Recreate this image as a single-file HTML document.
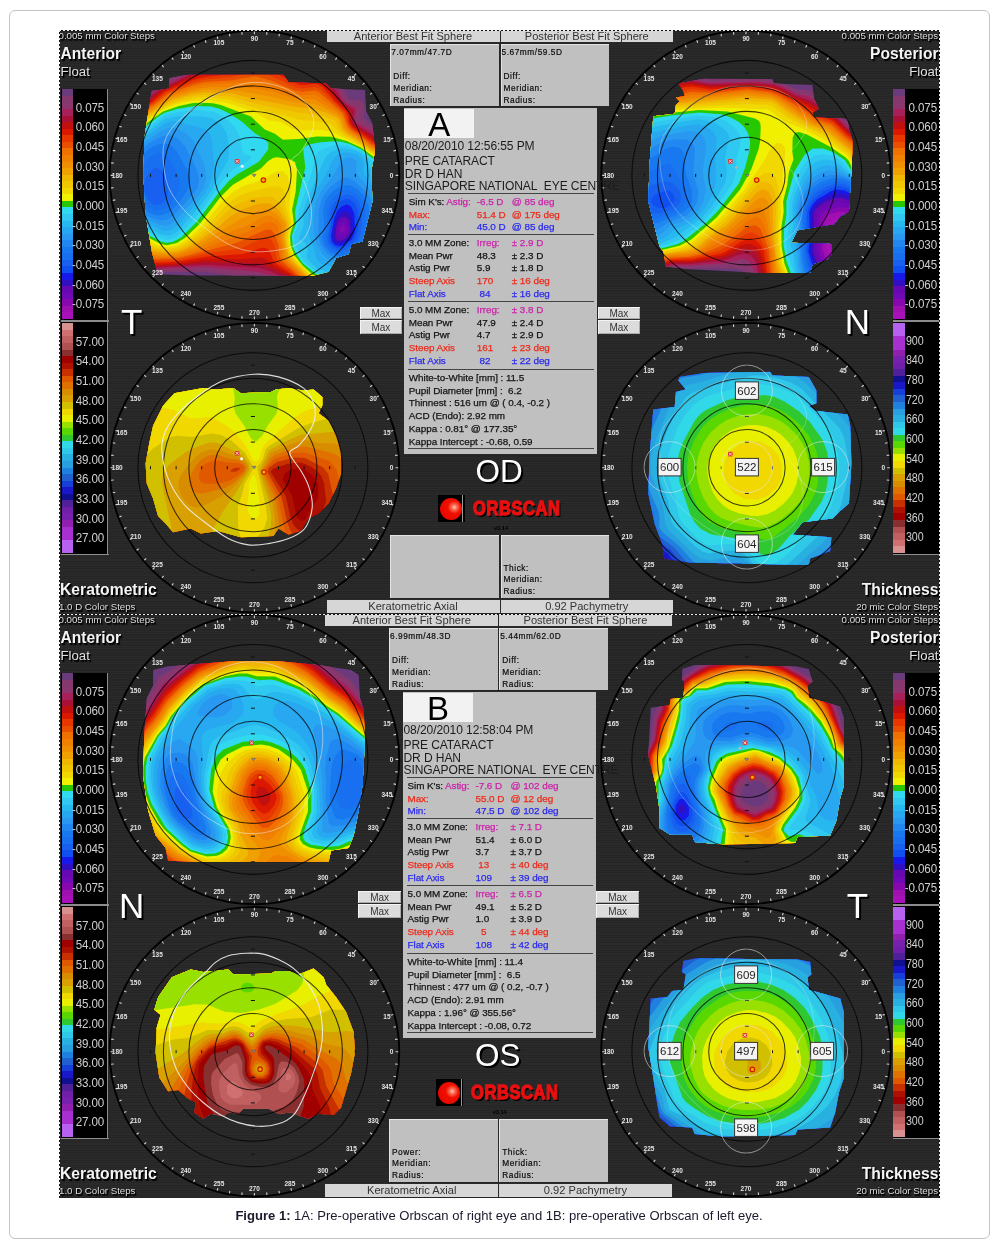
<!DOCTYPE html><html><head><meta charset="utf-8"><title>Figure 1</title><style>

html,body{margin:0;padding:0;background:#fff}
body{width:997px;height:1246px;position:relative;overflow:hidden;font-family:"Liberation Sans",sans-serif}
#frame{position:absolute;left:9px;top:10px;width:981px;height:1228.5px;border:1px solid #c4c4c4;border-radius:6px;box-sizing:border-box}
#fig{position:absolute;left:59px;top:30px;width:881px;height:1168px;background:#292929;overflow:hidden}
.panel{position:absolute;left:0;width:881px;height:584px;overflow:hidden;background:#2a2a2a repeating-linear-gradient(0deg,rgba(0,0,0,0.11) 0,rgba(0,0,0,0.11) 1px,rgba(0,0,0,0) 1px,rgba(0,0,0,0) 2.5px)}
.panel span,.panel div,.panel i{position:absolute;display:block;white-space:nowrap}
.sh{color:#f4f4f4;text-shadow:1px 1px 0 #000,1.5px 1.5px 1px #000}
.sh2{color:#fff;text-shadow:2px 2px 0 #000,1px 1px 0 #000}
.t9{font-size:9.7px;line-height:12px;color:#ddd}
.big{font-size:15.6px;font-weight:bold;line-height:22px;transform:scaleY(1.05)}
.big2{font-size:15.7px;font-weight:bold;line-height:22px;transform:scaleY(1.06)}
.flt{font-size:13.2px;line-height:14px;color:#e0e0e0}
.blk{background:#000}
.gl{background:#8c8c8c}
.sl{font-size:11.6px;line-height:14px;color:#d0d0d0;letter-spacing:-0.1px;transform:scaleY(1.15)}
.tn{font-size:35px;line-height:40px;text-align:center}
.tb{height:10.6px;background:#d6d6d6;color:#333;font-size:11.1px;line-height:11.5px;text-align:center;overflow:hidden}
.gb{height:62.6px;background:#c0c0c0;box-shadow:inset 1px 1px 0 #e4e4e4}
.g8{font-size:8.3px;line-height:10px;color:#0c0c0c;letter-spacing:0.55px;-webkit-text-stroke:0.2px #0c0c0c}
.mx{width:42.6px;height:12.4px;overflow:hidden;background:#dcdcdc;color:#333;font-size:10px;line-height:12.5px;text-align:center;box-shadow:inset 1px 1px 0 #f4f4f4,inset -1px -1px 0 #aaa}
.info{background:#c0c0c0;overflow:visible}
.info .wb{left:0.5px;top:1.4px;width:69.5px;height:28.2px;background:#f2f2f2}
.info .ltr{left:17.5px;top:-0.7px;width:36px;text-align:center;font-size:33px;line-height:36px;color:#000}
.info .hd{left:1px;font-size:12.05px;line-height:15px;color:#1c1c1c;letter-spacing:-0.1px;transform:scaleY(1.1);transform-origin:left center}
.info .ln{left:4.5px;width:186px;height:1px;background:#444}
.info .r{left:0;width:193px;height:12px;font-size:9.9px;line-height:12px;color:#141414;letter-spacing:-0.05px;margin-top:0.4px;-webkit-text-stroke:0.25px currentColor}
.info .r span{top:0}
.info .r.rd, .info .r.rd span{color:#ee2a1a}
.info .r.bl, .info .r.bl span{color:#2a2aee}
.info .r .m{color:#cc22aa}
.od{font-size:31.5px;line-height:36px;text-align:center}
.lg{width:27px;height:27.5px;background:#000}
.lg .c1{left:2px;top:3px;width:22px;height:22px;border-radius:50%;background:radial-gradient(circle at 65% 42%,#ffd0c0 0,#ff6a50 14%,#f01000 34%,#e00000 100%)}
.lg .c2{left:24.5px;top:0;width:1px;height:27.5px;background:#999}
.orb{font-size:20px;font-weight:bold;line-height:22px;color:#e81010;letter-spacing:0.6px;text-shadow:2px 2px 0 #000;-webkit-text-stroke:1.3px #e81010;transform:scaleX(0.83);transform-origin:left}
.ver{font-size:5.6px;line-height:6px;color:#000;font-weight:bold}
.tb.tb2{height:12.6px;line-height:13.2px}
.dash{left:0;top:0;width:881px;height:1.2px;background:repeating-linear-gradient(90deg,#eee 0,#eee 2px,#111 2px,#111 4px)}
.dashv{left:0;top:0;width:1.2px;height:584px;background:repeating-linear-gradient(180deg,#eee 0,#eee 2px,#111 2px,#111 4px)}
#cap{position:absolute;left:0;top:1207.8px;width:998px;text-align:center;font-size:13.05px;line-height:16px;color:#1a1a2c}

</style></head><body>
<div id="frame"></div>
<div id="fig">
<div class="panel" style="top:0px">
<svg style="position:absolute;left:0;top:0" width="881" height="584" viewBox="0 0 881 584"><g transform="translate(193.9,145.4)"><clipPath id="c1"><path d="M-83.5,-97.3 -64.7,-100.6 30.6,-100.6 35.6,-93.1 73.2,-91.8 78.2,-86.8 112.1,-85.5 113.3,-64.2 119.6,-51.7 122.1,-24.1 118.3,-4.0 119.6,26.1 113.3,51.1 109.6,66.2 98.3,68.7 95.8,78.7 83.2,82.5 75.7,96.3 60.7,100.0 -62.2,100.0 -94.8,98.8 -98.6,86.2 -101.1,76.2 -107.3,38.6 -109.4,1.0 -108.6,-36.6 -104.8,-61.7 -101.1,-84.3 -83.5,-86.8Z"/></clipPath><g clip-path="url(#c1)"><rect x="-130" y="-130" width="260" height="260" fill="#6b3a7c"/><path d="M130.0,130.0 42.5,130.0 30.0,114.3 19.9,108.0 6.0,104.3 -46.0,96.7 -88.0,96.5 -112.0,98.8 -130.0,97.4 -130.0,-74.6 -110.0,-81.4 -94.0,-92.1 -78.0,-99.4 -58.0,-111.0 -18.0,-124.0 -4.0,-127.4 12.0,-128.2 28.0,-125.4 66.0,-112.0 78.0,-105.4 86.5,-96.0 96.0,-76.2 108.0,-75.0 110.0,-73.5 111.7,-68.0 111.0,-58.0 111.8,-56.0 120.7,-50.0 130.0,-46.4 130.0,130.0Z" fill="#83386e"/><path d="M130.0,130.0 46.1,130.0 34.0,113.5 28.1,108.0 18.0,103.5 4.0,100.3 -50.0,94.0 -90.0,94.7 -110.0,96.6 -130.0,94.9 -130.0,-72.1 -108.0,-79.8 -93.8,-90.0 -78.0,-97.1 -58.0,-108.4 -4.0,-124.0 10.0,-124.8 24.0,-122.5 66.0,-107.8 76.0,-102.4 83.7,-94.0 94.0,-74.3 104.0,-70.8 106.6,-68.0 107.2,-64.0 105.4,-56.0 106.6,-54.0 122.0,-45.5 130.0,-42.7 130.0,130.0Z" fill="#8c3670"/><path d="M130.0,130.0 49.5,130.0 36.0,111.0 31.2,106.0 22.0,101.2 6.0,96.7 -48.0,91.7 -88.0,93.0 -108.0,94.8 -130.0,92.4 -130.0,-69.8 -106.8,-78.0 -92.0,-89.0 -76.0,-95.9 -58.0,-105.9 -2.0,-120.9 10.0,-121.2 22.0,-119.1 48.0,-108.7 66.0,-103.9 74.0,-99.8 81.3,-92.0 91.6,-74.0 94.0,-71.9 102.0,-68.3 103.7,-66.0 102.2,-54.0 122.0,-42.3 130.0,-39.7 130.0,130.0Z" fill="#a8205a"/><path d="M130.0,130.0 52.9,130.0 37.3,108.0 32.0,102.5 16.0,95.3 6.0,92.5 -48.0,89.3 -106.0,93.0 -130.0,89.9 -130.0,-67.6 -106.0,-76.1 -92.0,-86.9 -75.8,-94.0 -60.0,-102.7 -2.0,-117.5 8.0,-117.9 20.0,-115.8 48.0,-103.8 66.0,-100.3 73.8,-96.0 79.2,-90.0 89.3,-74.0 100.3,-66.0 101.0,-64.0 99.8,-56.0 101.3,-52.0 122.0,-39.5 130.0,-37.0 130.0,130.0Z" fill="#a81038"/><path d="M130.0,130.0 56.3,130.0 34.0,100.3 8.0,88.1 -48.0,86.8 -70.0,89.3 -104.0,91.3 -116.0,90.2 -130.0,87.3 -130.0,-65.3 -104.0,-74.9 -90.0,-86.1 -60.0,-100.3 -2.0,-114.1 8.0,-114.3 18.0,-112.5 28.0,-108.8 48.0,-98.9 64.0,-97.5 72.0,-93.7 77.4,-88.0 87.0,-74.0 97.9,-64.0 98.6,-54.0 101.2,-50.0 122.0,-36.9 130.0,-34.7 130.0,130.0Z" fill="#c01010"/><path d="M130.0,130.0 59.9,130.0 52.0,121.3 36.0,98.7 22.0,90.9 12.0,83.1 8.0,81.8 -10.0,83.9 -48.0,84.2 -70.0,87.5 -100.0,89.6 -114.0,88.4 -130.0,84.7 -130.0,-63.1 -102.0,-73.9 -90.0,-84.2 -60.0,-97.8 -48.0,-101.1 -24.0,-104.6 -2.0,-110.6 6.0,-110.9 14.0,-109.6 26.0,-105.4 48.0,-94.2 62.0,-94.6 70.0,-91.6 74.0,-88.0 84.6,-74.0 95.2,-64.0 97.2,-54.0 100.0,-49.2 120.0,-35.7 130.0,-32.6 130.0,130.0Z" fill="#dc1800"/><path d="M130.0,130.0 63.7,130.0 53.8,120.0 38.5,98.0 23.2,88.0 20.1,84.0 16.0,74.7 12.0,72.3 8.0,72.7 -10.0,78.7 -46.0,81.2 -76.0,86.3 -104.0,87.7 -130.0,82.0 -130.0,-60.8 -102.0,-72.2 -88.0,-83.5 -60.0,-95.4 -48.0,-98.5 -24.0,-101.1 -2.0,-107.0 8.0,-106.9 18.0,-104.3 46.0,-90.8 50.0,-90.1 62.0,-91.6 66.0,-90.6 70.0,-88.1 82.1,-74.0 92.9,-64.0 94.9,-60.0 96.6,-52.0 99.4,-48.0 120.0,-33.5 130.0,-30.6 130.0,130.0Z" fill="#e83800"/><path d="M130.0,130.0 67.8,130.0 56.0,119.2 39.1,96.0 25.4,86.0 23.6,82.0 21.9,70.0 18.0,64.0 14.0,62.2 8.0,63.7 -12.0,72.8 -46.0,78.1 -74.0,84.4 -102.0,86.0 -114.0,83.9 -130.0,79.2 -130.0,-58.6 -100.0,-71.7 -86.0,-82.7 -60.0,-92.9 -48.0,-95.9 -22.0,-98.1 -2.0,-103.3 6.0,-103.2 16.0,-100.5 44.0,-87.7 50.0,-86.9 62.0,-88.5 68.0,-86.0 92.0,-62.4 95.3,-52.0 98.0,-47.6 119.2,-32.0 130.0,-28.8 130.0,130.0Z" fill="#e85000"/><path d="M130.0,130.0 72.5,130.0 70.0,128.4 58.0,118.2 43.1,98.0 28.0,84.5 26.5,80.0 25.8,70.0 21.3,58.0 17.7,54.0 12.0,54.5 -16.0,67.4 -74.0,82.7 -102.0,84.0 -114.0,81.6 -130.0,76.3 -130.0,-56.2 -100.0,-70.2 -84.0,-81.8 -58.0,-91.2 -48.0,-93.3 -22.0,-94.9 2.0,-99.2 18.0,-94.9 42.0,-84.6 50.0,-83.6 62.0,-85.0 66.0,-83.4 90.0,-62.4 94.8,-50.0 98.0,-45.8 110.0,-37.9 118.0,-30.9 130.0,-27.1 130.0,130.0Z" fill="#f07000"/><path d="M130.0,130.0 78.3,130.0 66.0,122.4 56.0,112.9 45.2,98.0 30.5,84.0 29.0,80.0 28.8,72.0 25.9,62.0 25.1,52.0 22.2,48.0 18.0,46.5 12.0,47.3 -4.0,56.2 -62.4,78.0 -74.0,81.0 -102.0,81.9 -114.0,79.1 -130.0,73.3 -130.0,-53.9 -100.0,-68.7 -84.0,-80.1 -60.0,-88.3 -48.0,-90.8 2.0,-93.3 16.0,-90.2 40.0,-81.4 48.0,-80.2 62.0,-80.6 68.0,-77.5 88.2,-62.0 90.9,-58.0 94.0,-48.7 98.0,-44.1 110.0,-36.3 118.0,-29.3 130.0,-25.4 130.0,130.0Z" fill="#f08000"/><path d="M130.0,130.0 86.1,130.0 74.0,124.6 64.0,117.9 56.0,110.0 47.3,98.0 32.9,84.0 31.2,80.0 30.6,72.0 28.1,62.0 29.1,50.0 24.7,44.0 18.0,40.7 14.0,40.4 8.0,42.0 -2.0,48.3 -20.0,55.3 -58.5,74.0 -74.0,79.2 -86.0,80.4 -102.0,79.7 -114.0,76.5 -130.0,70.3 -130.0,-51.4 -100.0,-67.3 -82.0,-79.1 -58.0,-86.5 -44.0,-88.5 -6.0,-87.9 14.0,-85.0 42.0,-77.1 61.8,-76.0 84.0,-63.1 89.3,-58.0 92.7,-48.0 96.1,-44.0 110.0,-34.8 118.0,-28.0 130.0,-23.7 130.0,130.0Z" fill="#f09000"/><path d="M128.0,130.0 100.8,130.0 92.0,128.3 76.0,122.6 62.0,113.5 49.3,98.0 36.7,86.0 33.8,82.0 29.8,62.0 32.0,51.8 31.7,48.0 24.0,38.4 16.0,34.6 6.0,35.5 -14.0,44.5 -59.9,72.0 -74.0,77.4 -86.0,78.8 -100.0,77.8 -112.0,74.5 -130.0,67.1 -130.0,-48.9 -102.0,-64.6 -82.0,-77.2 -60.0,-83.8 -46.0,-85.8 -14.0,-84.5 16.0,-79.1 42.0,-73.0 60.0,-71.6 68.0,-69.0 84.0,-60.7 88.0,-56.9 90.9,-48.0 96.0,-42.3 108.0,-34.8 118.0,-26.8 130.0,-22.0 130.0,129.8 128.0,130.0Z" fill="#f0a000"/><path d="M118.0,126.2 102.0,126.2 86.0,123.2 72.0,117.6 60.0,109.0 51.2,98.0 35.6,82.0 31.4,62.0 31.7,58.0 34.0,52.0 34.0,48.0 26.0,34.8 22.0,30.9 16.0,28.2 10.0,27.9 2.0,29.3 -14.0,35.8 -22.0,40.6 -40.4,56.0 -54.8,66.0 -66.0,72.6 -75.9,76.0 -86.0,77.1 -100.0,75.5 -111.1,72.0 -130.0,63.7 -130.0,-46.2 -82.0,-75.3 -62.0,-81.2 -48.0,-83.2 -20.0,-81.8 2.0,-76.2 44.0,-68.3 62.0,-66.3 74.0,-62.5 83.8,-58.0 86.0,-55.9 90.1,-46.0 94.0,-42.0 108.0,-33.4 118.0,-25.6 130.0,-20.2 130.0,124.3 118.0,126.2Z" fill="#f0b800"/><path d="M110.0,122.1 90.0,120.7 72.0,114.7 60.0,106.5 51.2,96.0 40.6,86.0 36.0,79.1 33.2,66.0 33.2,58.0 35.9,50.0 35.2,46.0 26.0,26.7 20.0,21.5 12.0,20.9 0.0,22.7 -16.0,28.8 -26.0,36.1 -39.5,50.0 -51.4,60.0 -65.8,70.0 -76.0,74.1 -86.0,75.4 -100.0,73.1 -130.0,60.3 -130.0,-43.4 -84.0,-72.5 -66.0,-78.1 -50.0,-80.6 -22.0,-78.8 0.0,-72.4 22.0,-67.5 48.0,-62.4 70.0,-59.5 82.0,-55.2 87.5,-46.0 91.3,-42.0 108.0,-32.0 118.0,-24.3 130.0,-18.2 130.0,118.5 110.0,122.1Z" fill="#f0c800"/><path d="M118.0,116.2 108.0,117.7 96.0,117.8 84.0,116.0 74.0,112.8 62.0,105.9 40.7,84.0 37.2,78.0 34.5,66.0 34.6,58.0 37.4,48.0 32.8,32.0 31.7,18.0 30.0,13.7 26.0,11.1 20.0,10.9 -4.0,16.6 -16.0,21.3 -26.0,28.7 -41.1,46.0 -51.5,56.0 -67.0,68.0 -76.0,72.1 -86.0,73.6 -98.0,71.3 -130.0,56.7 -130.0,-40.4 -86.0,-69.6 -74.0,-74.0 -54.0,-77.9 -40.0,-77.9 -26.0,-76.3 16.0,-63.2 32.0,-59.9 46.0,-55.6 70.0,-53.5 78.0,-51.4 90.9,-40.0 108.0,-30.6 116.0,-24.4 130.0,-15.9 130.0,112.4 118.0,116.2Z" fill="#f0d800"/><path d="M114.0,112.0 104.0,113.6 92.0,113.7 82.0,112.2 72.0,109.1 60.0,101.8 41.0,82.0 38.0,75.8 35.6,64.0 36.0,58.0 39.0,48.0 36.2,32.0 38.0,12.0 34.5,0.0 30.0,-4.4 24.0,-4.0 6.0,5.5 -10.0,10.9 -20.0,16.6 -30.0,25.7 -52.0,52.0 -66.0,64.3 -76.0,70.0 -86.0,71.8 -94.7,70.0 -128.4,54.0 -130.0,53.0 -130.0,-37.1 -94.0,-63.4 -86.0,-67.6 -76.0,-71.3 -62.0,-74.5 -44.0,-75.4 -28.0,-73.2 1.2,-64.0 16.0,-55.0 28.0,-53.4 40.0,-46.2 50.0,-44.8 68.0,-45.7 80.0,-43.1 108.0,-29.2 124.5,-18.0 130.0,-13.0 130.0,106.0 114.0,112.0Z" fill="#f0f000"/><path d="M108.0,108.4 98.0,109.8 88.0,109.7 70.0,105.5 60.0,99.4 49.6,90.0 41.6,80.0 37.7,70.0 37.1,62.0 37.9,56.0 40.9,48.0 39.2,34.0 42.8,16.0 44.1,-6.0 42.0,-13.5 36.0,-16.4 24.0,-18.1 20.0,-17.3 14.8,-14.0 8.0,-7.0 -20.0,9.4 -32.0,21.1 -52.8,48.0 -67.4,62.0 -76.0,67.6 -86.0,69.8 -92.0,68.5 -125.6,52.0 -130.0,49.1 -130.0,-33.6 -117.6,-44.0 -90.0,-63.9 -74.0,-69.4 -60.0,-72.3 -52.0,-72.7 -40.0,-72.2 -32.0,-70.5 -2.0,-58.9 11.9,-46.0 22.0,-41.7 30.0,-35.7 46.0,-36.5 64.0,-39.0 78.0,-38.6 94.0,-34.5 108.0,-27.8 124.2,-16.0 130.0,-9.0 130.0,44.0 130.0,99.1 120.0,104.6 108.0,108.4Z" fill="#28c800"/><path d="M-80.0,66.4 -86.0,67.4 -92.0,66.0 -120.0,51.6 -130.0,44.9 -130.0,-29.7 -116.3,-42.0 -93.0,-60.0 -88.0,-62.6 -76.0,-66.3 -58.0,-69.5 -42.0,-68.9 -34.0,-67.0 -23.5,-62.0 -11.2,-54.0 2.0,-42.2 12.0,-36.0 15.6,-32.0 15.3,-26.0 6.0,-13.6 -16.0,-0.9 -24.0,5.6 -34.0,17.1 -55.8,46.0 -71.8,62.0 -80.0,66.4ZM106.0,104.1 96.0,105.7 86.0,105.8 74.8,104.0 66.0,100.9 50.0,88.0 42.9,78.0 40.0,71.3 38.9,60.0 43.1,48.0 42.1,36.0 52.4,-8.0 50.3,-26.0 52.0,-28.7 56.0,-30.9 66.0,-33.0 80.0,-34.1 88.0,-33.7 96.0,-31.7 108.5,-26.0 121.0,-16.0 124.6,-12.0 130.0,-2.6 130.0,91.5 118.0,99.6 106.0,104.1Z" fill="#30d8f0"/><path d="M-84.0,64.3 -88.0,64.2 -94.0,61.9 -119.8,48.0 -130.0,40.3 -130.0,-25.2 -114.7,-40.0 -88.0,-60.1 -76.0,-63.2 -56.0,-65.3 -38.0,-63.2 -28.0,-58.0 -17.7,-48.0 -12.7,-38.0 -10.6,-24.0 -8.0,-21.1 -2.6,-20.0 -1.7,-18.0 -5.5,-14.0 -18.0,-7.4 -24.0,-2.5 -30.0,4.6 -48.0,30.6 -59.0,44.0 -74.0,59.7 -78.0,62.4 -84.0,64.3ZM102.0,100.3 92.0,101.8 82.0,101.6 72.0,99.9 64.0,96.8 51.3,86.0 42.0,69.0 41.3,66.0 41.6,58.0 46.1,48.0 45.5,40.0 46.3,34.0 59.2,-4.0 62.8,-20.0 65.6,-24.0 68.6,-26.0 82.0,-30.3 94.0,-30.0 108.7,-24.0 120.8,-12.0 130.0,6.5 130.0,83.0 124.0,89.1 117.2,94.0 102.0,100.3Z" fill="#30c8f0"/><path d="M-84.0,60.4 -92.0,59.0 -114.0,47.6 -122.7,42.0 -130.0,35.0 -130.0,-19.9 -115.2,-36.0 -88.0,-56.6 -74.0,-59.4 -50.0,-58.9 -40.0,-56.8 -32.0,-51.4 -26.1,-42.0 -24.1,-30.0 -23.8,-20.0 -24.7,-16.0 -42.1,16.0 -50.0,27.3 -74.0,54.7 -78.0,58.0 -84.0,60.4ZM100.0,96.0 92.0,97.4 82.0,97.4 72.0,96.0 64.0,92.8 54.6,84.0 53.5,80.0 54.6,74.0 54.1,70.0 52.0,67.3 46.7,64.0 45.9,62.0 50.7,50.0 50.2,38.0 52.6,28.0 71.4,-16.0 73.9,-20.0 78.0,-23.5 88.0,-27.2 98.9,-26.0 106.0,-23.2 110.0,-20.1 115.9,-12.0 118.6,-2.0 130.0,16.9 130.0,72.8 125.2,80.0 118.0,87.0 110.0,92.2 100.0,96.0Z" fill="#28b8f0"/><path d="M-82.0,54.8 -86.0,55.7 -90.0,55.2 -110.0,46.1 -122.0,38.0 -129.1,30.0 -130.0,28.6 -130.0,-13.1 -120.0,-27.1 -106.0,-39.8 -88.0,-51.8 -82.0,-53.9 -76.0,-54.2 -50.0,-47.0 -44.8,-44.0 -41.8,-38.0 -38.5,-10.0 -41.2,4.0 -47.7,18.0 -74.0,48.5 -82.0,54.8ZM96.0,92.3 82.0,92.7 67.3,88.0 63.9,84.0 62.1,76.0 55.4,58.0 55.7,36.0 61.3,18.0 72.4,0.0 81.3,-18.0 86.7,-22.0 94.0,-23.5 104.0,-21.0 109.1,-16.0 110.6,-12.0 110.8,-2.0 124.2,16.0 130.0,31.7 130.0,56.7 124.3,72.0 118.2,80.0 112.0,85.3 104.0,89.8 96.0,92.3Z" fill="#28a8f0"/><path d="M-86.0,50.1 -94.0,49.2 -106.0,44.4 -116.0,38.3 -122.6,32.0 -126.8,26.0 -130.0,18.6 -130.0,-2.4 -122.6,-18.0 -110.0,-32.3 -92.0,-44.4 -84.0,-47.1 -78.0,-47.4 -68.0,-43.2 -60.0,-35.6 -48.4,-10.0 -46.8,2.0 -49.0,12.0 -54.0,19.5 -78.0,45.7 -82.0,48.7 -86.0,50.1ZM94.0,88.3 86.0,88.6 80.0,86.9 72.0,81.2 69.2,78.0 64.6,70.0 61.4,60.0 60.7,40.0 62.4,28.0 67.7,16.0 80.3,0.0 88.2,-14.0 92.0,-16.9 96.0,-18.0 100.0,-17.1 103.3,-14.0 103.6,-4.0 104.8,0.0 117.1,14.0 122.0,22.0 125.2,32.0 126.2,44.0 124.0,60.0 118.0,72.7 108.0,82.4 101.5,86.0 94.0,88.3Z" fill="#2898f0"/><path d="M-86.0,44.3 -92.0,45.0 -100.0,43.1 -108.0,39.4 -115.3,34.0 -120.6,28.0 -124.0,22.0 -126.0,16.0 -126.9,8.0 -126.0,0.0 -123.4,-8.0 -119.1,-16.0 -113.0,-24.0 -106.0,-30.7 -98.0,-35.9 -90.0,-39.2 -84.0,-39.9 -76.0,-37.7 -68.4,-30.0 -56.1,-6.0 -53.9,4.0 -55.5,12.0 -61.0,20.0 -79.4,40.0 -86.0,44.3ZM94.0,84.2 84.0,84.0 74.0,77.8 68.2,70.0 65.6,60.0 65.9,34.0 68.6,24.0 72.0,17.9 78.0,11.0 86.0,4.6 92.0,2.2 96.0,2.8 102.0,6.3 114.0,17.2 119.5,28.0 121.4,40.0 120.1,56.0 115.7,68.0 106.8,78.0 100.0,82.1 94.0,84.2Z" fill="#2088f0"/><path d="M-92.0,40.1 -98.0,39.5 -104.0,37.3 -113.5,30.0 -117.9,24.0 -120.5,18.0 -121.9,6.0 -118.1,-8.0 -108.7,-22.0 -104.0,-26.4 -98.0,-29.9 -88.0,-31.9 -81.9,-30.0 -75.9,-24.0 -65.2,-4.0 -62.8,6.0 -66.0,16.0 -74.7,28.0 -84.0,37.2 -92.0,40.1ZM94.0,80.5 86.0,81.1 78.0,77.5 71.2,70.0 69.0,62.0 71.1,50.0 70.2,34.0 72.3,26.0 76.0,19.8 82.0,14.0 88.0,10.8 94.0,9.7 98.0,10.4 104.0,13.4 110.9,20.0 115.7,30.0 117.0,42.0 115.7,56.0 112.0,66.3 104.0,75.2 94.0,80.5Z" fill="#1878f0"/><path d="M-90.0,34.4 -98.0,34.9 -107.1,30.0 -113.2,22.0 -116.1,12.0 -114.8,0.0 -110.0,-10.6 -102.0,-19.7 -94.0,-22.6 -88.0,-21.1 -82.8,-16.0 -75.4,-2.0 -73.3,6.0 -74.2,14.0 -77.7,22.0 -83.6,30.0 -90.0,34.4ZM90.0,78.1 84.0,77.7 80.0,76.0 76.0,72.8 72.9,68.0 71.6,62.0 74.5,50.0 73.7,36.0 76.0,27.6 81.6,20.0 88.0,16.0 96.0,14.9 104.0,18.5 109.9,26.0 112.6,36.0 112.5,50.0 110.7,60.0 106.6,68.0 98.0,75.0 90.0,78.1Z" fill="#1870f0"/><path d="M-92.0,28.7 -98.0,29.5 -102.0,27.5 -106.4,22.0 -108.5,16.0 -108.6,8.0 -106.8,2.0 -102.0,-5.1 -98.0,-7.4 -94.0,-7.2 -90.0,-4.0 -86.6,2.0 -85.1,8.0 -85.2,20.0 -88.0,25.4 -92.0,28.7ZM92.0,74.7 86.0,75.6 80.0,73.4 75.3,68.0 74.0,62.0 76.7,50.0 77.1,36.0 79.0,30.0 85.7,22.0 94.0,19.2 100.0,20.7 105.4,26.0 108.4,34.0 109.1,44.0 107.7,58.0 105.4,64.0 100.1,70.0 92.0,74.7Z" fill="#1860f0"/><path d="M90.0,72.7 84.0,72.8 80.0,70.7 76.7,66.0 76.2,60.0 79.4,40.0 82.0,32.2 88.0,25.6 92.0,23.8 96.0,23.7 101.8,28.0 104.5,34.0 105.6,42.0 104.9,56.0 103.2,62.0 100.5,66.0 90.0,72.7Z" fill="#1050f0"/><path d="M90.0,70.2 86.0,70.8 82.0,69.6 79.0,66.0 78.2,60.0 81.6,42.0 84.0,36.0 88.0,31.3 94.0,28.9 98.0,31.0 101.5,38.0 102.1,56.0 98.9,64.0 90.0,70.2Z" fill="#1818e8"/><path d="M88.0,68.3 84.0,68.0 81.5,66.0 80.2,62.0 81.0,54.0 82.7,46.0 86.0,39.3 90.0,36.0 94.0,35.8 96.7,38.0 98.7,42.0 99.6,56.0 98.5,60.0 96.0,63.6 88.0,68.3Z" fill="#3010c0"/><path d="M90.0,64.8 86.0,65.5 84.0,64.6 82.8,62.0 82.5,56.0 84.0,48.4 86.0,44.4 88.0,42.3 92.0,41.1 96.0,44.6 97.5,54.0 95.8,60.0 90.0,64.8Z" fill="#6808b0"/><path d="M92.0,60.3 88.0,61.8 86.0,60.8 84.8,58.0 85.6,50.0 88.0,46.5 90.0,45.5 92.0,45.8 94.0,47.7 95.3,52.0 94.9,56.0 92.0,60.3Z" fill="#7008b8"/><path d="M90.0,57.0 88.0,56.4 87.2,54.0 88.0,50.8 90.0,49.5 92.5,52.0 92.0,55.2 90.0,57.0Z" fill="#8808b0"/></g><circle r="38.2" fill="none" stroke="#000" stroke-width="1.05" stroke-opacity="0.75"/><circle r="64.0" fill="none" stroke="#000" stroke-width="1.05" stroke-opacity="0.75"/><circle r="89.5" fill="none" stroke="#000" stroke-width="1.05" stroke-opacity="0.75"/><circle r="115.0" fill="none" stroke="#000" stroke-width="1.05" stroke-opacity="0.75"/><path d="M25.6,-1.5v3M-25.6,-1.5v3M-2,25.6h4M-2,-25.6h4M51.2,-1.5v3M-51.2,-1.5v3M-2,51.2h4M-2,-51.2h4M76.8,-1.5v3M-76.8,-1.5v3M-2,76.8h4M-2,-76.8h4M102.4,-1.5v3M-102.4,-1.5v3M-2,102.4h4M-2,-102.4h4" stroke="#111" stroke-width="1" fill="none"/><path d="M-89.8,-16.6C-90.2,-24.5 -89.8,-30.4 -87.3,-36.6C-84.8,-42.9 -80.6,-48.3 -74.7,-54.2C-68.9,-60.0 -60.5,-66.3 -52.2,-71.7C-43.8,-77.2 -33.4,-83.2 -24.6,-86.8C-15.8,-90.3 -7.9,-92.6 0.5,-93.1C8.8,-93.5 18.0,-91.6 25.6,-89.3C33.1,-87.0 40.2,-83.4 45.6,-79.3C51.0,-75.1 55.6,-69.2 58.1,-64.2C60.7,-59.2 61.1,-53.8 60.7,-49.2C60.2,-44.6 57.7,-40.8 55.6,-36.6C53.6,-32.5 51.0,-27.9 48.1,-24.1C45.2,-20.3 38.5,-17.4 38.1,-14.1C37.7,-10.7 43.1,-8.2 45.6,-4.0C48.1,0.1 51.0,5.2 53.1,11.0C55.2,16.9 57.5,24.4 58.1,31.1C58.8,37.8 58.6,45.3 56.9,51.1C55.2,57.0 52.5,62.4 48.1,66.2C43.7,69.9 38.5,72.0 30.6,73.7C22.6,75.4 9.7,77.0 0.5,76.2C-8.7,75.4 -16.2,72.9 -24.6,68.7C-33.0,64.5 -42.2,57.0 -49.7,51.1C-57.2,45.3 -63.9,40.3 -69.7,33.6C-75.6,26.9 -81.4,19.4 -84.8,11.0C-88.1,2.6 -89.4,-8.6 -89.8,-16.6Z" fill="none" stroke="#f0f0f0" stroke-width="0.7" stroke-opacity="0.75"/><rect x="-18.1" y="-16.4" width="4.6" height="4.6" fill="#e03030"/><path d="M-17.3,-15.6l3,3m0,-3l-3,3" stroke="#fff" stroke-width="0.8"/><circle cx="-10.8" cy="-9.1" r="1.5" fill="#fff"/><path d="M-0.8,-1.1h4l-2,2.6z" fill="#8090b0" stroke="#444" stroke-width="0.4"/><circle cx="10.5" cy="4.7" r="2.2" fill="#ffb000" stroke="#d02000" stroke-width="1.3"/><g transform="translate(1.5,0)"><circle r="144.8" fill="none" stroke="#000" stroke-width="1.9"/><path d="M143.8,-0.0L141.2,-0.0M143.3,-12.5L140.7,-12.3M141.6,-25.0L139.1,-24.5M138.9,-37.2L136.4,-36.5M135.1,-49.2L132.7,-48.3M130.3,-60.8L128.0,-59.7M124.5,-71.9L122.3,-70.6M117.8,-82.5L115.7,-81.0M110.2,-92.4L108.2,-90.8M101.7,-101.7L99.8,-99.8M92.4,-110.2L90.8,-108.2M82.5,-117.8L81.0,-115.7M71.9,-124.5L70.6,-122.3M60.8,-130.3L59.7,-128.0M49.2,-135.1L48.3,-132.7M37.2,-138.9L36.5,-136.4M25.0,-141.6L24.5,-139.1M12.5,-143.3L12.3,-140.7M0.0,-143.8L0.0,-141.2M-12.5,-143.3L-12.3,-140.7M-25.0,-141.6L-24.5,-139.1M-37.2,-138.9L-36.5,-136.4M-49.2,-135.1L-48.3,-132.7M-60.8,-130.3L-59.7,-128.0M-71.9,-124.5L-70.6,-122.3M-82.5,-117.8L-81.0,-115.7M-92.4,-110.2L-90.8,-108.2M-101.7,-101.7L-99.8,-99.8M-110.2,-92.4L-108.2,-90.8M-117.8,-82.5L-115.7,-81.0M-124.5,-71.9L-122.3,-70.6M-130.3,-60.8L-128.0,-59.7M-135.1,-49.2L-132.7,-48.3M-138.9,-37.2L-136.4,-36.5M-141.6,-25.0L-139.1,-24.5M-143.3,-12.5L-140.7,-12.3M-143.8,-0.0L-141.2,-0.0M-143.3,12.5L-140.7,12.3M-141.6,25.0L-139.1,24.5M-138.9,37.2L-136.4,36.5M-135.1,49.2L-132.7,48.3M-130.3,60.8L-128.0,59.7M-124.5,71.9L-122.3,70.6M-117.8,82.5L-115.7,81.0M-110.2,92.4L-108.2,90.8M-101.7,101.7L-99.8,99.8M-92.4,110.2L-90.8,108.2M-82.5,117.8L-81.0,115.7M-71.9,124.5L-70.6,122.3M-60.8,130.3L-59.7,128.0M-49.2,135.1L-48.3,132.7M-37.2,138.9L-36.5,136.4M-25.0,141.6L-24.5,139.1M-12.5,143.3L-12.3,140.7M-0.0,143.8L-0.0,141.2M12.5,143.3L12.3,140.7M25.0,141.6L24.5,139.1M37.2,138.9L36.5,136.4M49.2,135.1L48.3,132.7M60.8,130.3L59.7,128.0M71.9,124.5L70.6,122.3M82.5,117.8L81.0,115.7M92.4,110.2L90.8,108.2M101.7,101.7L99.8,99.8M110.2,92.4L108.2,90.8M117.8,82.5L115.7,81.0M124.5,71.9L122.3,70.6M130.3,60.8L128.0,59.7M135.1,49.2L132.7,48.3M138.9,37.2L136.4,36.5M141.6,25.0L139.1,24.5M143.3,12.5L140.7,12.3" stroke="#d0d0d0" stroke-width="1.1" fill="none"/><g font-size="6.5" font-weight="bold" fill="#e4e4e4" text-anchor="middle" font-family="Liberation Sans, sans-serif"><text x="137.2" y="2.3">0</text><text x="132.5" y="-33.2">15</text><text x="118.8" y="-66.3">30</text><text x="97.0" y="-94.7">45</text><text x="68.6" y="-116.5">60</text><text x="35.5" y="-130.2">75</text><text x="0.0" y="-134.9">90</text><text x="-35.5" y="-130.2">105</text><text x="-68.6" y="-116.5">120</text><text x="-97.0" y="-94.7">135</text><text x="-118.8" y="-66.3">150</text><text x="-132.5" y="-33.2">165</text><text x="-137.2" y="2.3">180</text><text x="-132.5" y="37.8">195</text><text x="-118.8" y="70.9">210</text><text x="-97.0" y="99.3">225</text><text x="-68.6" y="121.1">240</text><text x="-35.5" y="134.8">255</text><text x="-0.0" y="139.5">270</text><text x="35.5" y="134.8">285</text><text x="68.6" y="121.1">300</text><text x="97.0" y="99.3">315</text><text x="118.8" y="70.9">330</text><text x="132.5" y="37.8">345</text></g></g></g><g transform="translate(687.9,145.4)"><clipPath id="c2"><path d="M-68.5,-91.8 -42.2,-96.8 25.6,-96.3 26.8,-91.8 65.7,-90.5 66.9,-76.8 71.9,-66.7 65.7,-63.0 66.9,-58.0 100.8,-56.7 102.0,-46.7 105.8,-34.1 104.5,-4.0 102.0,36.1 93.3,41.1 87.0,48.6 50.6,54.9 44.4,67.4 84.5,68.7 84.5,78.7 80.7,83.7 65.7,88.7 63.2,97.5 15.5,97.5 -57.2,93.8 -81.0,91.2 -83.5,76.2 -87.3,71.2 -98.6,26.1 -97.3,-11.6 -93.6,-59.2 -72.2,-61.7 -71.0,-70.5 -67.2,-74.2 -71.0,-78.0 -62.2,-79.3 -63.5,-84.3Z"/></clipPath><g clip-path="url(#c2)"><rect x="-130" y="-130" width="260" height="260" fill="#6b3a7c"/><path d="M130.0,130.1 10.1,130.0 4.8,110.0 0.3,100.0 -4.0,95.5 -12.0,93.4 -38.0,92.8 -74.0,93.8 -130.0,119.4 -130.0,-105.7 -58.0,-100.7 -38.0,-96.1 14.0,-96.9 30.0,-94.8 50.0,-85.8 60.0,-85.4 66.0,-83.2 90.0,-65.0 102.1,-52.0 112.0,-45.9 130.0,-37.3 130.0,130.1Z" fill="#83386e"/><path d="M130.0,130.1 13.2,130.0 8.0,108.7 4.0,97.1 0.0,91.4 -6.0,88.8 -24.0,90.5 -74.0,91.9 -108.0,107.4 -130.0,116.1 -130.0,-102.7 -60.0,-98.8 -40.0,-94.5 12.0,-95.2 28.0,-93.4 36.0,-90.6 50.0,-83.4 60.0,-82.4 66.0,-80.0 88.0,-64.1 102.0,-49.7 130.0,-34.8 130.0,130.1Z" fill="#8c3670"/><path d="M130.0,130.1 16.2,130.0 6.6,92.0 2.0,85.5 -4.0,83.4 -24.0,87.9 -58.0,90.3 -74.0,90.0 -108.0,104.9 -130.0,112.9 -130.0,-99.8 -110.0,-99.3 -78.0,-96.7 -58.0,-96.7 -38.0,-92.7 10.0,-93.8 28.0,-91.7 36.0,-88.8 50.0,-81.4 60.0,-79.4 66.0,-76.7 88.0,-61.6 102.0,-47.5 130.0,-32.3 130.0,130.1Z" fill="#a8205a"/><path d="M130.0,130.1 19.0,130.0 8.8,86.0 4.0,80.0 -2.0,78.4 -8.0,79.4 -24.0,85.4 -56.0,88.6 -76.0,88.8 -104.0,101.0 -130.0,109.9 -130.0,-96.8 -108.0,-96.4 -76.0,-94.0 -58.0,-94.8 -38.0,-91.1 4.0,-92.5 26.0,-90.6 34.0,-87.9 48.0,-80.2 64.0,-74.7 88.0,-59.3 98.0,-48.7 104.0,-44.1 130.0,-29.8 130.0,130.1Z" fill="#a81038"/><path d="M130.0,130.1 21.8,130.0 12.0,82.8 8.0,76.5 2.0,73.7 -6.0,74.7 -18.0,80.8 -26.0,83.2 -56.0,87.1 -76.0,87.3 -104.0,98.8 -130.0,106.9 -130.0,-93.7 -108.0,-93.7 -76.0,-91.4 -56.0,-92.8 -36.0,-89.4 4.0,-91.2 26.0,-89.0 34.0,-86.1 48.0,-78.3 62.0,-72.8 84.0,-59.8 90.0,-55.4 102.0,-43.4 130.0,-27.2 130.0,130.1Z" fill="#c01010"/><path d="M130.0,130.1 24.5,130.0 19.1,106.0 14.9,80.0 10.0,71.9 4.0,68.8 0.0,68.7 -6.0,70.4 -24.0,80.2 -56.0,85.6 -76.0,85.9 -104.0,96.7 -130.0,104.0 -130.0,-90.7 -106.0,-91.0 -74.0,-88.6 -56.0,-90.8 -36.0,-87.7 2.0,-90.0 26.0,-87.4 34.0,-84.4 46.0,-77.3 60.0,-71.0 72.0,-63.1 86.0,-56.4 102.0,-41.4 130.0,-24.7 130.0,130.1Z" fill="#dc1800"/><path d="M130.0,130.1 27.2,130.0 21.2,104.0 17.0,76.0 14.0,70.3 10.0,65.7 4.0,63.2 -6.0,66.0 -21.0,76.0 -25.7,78.0 -54.0,83.9 -76.0,84.7 -104.0,94.7 -130.0,101.1 -130.0,-87.6 -104.0,-88.2 -72.0,-85.8 -62.0,-88.1 -54.0,-88.6 -36.0,-86.0 0.0,-88.8 26.0,-85.8 34.0,-82.6 58.0,-69.5 72.0,-60.2 86.0,-54.4 101.0,-40.0 130.0,-22.1 130.0,130.1Z" fill="#e83800"/><path d="M130.0,130.0 29.8,130.0 22.8,100.0 20.0,76.0 12.0,60.7 6.0,57.0 2.0,57.4 -4.0,60.0 -26.0,74.9 -52.0,82.1 -76.0,83.5 -104.0,92.7 -130.0,98.3 -130.0,-84.4 -102.0,-85.5 -70.0,-83.0 -56.0,-86.2 -36.0,-84.2 0.0,-87.4 26.0,-84.2 34.0,-80.8 56.1,-68.0 70.8,-58.0 86.0,-52.3 100.0,-38.7 120.0,-25.0 130.0,-19.5 130.0,130.0Z" fill="#e85000"/><path d="M130.0,130.0 32.4,130.0 24.6,98.0 22.0,74.4 14.0,54.6 12.0,51.9 8.0,49.8 4.0,50.3 -2.0,53.3 -26.0,70.8 -46.0,78.9 -58.0,81.5 -76.0,82.3 -102.0,90.2 -130.0,95.5 -130.0,-81.2 -102.0,-82.8 -68.0,-80.5 -56.0,-83.5 -34.0,-82.5 0.0,-86.0 24.0,-83.0 34.0,-78.9 58.0,-64.3 70.0,-55.7 84.0,-51.2 100.0,-36.6 120.0,-22.3 130.0,-16.9 130.0,130.0Z" fill="#f07000"/><path d="M130.0,130.0 35.0,130.0 27.1,100.0 24.5,76.0 18.0,52.0 14.0,43.7 10.0,41.5 2.0,44.6 -24.0,65.1 -48.0,77.8 -60.0,80.3 -76.0,81.2 -102.0,88.4 -130.0,92.7 -130.0,-77.9 -102.0,-80.1 -68.0,-78.2 -56.0,-80.6 -34.0,-80.6 0.0,-84.3 24.0,-81.4 32.4,-78.0 68.9,-54.0 84.0,-48.9 96.0,-37.6 116.0,-22.4 130.0,-14.3 130.0,130.0Z" fill="#f08000"/><path d="M130.0,130.0 37.6,130.0 27.8,94.0 26.3,76.0 23.0,64.0 20.0,44.3 17.4,36.0 14.0,31.7 10.0,32.3 6.0,34.8 -22.0,59.4 -36.0,67.3 -48.1,76.0 -58.0,78.6 -76.0,80.1 -104.0,86.9 -130.0,89.9 -130.0,-74.5 -102.0,-77.4 -68.0,-76.1 0.0,-82.3 24.0,-79.6 32.0,-76.2 68.0,-52.4 82.0,-47.8 116.0,-19.5 130.0,-11.8 130.0,130.0Z" fill="#f09000"/><path d="M130.0,130.0 40.2,130.0 29.2,92.0 27.8,76.0 24.8,62.0 21.6,28.0 19.9,24.0 16.0,21.8 12.0,22.8 8.0,25.7 -22.0,55.2 -38.0,65.2 -45.3,72.0 -50.0,74.8 -60.0,77.3 -76.0,78.9 -100.0,84.4 -130.0,87.1 -130.0,-71.0 -104.0,-74.5 -68.0,-74.1 -2.0,-80.1 24.0,-77.8 30.0,-75.3 66.0,-51.3 82.0,-45.3 116.0,-16.5 130.0,-9.2 130.0,130.0Z" fill="#f0a000"/><path d="M130.0,130.0 42.8,130.0 30.2,88.0 26.6,60.0 25.6,24.0 22.0,16.4 18.0,14.1 14.0,14.7 10.0,17.2 -20.0,49.3 -38.0,62.1 -50.0,72.6 -60.0,75.7 -76.0,77.7 -96.0,82.1 -130.0,84.3 -130.0,-67.3 -102.0,-71.8 -66.0,-72.2 -2.0,-77.6 24.0,-75.8 28.4,-74.0 44.0,-62.7 64.0,-50.3 80.0,-44.0 104.0,-24.7 115.2,-14.0 130.0,-6.7 130.0,130.0Z" fill="#f0b800"/><path d="M130.0,130.0 45.3,130.0 31.9,88.0 28.6,60.0 29.2,26.0 28.3,18.0 25.2,10.0 20.0,6.3 14.0,7.2 10.0,10.2 -21.1,46.0 -52.0,71.1 -60.2,74.0 -92.0,79.9 -110.0,81.4 -130.0,81.4 -130.0,-63.5 -110.0,-67.8 -94.0,-69.7 -66.0,-70.1 0.0,-74.8 24.0,-73.3 28.0,-71.4 42.0,-60.8 62.0,-49.0 80.0,-41.2 102.0,-23.9 113.4,-12.0 130.0,-4.3 130.0,130.0Z" fill="#f0c800"/><path d="M130.0,130.0 47.9,130.0 33.6,88.0 30.5,58.0 31.6,12.0 28.6,2.0 24.0,-2.7 18.0,-2.3 10.0,3.1 -4.0,21.7 -21.5,42.0 -54.9,70.0 -64.0,73.1 -90.0,78.2 -110.0,79.2 -130.0,78.4 -130.0,-59.5 -110.0,-64.5 -92.0,-67.0 -26.0,-70.5 2.0,-71.3 22.0,-70.5 27.4,-68.0 42.0,-56.9 78.0,-39.4 101.1,-22.0 111.5,-10.0 130.0,-1.9 130.0,130.0Z" fill="#f0d800"/><path d="M130.0,130.0 50.6,130.0 35.4,88.0 32.8,70.0 32.3,52.0 34.0,38.0 33.5,28.0 36.1,10.0 35.6,-2.0 38.0,-14.0 38.4,-24.0 37.8,-28.0 34.0,-32.2 30.0,-32.3 24.6,-28.0 16.8,-14.0 -2.4,14.0 -22.2,38.0 -32.3,48.0 -56.0,67.7 -66.8,72.0 -88.0,76.4 -108.0,76.9 -130.0,75.2 -130.0,-55.2 -104.0,-62.3 -80.0,-65.2 -28.0,-67.8 20.0,-66.1 24.7,-64.0 38.0,-53.4 52.0,-48.5 76.0,-37.0 100.0,-20.1 109.4,-8.0 130.0,0.5 130.0,130.0Z" fill="#f0f000"/><path d="M-84.0,74.3 -104.0,74.8 -130.0,71.9 -130.0,-50.5 -96.0,-60.5 -48.0,-65.3 -19.4,-64.0 8.0,-56.8 12.0,-54.7 13.5,-52.0 13.8,-48.0 13.2,-34.0 11.6,-26.0 4.3,-6.0 -6.8,14.0 -30.3,42.0 -55.6,64.0 -66.7,70.0 -84.0,74.3ZM130.0,130.0 53.2,130.0 37.5,88.0 34.6,70.0 34.4,52.0 36.8,36.0 36.2,26.0 40.2,10.0 42.1,-4.0 46.5,-16.0 45.4,-24.0 45.8,-38.0 48.0,-42.7 52.0,-43.3 60.0,-41.0 84.0,-28.1 98.9,-18.0 102.0,-14.4 105.1,-8.0 107.6,-6.0 130.0,2.9 130.0,130.0Z" fill="#28c800"/><path d="M-84.0,72.5 -106.0,72.3 -130.0,68.4 -130.0,-45.5 -99.3,-56.0 -76.0,-60.0 -48.0,-62.9 -26.0,-61.2 -15.9,-58.0 -8.0,-53.3 -2.3,-48.0 1.3,-42.0 3.2,-34.0 2.8,-26.0 -1.7,-8.0 -8.0,8.0 -28.0,34.4 -41.3,48.0 -63.9,66.0 -70.0,68.8 -84.0,72.5ZM130.0,130.0 55.9,130.0 39.6,86.0 36.7,70.0 37.2,52.0 39.4,40.0 39.4,26.0 47.4,-4.0 58.0,-21.2 66.0,-26.8 76.0,-26.9 86.0,-23.5 98.0,-15.2 104.0,-5.6 130.0,5.3 130.0,130.0Z" fill="#30d8f0"/><path d="M-84.0,70.4 -90.0,71.0 -104.0,69.9 -130.0,64.6 -130.0,-39.9 -96.0,-52.6 -52.0,-59.7 -34.0,-58.3 -22.0,-54.8 -10.2,-46.0 -6.5,-38.0 -6.8,-30.0 -10.6,-16.0 -11.0,-2.0 -14.3,8.0 -32.5,34.0 -43.9,46.0 -66.9,64.0 -84.0,70.4ZM130.0,130.0 58.7,130.0 58.0,128.3 45.1,92.0 40.1,72.0 39.8,66.0 42.1,48.0 42.7,26.0 44.9,18.0 53.9,-6.0 60.0,-14.5 68.0,-19.8 76.0,-21.4 86.0,-19.3 94.6,-14.0 104.0,-3.3 130.0,7.7 130.0,130.0Z" fill="#30c8f0"/><path d="M-86.0,68.0 -94.0,68.2 -108.0,66.3 -130.0,60.5 -130.0,-33.5 -106.0,-44.2 -86.8,-50.0 -50.0,-56.1 -40.0,-54.9 -30.7,-52.0 -22.1,-46.0 -18.9,-42.0 -17.6,-38.0 -21.9,-18.0 -19.8,-2.0 -21.9,8.0 -34.6,30.0 -44.6,42.0 -72.0,62.0 -86.0,68.0ZM130.0,130.0 61.5,130.0 58.0,121.8 48.8,96.0 46.1,78.0 43.4,68.0 43.7,62.0 46.2,52.0 45.3,30.0 48.2,18.0 56.0,-0.2 62.0,-8.8 70.0,-14.0 78.0,-15.8 86.0,-14.6 92.0,-11.4 102.7,-2.0 130.0,10.1 130.0,130.0Z" fill="#28b8f0"/><path d="M-86.0,64.2 -94.0,64.9 -106.0,63.3 -119.0,60.0 -130.0,55.7 -130.0,-26.3 -110.7,-36.0 -90.0,-44.0 -56.0,-50.7 -48.0,-50.9 -42.0,-49.5 -33.5,-44.0 -30.3,-36.0 -31.6,-14.0 -30.6,4.0 -34.1,18.0 -41.4,32.0 -50.1,42.0 -60.0,48.8 -73.1,54.0 -80.0,61.1 -86.0,64.2ZM130.0,130.0 64.4,130.0 58.2,116.0 50.7,94.0 49.2,76.0 47.0,68.0 47.1,62.0 49.3,52.0 47.8,32.0 50.7,20.0 58.0,4.8 64.0,-2.7 72.0,-8.0 80.0,-10.2 88.0,-8.9 102.8,0.0 130.0,12.5 130.0,130.0Z" fill="#28a8f0"/><path d="M-90.0,60.3 -98.0,60.7 -110.0,58.5 -120.0,55.1 -130.0,50.1 -130.0,-17.8 -112.0,-28.0 -86.0,-39.2 -60.0,-44.1 -52.9,-44.0 -48.0,-42.6 -42.8,-38.0 -40.6,-30.0 -44.3,-4.0 -41.0,14.0 -43.6,26.0 -48.3,34.0 -56.0,41.7 -64.0,46.0 -76.0,49.5 -85.1,58.0 -90.0,60.3ZM130.0,130.0 67.4,130.0 60.0,114.0 54.6,100.0 52.2,90.0 51.6,76.0 49.8,66.0 51.5,52.0 50.3,32.0 53.8,20.0 60.0,8.6 66.0,2.1 74.0,-2.7 82.0,-5.0 90.0,-4.0 130.0,15.1 130.0,130.0Z" fill="#2898f0"/><path d="M-90.0,54.3 -98.0,55.9 -109.3,54.0 -120.0,49.6 -130.0,42.9 -130.0,-7.3 -117.8,-16.0 -84.0,-33.4 -72.0,-36.2 -60.0,-35.6 -54.3,-32.0 -51.9,-26.0 -53.8,-2.0 -48.3,16.0 -49.5,26.0 -54.0,34.0 -60.0,39.6 -78.0,46.5 -90.0,54.3ZM130.0,130.0 70.5,130.0 62.0,112.5 56.3,98.0 54.1,88.0 52.2,66.0 53.5,52.0 52.4,34.0 55.1,24.0 60.0,14.4 66.0,7.4 74.0,2.4 84.0,-0.7 92.0,-0.2 102.0,3.5 130.0,17.7 130.0,130.0Z" fill="#2088f0"/><path d="M-96.0,50.2 -104.0,49.9 -112.0,47.3 -120.7,42.0 -126.7,36.0 -130.0,30.8 -130.0,8.4 -123.8,0.0 -113.2,-8.0 -94.0,-18.1 -80.0,-27.4 -74.0,-28.9 -68.4,-28.0 -65.4,-26.0 -63.0,-22.0 -61.0,-2.0 -54.7,16.0 -55.2,26.0 -58.4,32.0 -64.0,37.2 -96.0,50.2ZM130.0,130.0 73.7,130.0 64.0,111.0 58.0,96.0 55.9,86.0 54.4,68.0 55.4,52.0 54.3,36.0 56.1,28.0 61.1,18.0 66.1,12.0 74.0,6.6 86.0,2.7 96.0,3.4 102.0,5.5 130.0,20.4 130.0,130.0Z" fill="#1878f0"/><path d="M-94.0,44.1 -100.0,44.2 -106.0,42.7 -115.8,36.0 -118.8,32.0 -121.3,26.0 -120.8,16.0 -116.0,8.0 -110.0,2.9 -84.0,-10.3 -78.0,-11.7 -74.0,-8.5 -62.2,12.0 -60.1,20.0 -60.9,26.0 -64.5,32.0 -70.0,36.0 -94.0,44.1ZM130.0,130.0 77.1,130.0 64.0,105.0 59.1,92.0 57.0,80.0 56.3,36.0 58.5,28.0 63.0,20.0 68.6,14.0 76.0,9.4 88.0,5.5 98.0,6.3 130.0,23.2 130.0,130.0Z" fill="#1870f0"/><path d="M-88.0,38.0 -98.0,37.5 -104.6,34.0 -108.7,28.0 -109.3,24.0 -108.4,20.0 -104.0,14.1 -98.0,10.8 -82.0,6.2 -76.0,6.9 -70.0,11.3 -67.1,16.0 -65.9,22.0 -66.7,26.0 -69.1,30.0 -74.0,33.8 -88.0,38.0ZM130.0,130.0 80.7,130.0 64.0,99.0 60.3,88.0 58.2,76.0 58.7,34.0 61.9,26.0 66.0,20.4 72.0,15.2 80.0,11.0 90.0,8.1 98.0,8.9 130.0,26.1 130.0,130.0Z" fill="#1860f0"/><path d="M130.0,130.0 84.5,130.0 72.0,109.5 64.6,94.0 59.8,76.0 60.9,56.0 60.1,40.0 60.7,34.0 63.4,28.0 68.3,22.0 76.0,16.3 84.0,12.5 92.0,10.9 98.7,12.0 130.0,29.1 130.0,130.0ZM-82.0,32.5 -88.0,32.5 -92.0,31.2 -95.2,28.0 -95.6,24.0 -92.7,20.0 -89.3,18.0 -82.0,15.3 -78.0,15.3 -73.7,18.0 -72.1,24.0 -76.0,29.9 -82.0,32.5Z" fill="#1050f0"/><path d="M130.0,130.0 88.7,130.0 74.0,107.4 66.0,91.2 61.6,76.0 62.9,56.0 62.3,36.0 64.9,30.0 70.0,24.2 84.0,15.8 90.0,14.1 98.0,15.1 130.0,32.4 130.0,130.0Z" fill="#1818e8"/><path d="M130.0,130.0 93.2,130.0 78.0,108.4 67.4,88.0 63.8,76.0 65.0,56.0 64.5,36.0 67.9,30.0 72.0,26.3 86.0,18.7 92.0,17.7 100.0,19.5 130.0,35.9 130.0,130.0Z" fill="#3010c0"/><path d="M130.0,130.0 98.3,130.0 84.0,111.6 74.0,95.7 68.6,84.0 66.3,76.0 67.2,56.0 66.6,40.0 68.3,34.0 76.0,27.6 88.0,22.7 96.0,22.5 110.0,28.1 130.0,39.6 130.0,130.0Z" fill="#6808b0"/><path d="M130.0,130.0 104.1,130.0 88.0,111.0 76.0,93.1 70.1,80.0 68.8,72.0 69.6,40.0 71.1,36.0 76.0,31.9 90.0,27.3 98.0,27.4 110.3,32.0 130.0,43.7 130.0,130.0Z" fill="#7008b8"/><path d="M130.0,130.0 111.2,130.0 92.0,109.8 78.0,90.0 73.4,80.0 71.8,70.0 73.0,42.0 75.0,38.0 78.0,35.7 92.0,31.7 100.0,32.2 114.0,38.0 130.0,48.2 130.0,130.0Z" fill="#8808b0"/><path d="M130.0,130.0 120.4,130.0 110.0,121.4 92.0,103.2 80.0,86.0 75.5,74.0 75.2,62.0 76.5,46.0 78.3,42.0 82.0,39.1 92.0,36.1 102.0,37.2 114.0,42.5 130.0,53.4 130.0,130.0Z" fill="#a010b0"/><path d="M130.0,126.9 116.0,118.0 102.0,106.6 91.9,96.0 83.6,84.0 79.7,74.0 79.1,60.0 81.4,48.0 86.0,43.1 94.0,41.0 104.0,42.9 116.0,49.0 130.0,59.6 130.0,126.9Z" fill="#a810b8"/></g><circle r="38.2" fill="none" stroke="#000" stroke-width="1.05" stroke-opacity="0.75"/><circle r="64.0" fill="none" stroke="#000" stroke-width="1.05" stroke-opacity="0.75"/><circle r="89.5" fill="none" stroke="#000" stroke-width="1.05" stroke-opacity="0.75"/><circle r="115.0" fill="none" stroke="#000" stroke-width="1.05" stroke-opacity="0.75"/><path d="M25.6,-1.5v3M-25.6,-1.5v3M-2,25.6h4M-2,-25.6h4M51.2,-1.5v3M-51.2,-1.5v3M-2,51.2h4M-2,-51.2h4M76.8,-1.5v3M-76.8,-1.5v3M-2,76.8h4M-2,-76.8h4M102.4,-1.5v3M-102.4,-1.5v3M-2,102.4h4M-2,-102.4h4" stroke="#111" stroke-width="1" fill="none"/><path d="M-87.3,-16.6C-87.7,-24.9 -87.3,-30.4 -84.8,-36.6C-82.3,-42.9 -78.1,-47.9 -72.2,-54.2C-66.4,-60.5 -57.6,-68.8 -49.7,-74.2C-41.7,-79.7 -33.0,-84.3 -24.6,-86.8C-16.2,-89.3 -7.9,-89.3 0.5,-89.3C8.8,-89.3 18.0,-88.9 25.6,-86.8C33.1,-84.7 40.4,-80.9 45.6,-76.8C50.8,-72.6 54.6,-66.7 56.9,-61.7C59.2,-56.7 60.4,-51.7 59.4,-46.7C58.4,-41.7 54.2,-36.6 50.6,-31.6C47.1,-26.6 38.5,-22.0 38.1,-16.6C37.7,-11.1 45.2,-5.3 48.1,1.0C51.0,7.2 54.6,14.3 55.6,21.0C56.7,27.7 56.1,34.8 54.4,41.1C52.7,47.4 50.4,53.6 45.6,58.6C40.8,63.7 33.1,68.5 25.6,71.2C18.0,73.9 8.8,75.4 0.5,74.9C-7.9,74.5 -16.2,72.2 -24.6,68.7C-33.0,65.1 -42.2,59.1 -49.7,53.6C-57.2,48.2 -64.3,42.8 -69.7,36.1C-75.2,29.4 -79.3,22.3 -82.3,13.5C-85.2,4.7 -86.9,-8.2 -87.3,-16.6Z" fill="none" stroke="#f0f0f0" stroke-width="0.6" stroke-opacity="0.50"/><rect x="-18.9" y="-16.4" width="4.6" height="4.6" fill="#e03030"/><path d="M-18.1,-15.6l3,3m0,-3l-3,3" stroke="#fff" stroke-width="0.8"/><circle cx="-10.8" cy="-7.8" r="1.2" fill="#f0a0a0"/><path d="M-1.5,-1.1h4l-2,2.6z" fill="#8090b0" stroke="#444" stroke-width="0.4"/><circle cx="9.8" cy="4.7" r="2.2" fill="#ffb000" stroke="#d02000" stroke-width="1.3"/><g transform="translate(-0.9,0)"><circle r="144.8" fill="none" stroke="#000" stroke-width="1.9"/><path d="M143.8,-0.0L141.2,-0.0M143.3,-12.5L140.7,-12.3M141.6,-25.0L139.1,-24.5M138.9,-37.2L136.4,-36.5M135.1,-49.2L132.7,-48.3M130.3,-60.8L128.0,-59.7M124.5,-71.9L122.3,-70.6M117.8,-82.5L115.7,-81.0M110.2,-92.4L108.2,-90.8M101.7,-101.7L99.8,-99.8M92.4,-110.2L90.8,-108.2M82.5,-117.8L81.0,-115.7M71.9,-124.5L70.6,-122.3M60.8,-130.3L59.7,-128.0M49.2,-135.1L48.3,-132.7M37.2,-138.9L36.5,-136.4M25.0,-141.6L24.5,-139.1M12.5,-143.3L12.3,-140.7M0.0,-143.8L0.0,-141.2M-12.5,-143.3L-12.3,-140.7M-25.0,-141.6L-24.5,-139.1M-37.2,-138.9L-36.5,-136.4M-49.2,-135.1L-48.3,-132.7M-60.8,-130.3L-59.7,-128.0M-71.9,-124.5L-70.6,-122.3M-82.5,-117.8L-81.0,-115.7M-92.4,-110.2L-90.8,-108.2M-101.7,-101.7L-99.8,-99.8M-110.2,-92.4L-108.2,-90.8M-117.8,-82.5L-115.7,-81.0M-124.5,-71.9L-122.3,-70.6M-130.3,-60.8L-128.0,-59.7M-135.1,-49.2L-132.7,-48.3M-138.9,-37.2L-136.4,-36.5M-141.6,-25.0L-139.1,-24.5M-143.3,-12.5L-140.7,-12.3M-143.8,-0.0L-141.2,-0.0M-143.3,12.5L-140.7,12.3M-141.6,25.0L-139.1,24.5M-138.9,37.2L-136.4,36.5M-135.1,49.2L-132.7,48.3M-130.3,60.8L-128.0,59.7M-124.5,71.9L-122.3,70.6M-117.8,82.5L-115.7,81.0M-110.2,92.4L-108.2,90.8M-101.7,101.7L-99.8,99.8M-92.4,110.2L-90.8,108.2M-82.5,117.8L-81.0,115.7M-71.9,124.5L-70.6,122.3M-60.8,130.3L-59.7,128.0M-49.2,135.1L-48.3,132.7M-37.2,138.9L-36.5,136.4M-25.0,141.6L-24.5,139.1M-12.5,143.3L-12.3,140.7M-0.0,143.8L-0.0,141.2M12.5,143.3L12.3,140.7M25.0,141.6L24.5,139.1M37.2,138.9L36.5,136.4M49.2,135.1L48.3,132.7M60.8,130.3L59.7,128.0M71.9,124.5L70.6,122.3M82.5,117.8L81.0,115.7M92.4,110.2L90.8,108.2M101.7,101.7L99.8,99.8M110.2,92.4L108.2,90.8M117.8,82.5L115.7,81.0M124.5,71.9L122.3,70.6M130.3,60.8L128.0,59.7M135.1,49.2L132.7,48.3M138.9,37.2L136.4,36.5M141.6,25.0L139.1,24.5M143.3,12.5L140.7,12.3" stroke="#d0d0d0" stroke-width="1.1" fill="none"/><g font-size="6.5" font-weight="bold" fill="#e4e4e4" text-anchor="middle" font-family="Liberation Sans, sans-serif"><text x="137.2" y="2.3">0</text><text x="132.5" y="-33.2">15</text><text x="118.8" y="-66.3">30</text><text x="97.0" y="-94.7">45</text><text x="68.6" y="-116.5">60</text><text x="35.5" y="-130.2">75</text><text x="0.0" y="-134.9">90</text><text x="-35.5" y="-130.2">105</text><text x="-68.6" y="-116.5">120</text><text x="-97.0" y="-94.7">135</text><text x="-118.8" y="-66.3">150</text><text x="-132.5" y="-33.2">165</text><text x="-137.2" y="2.3">180</text><text x="-132.5" y="37.8">195</text><text x="-118.8" y="70.9">210</text><text x="-97.0" y="99.3">225</text><text x="-68.6" y="121.1">240</text><text x="-35.5" y="134.8">255</text><text x="-0.0" y="139.5">270</text><text x="35.5" y="134.8">285</text><text x="68.6" y="121.1">300</text><text x="97.0" y="99.3">315</text><text x="118.8" y="70.9">330</text><text x="132.5" y="37.8">345</text></g></g></g><g transform="translate(193.9,437.7)"><clipPath id="c3"><path d="M-78.5,-74.5 -49.7,-79.6 -37.1,-78.3 -19.6,-79.6 -12.1,-74.5 18.0,-75.8 23.0,-78.3 35.6,-79.6 50.6,-77.1 60.7,-78.3 69.4,-70.8 69.4,-62.0 65.7,-54.5 75.7,-47.0 83.2,-31.9 88.2,-14.4 88.2,5.7 83.2,20.7 75.7,35.8 65.7,45.8 55.6,50.8 48.1,63.4 35.6,67.1 25.6,60.9 20.5,68.4 -12.1,69.6 -34.6,63.4 -52.2,65.9 -62.2,60.9 -79.8,64.6 -87.3,55.8 -94.8,48.3 -99.8,30.8 -106.1,15.7 -107.3,-4.3 -103.6,-24.4 -99.8,-42.0 -89.8,-62.0Z"/></clipPath><g clip-path="url(#c3)"><rect x="-130" y="-130" width="260" height="260" fill="#a00000"/><path d="M130.0,130.0 -130.0,130.0 -130.0,-130.0 130.0,-130.0 130.0,130.0ZM52.6,52.0 58.0,41.3 65.4,30.0 64.8,16.0 60.0,8.0 52.0,2.0 46.0,0.7 38.0,1.9 31.2,6.0 29.8,12.0 39.1,28.0 44.0,50.1 48.0,53.3 52.6,52.0Z" fill="#b01000"/><path d="M130.0,130.0 -130.0,130.0 -130.0,-130.0 130.0,-130.0 130.0,130.0ZM58.6,64.0 63.8,58.0 73.2,34.0 71.2,16.0 68.3,8.0 64.9,4.0 58.0,-1.2 48.0,-5.2 34.8,-4.0 20.0,1.0 17.7,4.0 32.7,28.0 37.7,50.0 40.1,56.0 44.0,61.0 48.0,63.9 54.0,65.3 58.6,64.0Z" fill="#c83000"/><path d="M130.0,130.0 -130.0,130.0 -130.0,-130.0 130.0,-130.0 130.0,130.0ZM65.6,82.0 72.0,79.3 76.0,75.1 79.3,68.0 81.0,60.0 81.9,36.0 75.3,6.0 70.0,-0.4 52.0,-9.8 42.0,-10.2 24.0,-5.8 16.0,-0.0 14.5,4.0 28.9,30.0 33.6,52.0 37.2,62.0 42.0,70.1 50.0,77.8 58.0,81.6 65.6,82.0ZM-17.6,4.0 -13.4,2.0 -13.0,0.0 -18.3,0.0 -21.5,2.0 -22.3,4.0 -17.6,4.0Z" fill="#e05800"/><path d="M130.0,130.0 -130.0,130.0 -130.0,-130.0 130.0,-130.0 130.0,130.0ZM89.1,114.0 96.0,108.4 100.0,101.4 102.8,90.0 103.1,78.0 98.7,52.0 88.2,20.0 83.5,2.0 80.0,-3.2 76.0,-6.6 52.0,-15.3 42.0,-15.0 24.0,-9.8 20.0,-7.3 14.0,-0.7 12.8,2.0 12.9,6.0 25.0,30.0 32.0,63.1 40.0,83.6 50.0,98.3 56.0,104.5 64.0,110.6 72.0,114.5 78.0,115.8 84.0,115.7 89.1,114.0ZM-35.5,16.0 -26.0,13.9 -18.0,10.0 -10.0,3.7 -8.6,0.0 -9.5,-2.0 -14.0,-4.7 -26.0,-5.1 -38.0,-7.4 -48.0,-3.8 -51.8,0.0 -53.4,4.0 -54.0,10.0 -52.4,14.0 -47.7,16.0 -35.5,16.0Z" fill="#e07000"/><path d="M40.0,130.0 -130.0,130.0 -130.0,-130.0 130.0,-130.0 130.0,68.1 106.3,24.0 95.7,0.0 90.0,-8.0 84.0,-12.6 78.0,-15.0 54.0,-21.0 46.0,-20.9 22.0,-12.9 18.0,-9.4 11.6,0.0 10.8,4.0 11.5,8.0 20.0,26.0 23.8,38.0 30.0,84.4 41.0,130.0 40.0,130.0ZM-42.6,24.0 -28.0,20.3 -18.0,14.2 -7.8,4.0 -6.6,0.0 -8.3,-4.0 -14.0,-7.7 -24.0,-9.2 -36.0,-12.9 -44.0,-12.3 -52.0,-8.0 -56.0,-3.5 -61.7,6.0 -63.6,12.0 -63.2,18.0 -60.0,23.0 -56.0,25.3 -50.0,25.8 -42.6,24.0Z" fill="#d88c00"/><path d="M12.0,130.0 -130.0,130.0 -130.0,-130.0 130.0,-130.0 130.0,21.1 107.1,-10.0 98.0,-18.0 88.0,-22.9 80.0,-24.4 66.0,-24.4 56.0,-27.0 50.0,-27.2 38.0,-23.5 18.0,-14.6 10.6,-2.0 9.0,4.0 10.3,10.0 19.3,34.0 21.7,46.0 22.4,56.0 21.6,74.0 18.6,100.0 13.4,130.0 12.0,130.0ZM-49.1,38.0 -24.0,24.3 -8.0,7.1 -4.8,0.0 -6.0,-4.1 -10.0,-8.7 -32.0,-17.3 -42.0,-18.4 -50.0,-15.9 -56.0,-12.2 -68.3,2.0 -72.5,8.0 -74.4,14.0 -74.3,20.0 -71.6,28.0 -67.5,34.0 -62.0,38.5 -56.0,39.8 -49.1,38.0Z" fill="#d8a000"/><path d="M-34.0,130.0 -130.0,130.0 -130.0,-130.0 130.0,-130.0 130.0,-14.3 117.6,-24.0 107.3,-30.0 96.0,-34.2 84.0,-36.1 48.0,-33.0 34.0,-26.9 16.0,-17.3 7.0,2.0 7.7,8.0 14.8,30.0 18.5,48.0 18.0,58.6 14.4,72.0 8.0,86.2 -2.0,101.0 -14.0,113.6 -34.0,130.0ZM-61.1,80.0 -56.0,78.8 -52.0,76.5 -44.0,68.1 -28.8,42.0 -18.0,26.6 -3.0,2.0 -3.8,-4.0 -10.0,-12.1 -34.0,-24.5 -40.0,-25.2 -46.0,-24.4 -58.8,-20.0 -66.8,-16.0 -84.9,-2.0 -89.6,6.0 -90.7,12.0 -90.2,20.0 -80.6,64.0 -76.2,72.0 -72.0,76.4 -66.0,79.5 -61.1,80.0Z" fill="#d0c000"/><path d="M-130.0,76.3 -130.0,-130.0 130.0,-130.0 130.0,-39.8 116.0,-45.4 102.0,-48.8 88.0,-50.0 74.0,-49.0 60.0,-45.3 46.0,-40.0 16.0,-21.7 12.6,-18.0 10.0,-8.5 4.2,0.0 11.9,34.0 14.4,50.0 12.0,58.9 8.0,65.4 4.0,69.5 -2.0,72.8 -8.0,72.9 -12.0,70.0 -14.7,62.0 -14.9,38.0 -10.6,26.0 -8.4,16.0 -0.2,2.0 -0.2,-2.0 -8.0,-15.0 -22.0,-27.5 -32.0,-32.9 -42.0,-34.3 -60.0,-30.7 -76.0,-32.0 -82.0,-30.7 -100.0,-19.2 -109.5,-10.0 -115.3,0.0 -118.5,10.0 -123.4,48.0 -130.0,76.3Z" fill="#f0d800"/><path d="M2.0,-6.0 0.0,-7.7 -7.2,-22.0 -18.0,-35.6 -28.0,-43.3 -40.0,-49.6 -46.0,-50.5 -62.0,-49.2 -80.0,-58.0 -88.0,-59.7 -96.0,-60.0 -104.0,-59.0 -113.5,-56.0 -130.0,-46.5 -130.0,-130.0 130.0,-130.0 130.0,-63.4 110.0,-66.7 92.0,-66.8 74.0,-63.7 52.0,-56.7 42.0,-50.6 12.0,-24.0 8.5,-18.0 7.0,-10.0 4.0,-6.5 2.0,-6.0ZM4.0,50.7 0.0,50.9 -2.0,49.0 -4.6,44.0 -5.9,38.0 -4.0,26.0 -4.3,16.0 0.0,7.5 2.0,7.9 3.8,14.0 6.7,34.0 6.5,46.0 4.0,50.7Z" fill="#e8f000"/><path d="M4.0,-26.7 2.0,-26.2 -2.0,-29.2 -8.5,-42.0 -17.3,-54.0 -19.1,-60.0 -18.1,-70.0 -19.5,-78.0 -22.4,-84.0 -28.0,-89.8 -34.0,-92.9 -40.0,-94.5 -92.0,-100.6 -112.0,-100.3 -130.0,-97.1 -130.0,-130.0 130.0,-130.0 130.0,-89.2 100.0,-90.3 62.0,-85.4 40.0,-86.0 32.0,-83.7 27.7,-80.0 24.7,-74.0 24.1,-70.0 25.1,-60.0 23.5,-54.0 14.7,-42.0 10.0,-32.9 4.0,-26.7Z" fill="#98e000"/><path d="M130.0,-120.9 76.0,-124.4 25.3,-130.0 130.0,-130.0 130.0,-120.9Z" fill="#58d800"/></g><circle r="38.2" fill="none" stroke="#000" stroke-width="1.05" stroke-opacity="0.75"/><circle r="64.0" fill="none" stroke="#000" stroke-width="1.05" stroke-opacity="0.75"/><circle r="89.5" fill="none" stroke="#000" stroke-width="1.05" stroke-opacity="0.75"/><circle r="115.0" fill="none" stroke="#000" stroke-width="1.05" stroke-opacity="0.75"/><path d="M25.6,-1.5v3M-25.6,-1.5v3M-2,25.6h4M-2,-25.6h4M51.2,-1.5v3M-51.2,-1.5v3M-2,51.2h4M-2,-51.2h4M76.8,-1.5v3M-76.8,-1.5v3M-2,76.8h4M-2,-76.8h4M102.4,-1.5v3M-102.4,-1.5v3M-2,102.4h4M-2,-102.4h4" stroke="#111" stroke-width="1" fill="none"/><path d="M-91.0,-16.9C-91.5,-24.8 -90.0,-30.7 -87.3,-36.9C-84.6,-43.2 -80.2,-48.6 -74.7,-54.5C-69.3,-60.3 -62.2,-66.6 -54.7,-72.0C-47.2,-77.5 -38.8,-83.5 -29.6,-87.1C-20.4,-90.6 -8.7,-92.7 0.5,-93.4C9.7,-94.0 17.2,-93.1 25.6,-90.8C33.9,-88.5 44.8,-84.0 50.6,-79.6C56.5,-75.2 58.8,-69.5 60.7,-64.5C62.5,-59.5 62.7,-54.5 61.9,-49.5C61.1,-44.5 58.4,-39.0 55.6,-34.4C52.9,-29.8 48.7,-25.2 45.6,-21.9C42.5,-18.5 36.4,-18.5 36.8,-14.4C37.3,-10.2 45.0,-2.2 48.1,3.2C51.3,8.6 53.8,12.8 55.6,18.2C57.5,23.7 59.2,30.3 59.4,35.8C59.6,41.2 58.4,46.4 56.9,50.8C55.4,55.2 54.2,58.8 50.6,62.1C47.1,65.5 41.4,68.6 35.6,70.9C29.7,73.2 22.2,74.9 15.5,75.9C8.8,76.9 2.1,78.0 -4.5,77.2C-11.2,76.3 -17.1,74.9 -24.6,70.9C-32.1,66.9 -42.2,59.2 -49.7,53.3C-57.2,47.5 -63.9,42.9 -69.7,35.8C-75.6,28.7 -81.2,19.5 -84.8,10.7C-88.3,1.9 -90.6,-8.9 -91.0,-16.9Z" fill="none" stroke="#f0f0f0" stroke-width="1.1" stroke-opacity="0.90"/><rect x="-18.1" y="-16.7" width="4.6" height="4.6" fill="#e03030"/><path d="M-17.3,-15.9l3,3m0,-3l-3,3" stroke="#fff" stroke-width="0.8"/><circle cx="-11.3" cy="-8.9" r="1.5" fill="#fff"/><path d="M-0.8,-1.4h4l-2,2.6z" fill="#8090b0" stroke="#444" stroke-width="0.4"/><circle cx="11.0" cy="4.4" r="2.2" fill="#ffb000" stroke="#d02000" stroke-width="1.3"/><g transform="translate(1.5,0)"><circle r="144.8" fill="none" stroke="#000" stroke-width="1.9"/><path d="M143.8,-0.0L141.2,-0.0M143.3,-12.5L140.7,-12.3M141.6,-25.0L139.1,-24.5M138.9,-37.2L136.4,-36.5M135.1,-49.2L132.7,-48.3M130.3,-60.8L128.0,-59.7M124.5,-71.9L122.3,-70.6M117.8,-82.5L115.7,-81.0M110.2,-92.4L108.2,-90.8M101.7,-101.7L99.8,-99.8M92.4,-110.2L90.8,-108.2M82.5,-117.8L81.0,-115.7M71.9,-124.5L70.6,-122.3M60.8,-130.3L59.7,-128.0M49.2,-135.1L48.3,-132.7M37.2,-138.9L36.5,-136.4M25.0,-141.6L24.5,-139.1M12.5,-143.3L12.3,-140.7M0.0,-143.8L0.0,-141.2M-12.5,-143.3L-12.3,-140.7M-25.0,-141.6L-24.5,-139.1M-37.2,-138.9L-36.5,-136.4M-49.2,-135.1L-48.3,-132.7M-60.8,-130.3L-59.7,-128.0M-71.9,-124.5L-70.6,-122.3M-82.5,-117.8L-81.0,-115.7M-92.4,-110.2L-90.8,-108.2M-101.7,-101.7L-99.8,-99.8M-110.2,-92.4L-108.2,-90.8M-117.8,-82.5L-115.7,-81.0M-124.5,-71.9L-122.3,-70.6M-130.3,-60.8L-128.0,-59.7M-135.1,-49.2L-132.7,-48.3M-138.9,-37.2L-136.4,-36.5M-141.6,-25.0L-139.1,-24.5M-143.3,-12.5L-140.7,-12.3M-143.8,-0.0L-141.2,-0.0M-143.3,12.5L-140.7,12.3M-141.6,25.0L-139.1,24.5M-138.9,37.2L-136.4,36.5M-135.1,49.2L-132.7,48.3M-130.3,60.8L-128.0,59.7M-124.5,71.9L-122.3,70.6M-117.8,82.5L-115.7,81.0M-110.2,92.4L-108.2,90.8M-101.7,101.7L-99.8,99.8M-92.4,110.2L-90.8,108.2M-82.5,117.8L-81.0,115.7M-71.9,124.5L-70.6,122.3M-60.8,130.3L-59.7,128.0M-49.2,135.1L-48.3,132.7M-37.2,138.9L-36.5,136.4M-25.0,141.6L-24.5,139.1M-12.5,143.3L-12.3,140.7M-0.0,143.8L-0.0,141.2M12.5,143.3L12.3,140.7M25.0,141.6L24.5,139.1M37.2,138.9L36.5,136.4M49.2,135.1L48.3,132.7M60.8,130.3L59.7,128.0M71.9,124.5L70.6,122.3M82.5,117.8L81.0,115.7M92.4,110.2L90.8,108.2M101.7,101.7L99.8,99.8M110.2,92.4L108.2,90.8M117.8,82.5L115.7,81.0M124.5,71.9L122.3,70.6M130.3,60.8L128.0,59.7M135.1,49.2L132.7,48.3M138.9,37.2L136.4,36.5M141.6,25.0L139.1,24.5M143.3,12.5L140.7,12.3" stroke="#d0d0d0" stroke-width="1.1" fill="none"/><g font-size="6.5" font-weight="bold" fill="#e4e4e4" text-anchor="middle" font-family="Liberation Sans, sans-serif"><text x="137.2" y="2.3">0</text><text x="132.5" y="-33.2">15</text><text x="118.8" y="-66.3">30</text><text x="97.0" y="-94.7">45</text><text x="68.6" y="-116.5">60</text><text x="35.5" y="-130.2">75</text><text x="0.0" y="-134.9">90</text><text x="-35.5" y="-130.2">105</text><text x="-68.6" y="-116.5">120</text><text x="-97.0" y="-94.7">135</text><text x="-118.8" y="-66.3">150</text><text x="-132.5" y="-33.2">165</text><text x="-137.2" y="2.3">180</text><text x="-132.5" y="37.8">195</text><text x="-118.8" y="70.9">210</text><text x="-97.0" y="99.3">225</text><text x="-68.6" y="121.1">240</text><text x="-35.5" y="134.8">255</text><text x="-0.0" y="139.5">270</text><text x="35.5" y="134.8">285</text><text x="68.6" y="121.1">300</text><text x="97.0" y="99.3">315</text><text x="118.8" y="70.9">330</text><text x="132.5" y="37.8">345</text></g></g></g><g transform="translate(687.9,437.7)"><clipPath id="c4"><path d="M-67.2,-90.8 -42.2,-94.6 23.0,-95.9 25.6,-92.1 61.9,-90.8 69.4,-77.1 69.4,-64.5 61.9,-62.0 68.2,-57.0 100.8,-53.2 103.3,-42.0 104.5,-4.3 102.0,35.8 93.3,43.3 85.7,50.8 55.6,54.6 45.6,67.1 84.5,69.6 83.2,83.4 63.2,90.9 61.9,97.2 -57.2,94.7 -82.3,90.9 -84.8,75.9 -92.3,55.8 -98.6,25.8 -97.3,-11.9 -93.6,-58.3 -72.2,-60.8 -71.0,-75.8 -61.0,-78.3 -68.5,-87.1Z"/></clipPath><g clip-path="url(#c4)"><rect x="-130" y="-130" width="260" height="260" fill="#b860f0"/><path d="M130.0,130.0 -127.8,130.0 -130.0,127.8 -130.0,-130.0 130.0,-130.0 130.0,130.0Z" fill="#a830d0"/><path d="M130.0,130.0 -113.4,130.0 -130.0,113.3 -130.0,-130.0 130.0,-130.0 130.0,130.0Z" fill="#a830d0"/><path d="M130.0,130.0 -100.5,130.0 -113.2,116.0 -130.0,100.2 -130.0,-130.0 130.0,-130.0 130.0,130.0Z" fill="#9020b0"/><path d="M130.0,130.0 -88.9,130.0 -106.0,110.1 -130.0,88.2 -130.0,-130.0 130.0,-130.0 130.0,130.0Z" fill="#7820b0"/><path d="M122.0,130.0 -78.4,130.0 -98.0,105.8 -125.0,82.0 -130.0,76.3 -130.0,-120.4 -121.4,-130.0 114.0,-130.0 123.8,-120.0 130.0,-113.1 130.0,123.5 123.5,130.0 122.0,130.0Z" fill="#7020a8"/><path d="M106.0,130.0 -68.0,130.0 -77.3,120.0 -92.2,100.0 -112.5,84.0 -122.0,74.3 -130.0,62.7 -130.0,-99.9 -120.0,-114.4 -108.0,-126.6 -103.6,-130.0 97.4,-130.0 110.4,-118.0 124.9,-102.0 130.0,-95.8 130.0,106.9 116.0,121.7 106.0,130.0Z" fill="#502098"/><path d="M90.0,130.0 -56.4,130.0 -70.3,118.0 -88.0,93.5 -107.2,80.0 -116.6,70.0 -122.8,60.0 -130.0,44.5 -130.0,-74.2 -123.0,-90.0 -115.9,-102.0 -107.8,-112.0 -98.0,-120.7 -82.2,-130.0 80.4,-130.0 92.0,-121.1 104.0,-109.8 130.0,-79.1 130.0,90.1 112.9,110.0 90.0,130.0Z" fill="#101090"/><path d="M72.0,130.0 -38.4,130.0 -42.0,128.8 -52.0,124.4 -62.0,117.4 -70.0,108.6 -84.0,88.2 -102.0,76.7 -111.4,66.0 -117.3,54.0 -130.0,20.8 -130.0,-42.5 -118.8,-74.0 -110.2,-92.0 -100.0,-105.7 -88.0,-115.5 -72.0,-123.0 -47.0,-130.0 61.7,-130.0 78.0,-120.0 94.0,-106.3 109.0,-90.0 130.0,-63.5 130.0,72.4 119.4,88.0 106.0,103.0 84.1,122.0 73.5,130.0 72.0,130.0Z" fill="#1818c8"/><path d="M56.0,130.0 -7.1,130.0 -18.0,125.8 -38.0,121.9 -48.0,118.8 -60.0,111.2 -66.4,104.0 -78.9,86.0 -98.0,73.0 -105.4,64.0 -124.1,12.0 -126.4,-4.0 -125.8,-20.0 -120.3,-42.0 -103.7,-84.0 -94.4,-98.0 -82.0,-108.3 -68.0,-114.1 -24.0,-126.0 -8.0,-129.3 32.4,-130.0 42.0,-127.9 62.0,-119.6 72.0,-113.2 83.3,-104.0 102.0,-84.6 129.0,-50.0 130.0,-48.3 130.0,52.5 118.2,74.0 104.0,92.0 92.0,103.4 71.5,120.0 60.0,128.4 56.0,130.0Z" fill="#1840d8"/><path d="M36.0,130.0 13.7,130.0 4.0,126.2 -14.5,116.0 -38.0,114.3 -50.0,110.9 -60.0,103.4 -76.0,82.6 -93.8,70.0 -99.9,62.0 -103.1,46.0 -113.0,22.0 -116.6,10.0 -118.6,-6.0 -117.5,-20.0 -113.2,-36.0 -94.7,-82.0 -86.0,-94.3 -74.0,-102.8 -66.0,-105.5 -48.0,-108.9 -20.0,-117.9 -6.0,-120.8 20.0,-122.5 32.0,-121.4 42.0,-119.1 52.0,-115.3 62.0,-109.8 82.0,-93.8 94.0,-81.4 117.0,-54.0 124.7,-42.0 130.0,-24.8 130.0,17.1 126.2,38.0 119.0,56.0 106.0,76.5 90.0,93.6 54.8,122.0 44.0,127.9 36.0,130.0Z" fill="#2060d0"/><path d="M30.0,124.2 20.0,124.3 10.0,121.3 1.2,116.0 -8.0,106.3 -12.0,104.3 -36.0,107.0 -44.0,106.2 -50.0,104.1 -57.6,98.0 -72.4,80.0 -88.4,68.0 -93.8,62.0 -94.8,58.0 -93.6,50.0 -94.3,46.0 -105.2,22.0 -109.6,8.0 -111.0,-4.0 -110.3,-16.0 -106.1,-32.0 -96.0,-54.0 -87.3,-78.0 -80.0,-88.8 -70.0,-96.0 -64.0,-97.8 -48.0,-99.6 -22.0,-108.9 -4.0,-113.0 20.0,-114.5 40.0,-111.3 58.0,-102.9 78.0,-86.8 111.6,-50.0 117.7,-40.0 121.2,-30.0 123.0,-18.0 122.2,14.0 118.5,36.0 111.1,54.0 98.0,73.9 84.0,88.1 50.0,116.0 40.0,121.5 30.0,124.2Z" fill="#2080e0"/><path d="M34.0,116.3 22.0,117.9 10.0,114.6 2.0,108.3 -1.7,98.0 -6.0,95.3 -14.0,95.1 -36.0,99.9 -42.0,99.7 -48.0,97.9 -54.0,93.5 -67.8,78.0 -84.0,64.7 -87.7,60.0 -87.3,50.0 -88.3,44.0 -99.3,18.0 -102.4,8.0 -103.7,-2.0 -103.0,-14.0 -98.6,-30.0 -88.6,-52.0 -80.2,-74.0 -73.5,-84.0 -66.0,-89.6 -46.0,-92.6 -18.0,-102.2 -2.0,-105.8 18.0,-107.0 36.0,-104.4 52.0,-97.8 70.0,-84.0 103.9,-50.0 109.3,-42.0 114.5,-26.0 115.7,-6.0 113.4,24.0 110.6,36.0 105.9,48.0 96.0,64.3 84.0,77.8 48.0,108.6 34.0,116.3Z" fill="#28a0e0"/><path d="M30.0,110.4 20.0,111.5 10.0,108.6 5.0,104.0 1.0,94.0 -2.0,91.5 -8.0,89.1 -16.0,88.8 -36.0,92.8 -46.0,91.1 -53.1,86.0 -78.4,62.0 -81.2,58.0 -84.1,38.0 -95.9,6.0 -96.2,-10.0 -90.6,-30.0 -75.0,-66.0 -69.1,-76.0 -62.0,-82.3 -44.0,-86.3 -13.0,-96.0 0.0,-99.0 16.0,-99.8 34.0,-97.0 48.0,-91.7 58.0,-85.1 98.0,-46.7 102.4,-40.0 105.9,-30.0 107.7,-20.0 108.3,4.0 104.9,28.0 97.9,48.0 90.0,60.4 78.0,73.0 44.0,103.0 36.2,108.0 30.0,110.4Z" fill="#28b0e0"/><path d="M26.0,104.4 18.0,105.0 12.0,103.1 0.0,88.2 -8.0,83.6 -18.0,82.8 -38.0,85.7 -44.0,84.1 -50.1,80.0 -71.2,60.0 -75.5,54.0 -78.6,34.0 -87.5,10.0 -89.3,2.0 -87.5,-14.0 -79.3,-38.0 -70.0,-57.5 -61.5,-70.0 -56.0,-74.3 -47.2,-78.0 4.0,-92.3 16.0,-92.2 30.0,-89.8 44.0,-85.2 54.0,-79.5 92.3,-40.0 97.2,-30.0 100.4,-14.0 101.2,2.0 99.8,14.0 94.6,36.0 88.6,50.0 80.0,60.2 44.0,93.9 34.0,101.2 26.0,104.4Z" fill="#30c8e8"/><path d="M26.0,96.5 20.0,97.7 14.0,96.5 8.0,91.8 0.4,82.0 -6.0,78.4 -18.0,76.4 -38.0,77.7 -44.0,74.9 -50.0,70.1 -62.2,58.0 -67.8,50.0 -71.4,32.0 -80.8,2.0 -78.3,-14.0 -69.4,-40.0 -62.0,-52.4 -54.3,-62.0 -46.5,-68.0 -38.0,-72.2 6.0,-84.0 18.0,-83.1 30.0,-80.5 42.0,-76.3 50.0,-71.9 82.0,-39.5 88.5,-26.0 92.0,-8.0 92.6,4.0 90.1,18.0 86.0,34.0 81.1,46.0 40.0,86.9 32.0,93.3 26.0,96.5Z" fill="#30d8e8"/><path d="M24.0,86.4 18.0,87.6 14.0,86.5 6.0,77.5 -2.0,73.2 -12.0,70.5 -36.0,66.5 -46.0,61.2 -52.0,55.0 -56.2,48.0 -67.6,14.0 -69.3,-4.0 -68.1,-14.0 -63.7,-26.0 -52.0,-47.5 -46.2,-54.0 -40.0,-58.3 -20.0,-67.4 -8.0,-70.9 18.0,-72.6 28.0,-70.6 38.0,-65.9 52.0,-56.4 62.8,-46.0 75.6,-28.0 80.3,-16.0 81.3,-6.0 80.7,14.0 78.8,24.0 74.7,34.0 62.0,52.0 42.8,68.0 32.0,80.8 24.0,86.4Z" fill="#30c830"/><path d="M18.0,72.0 -6.0,64.7 -26.3,60.0 -38.3,54.0 -44.3,48.0 -50.0,38.0 -55.7,24.0 -58.9,12.0 -59.9,-2.0 -58.1,-14.0 -52.3,-28.0 -44.9,-40.0 -38.0,-47.2 -27.8,-54.0 -16.0,-59.2 -4.0,-62.3 10.0,-63.3 22.0,-61.9 32.0,-58.3 42.6,-52.0 52.2,-44.0 62.0,-32.0 68.4,-20.0 71.1,-10.0 71.9,2.0 70.8,16.0 68.0,26.0 62.9,36.0 52.0,49.0 30.0,67.1 24.0,70.8 18.0,72.0Z" fill="#58d800"/><path d="M14.0,60.1 4.0,58.9 -18.0,53.3 -26.0,50.0 -31.8,46.0 -38.0,39.4 -43.6,30.0 -48.1,18.0 -50.5,6.0 -50.3,-4.0 -47.4,-16.0 -42.9,-26.0 -36.0,-35.4 -28.0,-42.7 -20.0,-47.6 -10.0,-51.4 2.0,-53.7 12.0,-53.7 22.0,-51.8 32.0,-47.7 40.5,-42.0 48.8,-34.0 56.0,-24.0 60.2,-14.0 62.3,-4.0 62.5,6.0 61.0,16.0 57.7,26.0 53.0,34.0 44.0,43.8 32.0,53.4 22.0,58.6 14.0,60.1Z" fill="#98e000"/><path d="M12.0,48.2 4.0,48.1 -8.0,45.5 -17.2,42.0 -23.3,38.0 -29.2,32.0 -34.0,24.6 -37.3,16.0 -39.4,6.0 -39.4,-2.0 -37.7,-10.0 -34.0,-19.3 -29.4,-26.0 -23.5,-32.0 -16.0,-37.3 -8.0,-40.5 2.0,-42.7 10.0,-42.7 20.0,-40.7 28.0,-37.3 34.0,-33.2 41.3,-26.0 46.0,-19.2 49.7,-10.0 51.3,-2.0 51.5,6.0 49.6,16.0 46.3,24.0 42.3,30.0 36.0,36.6 28.0,42.7 20.0,46.5 12.0,48.2Z" fill="#e8f000"/><path d="M10.0,32.1 -2.0,31.2 -12.3,26.0 -20.0,16.8 -23.4,6.0 -22.3,-6.0 -17.0,-16.0 -8.0,-23.4 2.0,-26.7 14.0,-25.9 24.0,-20.8 31.7,-12.0 35.2,-2.0 34.7,10.0 30.0,20.0 21.3,28.0 10.0,32.1Z" fill="#f0d800"/></g><circle r="38.2" fill="none" stroke="#000" stroke-width="1.05" stroke-opacity="0.75"/><circle r="64.0" fill="none" stroke="#000" stroke-width="1.05" stroke-opacity="0.75"/><circle r="89.5" fill="none" stroke="#000" stroke-width="1.05" stroke-opacity="0.75"/><circle r="115.0" fill="none" stroke="#000" stroke-width="1.05" stroke-opacity="0.75"/><path d="M25.6,-1.5v3M-25.6,-1.5v3M-2,25.6h4M-2,-25.6h4M51.2,-1.5v3M-51.2,-1.5v3M-2,51.2h4M-2,-51.2h4M76.8,-1.5v3M-76.8,-1.5v3M-2,76.8h4M-2,-76.8h4M102.4,-1.5v3M-102.4,-1.5v3M-2,102.4h4M-2,-102.4h4" stroke="#111" stroke-width="1" fill="none"/><circle cx="-0.0" cy="-77.1" r="25.5" fill="none" stroke="#e8e8e8" stroke-width="0.7" stroke-opacity="0.8"/><circle cx="-77.3" cy="-0.6" r="25.5" fill="none" stroke="#e8e8e8" stroke-width="0.7" stroke-opacity="0.8"/><circle cx="-0.0" cy="-0.6" r="25.5" fill="none" stroke="#e8e8e8" stroke-width="0.7" stroke-opacity="0.8"/><circle cx="76.2" cy="-0.6" r="25.5" fill="none" stroke="#e8e8e8" stroke-width="0.7" stroke-opacity="0.8"/><circle cx="-0.0" cy="75.9" r="25.5" fill="none" stroke="#e8e8e8" stroke-width="0.7" stroke-opacity="0.8"/><rect x="-11.5" y="-85.8" width="23" height="17.5" fill="#f4f4f4" stroke="#333" stroke-width="1"/><text x="-0.0" y="-72.9" font-size="11.5" text-anchor="middle" fill="#222" font-family="Liberation Sans, sans-serif">602</text><rect x="-88.8" y="-9.3" width="23" height="17.5" fill="#f4f4f4" stroke="#333" stroke-width="1"/><text x="-77.3" y="3.6" font-size="11.5" text-anchor="middle" fill="#222" font-family="Liberation Sans, sans-serif">600</text><rect x="-11.5" y="-9.3" width="23" height="17.5" fill="#f4f4f4" stroke="#333" stroke-width="1"/><text x="-0.0" y="3.6" font-size="11.5" text-anchor="middle" fill="#222" font-family="Liberation Sans, sans-serif">522</text><rect x="64.7" y="-9.3" width="23" height="17.5" fill="#f4f4f4" stroke="#333" stroke-width="1"/><text x="76.2" y="3.6" font-size="11.5" text-anchor="middle" fill="#222" font-family="Liberation Sans, sans-serif">615</text><rect x="-11.5" y="67.2" width="23" height="17.5" fill="#f4f4f4" stroke="#333" stroke-width="1"/><text x="-0.0" y="80.1" font-size="11.5" text-anchor="middle" fill="#222" font-family="Liberation Sans, sans-serif">604</text><path d="M-87.3,-16.9C-87.7,-25.2 -87.3,-30.7 -84.8,-36.9C-82.3,-43.2 -78.1,-48.2 -72.2,-54.5C-66.4,-60.8 -57.6,-69.1 -49.7,-74.5C-41.7,-80.0 -33.0,-84.6 -24.6,-87.1C-16.2,-89.6 -7.9,-89.6 0.5,-89.6C8.8,-89.6 18.0,-89.2 25.6,-87.1C33.1,-85.0 40.4,-81.2 45.6,-77.1C50.8,-72.9 54.6,-67.0 56.9,-62.0C59.2,-57.0 60.4,-52.0 59.4,-47.0C58.4,-42.0 54.2,-36.9 50.6,-31.9C47.1,-26.9 38.5,-22.3 38.1,-16.9C37.7,-11.4 45.2,-5.6 48.1,0.7C51.0,6.9 54.6,14.0 55.6,20.7C56.7,27.4 56.1,34.5 54.4,40.8C52.7,47.1 50.4,53.3 45.6,58.3C40.8,63.4 33.1,68.2 25.6,70.9C18.0,73.6 8.8,75.1 0.5,74.6C-7.9,74.2 -16.2,71.9 -24.6,68.4C-33.0,64.8 -42.2,58.8 -49.7,53.3C-57.2,47.9 -64.3,42.5 -69.7,35.8C-75.2,29.1 -79.3,22.0 -82.3,13.2C-85.2,4.4 -86.9,-8.5 -87.3,-16.9Z" fill="none" stroke="#f0f0f0" stroke-width="0.6" stroke-opacity="0.45"/><rect x="-18.9" y="-15.9" width="4.6" height="4.6" fill="#e03030"/><path d="M-18.1,-15.1l3,3m0,-3l-3,3" stroke="#fff" stroke-width="0.8"/><g transform="translate(-0.9,0)"><circle r="144.8" fill="none" stroke="#000" stroke-width="1.9"/><path d="M143.8,-0.0L141.2,-0.0M143.3,-12.5L140.7,-12.3M141.6,-25.0L139.1,-24.5M138.9,-37.2L136.4,-36.5M135.1,-49.2L132.7,-48.3M130.3,-60.8L128.0,-59.7M124.5,-71.9L122.3,-70.6M117.8,-82.5L115.7,-81.0M110.2,-92.4L108.2,-90.8M101.7,-101.7L99.8,-99.8M92.4,-110.2L90.8,-108.2M82.5,-117.8L81.0,-115.7M71.9,-124.5L70.6,-122.3M60.8,-130.3L59.7,-128.0M49.2,-135.1L48.3,-132.7M37.2,-138.9L36.5,-136.4M25.0,-141.6L24.5,-139.1M12.5,-143.3L12.3,-140.7M0.0,-143.8L0.0,-141.2M-12.5,-143.3L-12.3,-140.7M-25.0,-141.6L-24.5,-139.1M-37.2,-138.9L-36.5,-136.4M-49.2,-135.1L-48.3,-132.7M-60.8,-130.3L-59.7,-128.0M-71.9,-124.5L-70.6,-122.3M-82.5,-117.8L-81.0,-115.7M-92.4,-110.2L-90.8,-108.2M-101.7,-101.7L-99.8,-99.8M-110.2,-92.4L-108.2,-90.8M-117.8,-82.5L-115.7,-81.0M-124.5,-71.9L-122.3,-70.6M-130.3,-60.8L-128.0,-59.7M-135.1,-49.2L-132.7,-48.3M-138.9,-37.2L-136.4,-36.5M-141.6,-25.0L-139.1,-24.5M-143.3,-12.5L-140.7,-12.3M-143.8,-0.0L-141.2,-0.0M-143.3,12.5L-140.7,12.3M-141.6,25.0L-139.1,24.5M-138.9,37.2L-136.4,36.5M-135.1,49.2L-132.7,48.3M-130.3,60.8L-128.0,59.7M-124.5,71.9L-122.3,70.6M-117.8,82.5L-115.7,81.0M-110.2,92.4L-108.2,90.8M-101.7,101.7L-99.8,99.8M-92.4,110.2L-90.8,108.2M-82.5,117.8L-81.0,115.7M-71.9,124.5L-70.6,122.3M-60.8,130.3L-59.7,128.0M-49.2,135.1L-48.3,132.7M-37.2,138.9L-36.5,136.4M-25.0,141.6L-24.5,139.1M-12.5,143.3L-12.3,140.7M-0.0,143.8L-0.0,141.2M12.5,143.3L12.3,140.7M25.0,141.6L24.5,139.1M37.2,138.9L36.5,136.4M49.2,135.1L48.3,132.7M60.8,130.3L59.7,128.0M71.9,124.5L70.6,122.3M82.5,117.8L81.0,115.7M92.4,110.2L90.8,108.2M101.7,101.7L99.8,99.8M110.2,92.4L108.2,90.8M117.8,82.5L115.7,81.0M124.5,71.9L122.3,70.6M130.3,60.8L128.0,59.7M135.1,49.2L132.7,48.3M138.9,37.2L136.4,36.5M141.6,25.0L139.1,24.5M143.3,12.5L140.7,12.3" stroke="#d0d0d0" stroke-width="1.1" fill="none"/><g font-size="6.5" font-weight="bold" fill="#e4e4e4" text-anchor="middle" font-family="Liberation Sans, sans-serif"><text x="137.2" y="2.3">0</text><text x="132.5" y="-33.2">15</text><text x="118.8" y="-66.3">30</text><text x="97.0" y="-94.7">45</text><text x="68.6" y="-116.5">60</text><text x="35.5" y="-130.2">75</text><text x="0.0" y="-134.9">90</text><text x="-35.5" y="-130.2">105</text><text x="-68.6" y="-116.5">120</text><text x="-97.0" y="-94.7">135</text><text x="-118.8" y="-66.3">150</text><text x="-132.5" y="-33.2">165</text><text x="-137.2" y="2.3">180</text><text x="-132.5" y="37.8">195</text><text x="-118.8" y="70.9">210</text><text x="-97.0" y="99.3">225</text><text x="-68.6" y="121.1">240</text><text x="-35.5" y="134.8">255</text><text x="-0.0" y="139.5">270</text><text x="35.5" y="134.8">285</text><text x="68.6" y="121.1">300</text><text x="97.0" y="99.3">315</text><text x="118.8" y="70.9">330</text><text x="132.5" y="37.8">345</text></g></g></g></svg>
<span class="t9 sh" style="left:-0.5px;top:0px">0.005 mm Color Steps</span>
<span class="big sh" style="left:1.5px;top:12.6px">Anterior</span>
<span class="flt sh" style="left:1.5px;top:34.5px">Float</span>
<span class="t9 sh" style="right:2px;top:0px">0.005 mm Color Steps</span>
<span class="big sh" style="right:1.5px;top:12.6px">Posterior</span>
<span class="flt sh" style="right:1.5px;top:34.5px">Float</span>
<span class="big2 sh" style="left:1px;top:549px">Keratometric</span>
<span class="t9 sh" style="left:0px;top:571px">1.0 D Color Steps</span>
<span class="big2 sh" style="right:1.5px;top:549px">Thickness</span>
<span class="t9 sh" style="right:2px;top:571px">20 mic Color Steps</span>
<div class="blk" style="left:2px;top:59px;width:47px;height:465px"></div>
<div class="gl" style="left:48.4px;top:59px;width:1px;height:466px"></div>
<div class="gl" style="left:2px;top:290px;width:48px;height:1.5px"></div>
<div class="gl" style="left:2px;top:523.6px;width:48px;height:1.5px"></div>
<i style="left:2.6px;top:59.40px;width:11.6px;height:6.86px;background:#6b3a7c"></i><i style="left:2.6px;top:65.96px;width:11.6px;height:6.86px;background:#83386e"></i><i style="left:2.6px;top:72.51px;width:11.6px;height:6.86px;background:#8c3670"></i><i style="left:2.6px;top:79.07px;width:11.6px;height:6.86px;background:#a8205a"></i><i style="left:2.6px;top:85.63px;width:11.6px;height:6.86px;background:#a81038"></i><i style="left:2.6px;top:92.19px;width:11.6px;height:6.86px;background:#c01010"></i><i style="left:2.6px;top:98.74px;width:11.6px;height:6.86px;background:#dc1800"></i><i style="left:2.6px;top:105.30px;width:11.6px;height:6.86px;background:#e83800"></i><i style="left:2.6px;top:111.86px;width:11.6px;height:6.86px;background:#e85000"></i><i style="left:2.6px;top:118.41px;width:11.6px;height:6.86px;background:#f07000"></i><i style="left:2.6px;top:124.97px;width:11.6px;height:6.86px;background:#f08000"></i><i style="left:2.6px;top:131.53px;width:11.6px;height:6.86px;background:#f09000"></i><i style="left:2.6px;top:138.08px;width:11.6px;height:6.86px;background:#f0a000"></i><i style="left:2.6px;top:144.64px;width:11.6px;height:6.86px;background:#f0b800"></i><i style="left:2.6px;top:151.20px;width:11.6px;height:6.86px;background:#f0c800"></i><i style="left:2.6px;top:157.75px;width:11.6px;height:6.86px;background:#f0d800"></i><i style="left:2.6px;top:164.31px;width:11.6px;height:6.86px;background:#f0f000"></i><i style="left:2.6px;top:170.87px;width:11.6px;height:6.86px;background:#28c800"></i><i style="left:2.6px;top:177.43px;width:11.6px;height:6.86px;background:#30d8f0"></i><i style="left:2.6px;top:183.98px;width:11.6px;height:6.86px;background:#30c8f0"></i><i style="left:2.6px;top:190.54px;width:11.6px;height:6.86px;background:#28b8f0"></i><i style="left:2.6px;top:197.10px;width:11.6px;height:6.86px;background:#28a8f0"></i><i style="left:2.6px;top:203.65px;width:11.6px;height:6.86px;background:#2898f0"></i><i style="left:2.6px;top:210.21px;width:11.6px;height:6.86px;background:#2088f0"></i><i style="left:2.6px;top:216.77px;width:11.6px;height:6.86px;background:#1878f0"></i><i style="left:2.6px;top:223.33px;width:11.6px;height:6.86px;background:#1870f0"></i><i style="left:2.6px;top:229.88px;width:11.6px;height:6.86px;background:#1860f0"></i><i style="left:2.6px;top:236.44px;width:11.6px;height:6.86px;background:#1050f0"></i><i style="left:2.6px;top:243.00px;width:11.6px;height:6.86px;background:#1818e8"></i><i style="left:2.6px;top:249.55px;width:11.6px;height:6.86px;background:#3010c0"></i><i style="left:2.6px;top:256.11px;width:11.6px;height:6.86px;background:#6808b0"></i><i style="left:2.6px;top:262.67px;width:11.6px;height:6.86px;background:#7008b8"></i><i style="left:2.6px;top:269.22px;width:11.6px;height:6.86px;background:#8808b0"></i><i style="left:2.6px;top:275.78px;width:11.6px;height:6.86px;background:#a010b0"></i><i style="left:2.6px;top:282.34px;width:11.6px;height:6.86px;background:#a810b8"></i>
<i style="left:2.6px;top:293.30px;width:11.6px;height:6.86px;background:#d89090"></i><i style="left:2.6px;top:299.86px;width:11.6px;height:6.86px;background:#d07070"></i><i style="left:2.6px;top:306.41px;width:11.6px;height:6.86px;background:#c06060"></i><i style="left:2.6px;top:312.97px;width:11.6px;height:6.86px;background:#b05050"></i><i style="left:2.6px;top:319.53px;width:11.6px;height:6.86px;background:#883030"></i><i style="left:2.6px;top:326.09px;width:11.6px;height:6.86px;background:#a00000"></i><i style="left:2.6px;top:332.64px;width:11.6px;height:6.86px;background:#b01000"></i><i style="left:2.6px;top:339.20px;width:11.6px;height:6.86px;background:#c83000"></i><i style="left:2.6px;top:345.76px;width:11.6px;height:6.86px;background:#e05800"></i><i style="left:2.6px;top:352.31px;width:11.6px;height:6.86px;background:#e07000"></i><i style="left:2.6px;top:358.87px;width:11.6px;height:6.86px;background:#d88c00"></i><i style="left:2.6px;top:365.43px;width:11.6px;height:6.86px;background:#d8a000"></i><i style="left:2.6px;top:371.98px;width:11.6px;height:6.86px;background:#d0c000"></i><i style="left:2.6px;top:378.54px;width:11.6px;height:6.86px;background:#f0d800"></i><i style="left:2.6px;top:385.10px;width:11.6px;height:6.86px;background:#e8f000"></i><i style="left:2.6px;top:391.66px;width:11.6px;height:6.86px;background:#98e000"></i><i style="left:2.6px;top:398.21px;width:11.6px;height:6.86px;background:#58d800"></i><i style="left:2.6px;top:404.77px;width:11.6px;height:6.86px;background:#30c830"></i><i style="left:2.6px;top:411.33px;width:11.6px;height:6.86px;background:#30d8e8"></i><i style="left:2.6px;top:417.88px;width:11.6px;height:6.86px;background:#30c8e8"></i><i style="left:2.6px;top:424.44px;width:11.6px;height:6.86px;background:#28b0e0"></i><i style="left:2.6px;top:431.00px;width:11.6px;height:6.86px;background:#28a0e0"></i><i style="left:2.6px;top:437.55px;width:11.6px;height:6.86px;background:#2080e0"></i><i style="left:2.6px;top:444.11px;width:11.6px;height:6.86px;background:#2060d0"></i><i style="left:2.6px;top:450.67px;width:11.6px;height:6.86px;background:#1840d8"></i><i style="left:2.6px;top:457.23px;width:11.6px;height:6.86px;background:#1818c8"></i><i style="left:2.6px;top:463.78px;width:11.6px;height:6.86px;background:#101090"></i><i style="left:2.6px;top:470.34px;width:11.6px;height:6.86px;background:#502098"></i><i style="left:2.6px;top:476.90px;width:11.6px;height:6.86px;background:#7020a8"></i><i style="left:2.6px;top:483.45px;width:11.6px;height:6.86px;background:#7820b0"></i><i style="left:2.6px;top:490.01px;width:11.6px;height:6.86px;background:#9020b0"></i><i style="left:2.6px;top:496.57px;width:11.6px;height:6.86px;background:#a830d0"></i><i style="left:2.6px;top:503.12px;width:11.6px;height:6.86px;background:#a830d0"></i><i style="left:2.6px;top:509.68px;width:11.6px;height:6.86px;background:#b860f0"></i><i style="left:2.6px;top:516.24px;width:11.6px;height:6.86px;background:#b860f0"></i>
<span class="sl" style="left:11.2px;top:69.7px;width:34px;text-align:right;">0.075</span><span class="sl" style="left:11.2px;top:89.4px;width:34px;text-align:right;">0.060</span><span class="sl" style="left:11.2px;top:109.0px;width:34px;text-align:right;">0.045</span><span class="sl" style="left:11.2px;top:128.7px;width:34px;text-align:right;">0.030</span><span class="sl" style="left:11.2px;top:148.4px;width:34px;text-align:right;">0.015</span><span class="sl" style="left:11.2px;top:168.0px;width:34px;text-align:right;">0.000</span><span class="sl" style="left:11.2px;top:187.7px;width:34px;text-align:right;">-0.015</span><span class="sl" style="left:11.2px;top:207.4px;width:34px;text-align:right;">-0.030</span><span class="sl" style="left:11.2px;top:227.1px;width:34px;text-align:right;">-0.045</span><span class="sl" style="left:11.2px;top:246.7px;width:34px;text-align:right;">-0.060</span><span class="sl" style="left:11.2px;top:266.4px;width:34px;text-align:right;">-0.075</span>
<span class="sl" style="left:11.2px;top:303.6px;width:34px;text-align:right;">57.00</span><span class="sl" style="left:11.2px;top:323.3px;width:34px;text-align:right;">54.00</span><span class="sl" style="left:11.2px;top:342.9px;width:34px;text-align:right;">51.00</span><span class="sl" style="left:11.2px;top:362.6px;width:34px;text-align:right;">48.00</span><span class="sl" style="left:11.2px;top:382.3px;width:34px;text-align:right;">45.00</span><span class="sl" style="left:11.2px;top:401.9px;width:34px;text-align:right;">42.00</span><span class="sl" style="left:11.2px;top:421.6px;width:34px;text-align:right;">39.00</span><span class="sl" style="left:11.2px;top:441.3px;width:34px;text-align:right;">36.00</span><span class="sl" style="left:11.2px;top:461.0px;width:34px;text-align:right;">33.00</span><span class="sl" style="left:11.2px;top:480.6px;width:34px;text-align:right;">30.00</span><span class="sl" style="left:11.2px;top:500.3px;width:34px;text-align:right;">27.00</span>
<div class="blk" style="left:834px;top:59px;width:45.8px;height:465px"></div>
<div class="gl" style="left:834px;top:290px;width:46px;height:1.5px"></div>
<div class="gl" style="left:834px;top:523.6px;width:46px;height:1.5px"></div>
<i style="left:834.1px;top:59.40px;width:12.0px;height:6.86px;background:#6b3a7c"></i><i style="left:834.1px;top:65.96px;width:12.0px;height:6.86px;background:#83386e"></i><i style="left:834.1px;top:72.51px;width:12.0px;height:6.86px;background:#8c3670"></i><i style="left:834.1px;top:79.07px;width:12.0px;height:6.86px;background:#a8205a"></i><i style="left:834.1px;top:85.63px;width:12.0px;height:6.86px;background:#a81038"></i><i style="left:834.1px;top:92.19px;width:12.0px;height:6.86px;background:#c01010"></i><i style="left:834.1px;top:98.74px;width:12.0px;height:6.86px;background:#dc1800"></i><i style="left:834.1px;top:105.30px;width:12.0px;height:6.86px;background:#e83800"></i><i style="left:834.1px;top:111.86px;width:12.0px;height:6.86px;background:#e85000"></i><i style="left:834.1px;top:118.41px;width:12.0px;height:6.86px;background:#f07000"></i><i style="left:834.1px;top:124.97px;width:12.0px;height:6.86px;background:#f08000"></i><i style="left:834.1px;top:131.53px;width:12.0px;height:6.86px;background:#f09000"></i><i style="left:834.1px;top:138.08px;width:12.0px;height:6.86px;background:#f0a000"></i><i style="left:834.1px;top:144.64px;width:12.0px;height:6.86px;background:#f0b800"></i><i style="left:834.1px;top:151.20px;width:12.0px;height:6.86px;background:#f0c800"></i><i style="left:834.1px;top:157.75px;width:12.0px;height:6.86px;background:#f0d800"></i><i style="left:834.1px;top:164.31px;width:12.0px;height:6.86px;background:#f0f000"></i><i style="left:834.1px;top:170.87px;width:12.0px;height:6.86px;background:#28c800"></i><i style="left:834.1px;top:177.43px;width:12.0px;height:6.86px;background:#30d8f0"></i><i style="left:834.1px;top:183.98px;width:12.0px;height:6.86px;background:#30c8f0"></i><i style="left:834.1px;top:190.54px;width:12.0px;height:6.86px;background:#28b8f0"></i><i style="left:834.1px;top:197.10px;width:12.0px;height:6.86px;background:#28a8f0"></i><i style="left:834.1px;top:203.65px;width:12.0px;height:6.86px;background:#2898f0"></i><i style="left:834.1px;top:210.21px;width:12.0px;height:6.86px;background:#2088f0"></i><i style="left:834.1px;top:216.77px;width:12.0px;height:6.86px;background:#1878f0"></i><i style="left:834.1px;top:223.33px;width:12.0px;height:6.86px;background:#1870f0"></i><i style="left:834.1px;top:229.88px;width:12.0px;height:6.86px;background:#1860f0"></i><i style="left:834.1px;top:236.44px;width:12.0px;height:6.86px;background:#1050f0"></i><i style="left:834.1px;top:243.00px;width:12.0px;height:6.86px;background:#1818e8"></i><i style="left:834.1px;top:249.55px;width:12.0px;height:6.86px;background:#3010c0"></i><i style="left:834.1px;top:256.11px;width:12.0px;height:6.86px;background:#6808b0"></i><i style="left:834.1px;top:262.67px;width:12.0px;height:6.86px;background:#7008b8"></i><i style="left:834.1px;top:269.22px;width:12.0px;height:6.86px;background:#8808b0"></i><i style="left:834.1px;top:275.78px;width:12.0px;height:6.86px;background:#a010b0"></i><i style="left:834.1px;top:282.34px;width:12.0px;height:6.86px;background:#a810b8"></i>
<i style="left:834.1px;top:293.30px;width:12.0px;height:6.86px;background:#b860f0"></i><i style="left:834.1px;top:299.86px;width:12.0px;height:6.86px;background:#b860f0"></i><i style="left:834.1px;top:306.41px;width:12.0px;height:6.86px;background:#a830d0"></i><i style="left:834.1px;top:312.97px;width:12.0px;height:6.86px;background:#a830d0"></i><i style="left:834.1px;top:319.53px;width:12.0px;height:6.86px;background:#9020b0"></i><i style="left:834.1px;top:326.09px;width:12.0px;height:6.86px;background:#7820b0"></i><i style="left:834.1px;top:332.64px;width:12.0px;height:6.86px;background:#7020a8"></i><i style="left:834.1px;top:339.20px;width:12.0px;height:6.86px;background:#502098"></i><i style="left:834.1px;top:345.76px;width:12.0px;height:6.86px;background:#101090"></i><i style="left:834.1px;top:352.31px;width:12.0px;height:6.86px;background:#1818c8"></i><i style="left:834.1px;top:358.87px;width:12.0px;height:6.86px;background:#1840d8"></i><i style="left:834.1px;top:365.43px;width:12.0px;height:6.86px;background:#2060d0"></i><i style="left:834.1px;top:371.98px;width:12.0px;height:6.86px;background:#2080e0"></i><i style="left:834.1px;top:378.54px;width:12.0px;height:6.86px;background:#28a0e0"></i><i style="left:834.1px;top:385.10px;width:12.0px;height:6.86px;background:#28b0e0"></i><i style="left:834.1px;top:391.66px;width:12.0px;height:6.86px;background:#30c8e8"></i><i style="left:834.1px;top:398.21px;width:12.0px;height:6.86px;background:#30d8e8"></i><i style="left:834.1px;top:404.77px;width:12.0px;height:6.86px;background:#30c830"></i><i style="left:834.1px;top:411.33px;width:12.0px;height:6.86px;background:#58d800"></i><i style="left:834.1px;top:417.88px;width:12.0px;height:6.86px;background:#98e000"></i><i style="left:834.1px;top:424.44px;width:12.0px;height:6.86px;background:#e8f000"></i><i style="left:834.1px;top:431.00px;width:12.0px;height:6.86px;background:#f0d800"></i><i style="left:834.1px;top:437.55px;width:12.0px;height:6.86px;background:#d0c000"></i><i style="left:834.1px;top:444.11px;width:12.0px;height:6.86px;background:#d8a000"></i><i style="left:834.1px;top:450.67px;width:12.0px;height:6.86px;background:#d88c00"></i><i style="left:834.1px;top:457.23px;width:12.0px;height:6.86px;background:#e07000"></i><i style="left:834.1px;top:463.78px;width:12.0px;height:6.86px;background:#e05800"></i><i style="left:834.1px;top:470.34px;width:12.0px;height:6.86px;background:#c83000"></i><i style="left:834.1px;top:476.90px;width:12.0px;height:6.86px;background:#b01000"></i><i style="left:834.1px;top:483.45px;width:12.0px;height:6.86px;background:#a00000"></i><i style="left:834.1px;top:490.01px;width:12.0px;height:6.86px;background:#883030"></i><i style="left:834.1px;top:496.57px;width:12.0px;height:6.86px;background:#b05050"></i><i style="left:834.1px;top:503.12px;width:12.0px;height:6.86px;background:#c06060"></i><i style="left:834.1px;top:509.68px;width:12.0px;height:6.86px;background:#d07070"></i><i style="left:834.1px;top:516.24px;width:12.0px;height:6.86px;background:#d89090"></i>
<span class="sl" style="left:844.0px;top:69.7px;width:34px;text-align:right;">0.075</span><span class="sl" style="left:844.0px;top:89.4px;width:34px;text-align:right;">0.060</span><span class="sl" style="left:844.0px;top:109.0px;width:34px;text-align:right;">0.045</span><span class="sl" style="left:844.0px;top:128.7px;width:34px;text-align:right;">0.030</span><span class="sl" style="left:844.0px;top:148.4px;width:34px;text-align:right;">0.015</span><span class="sl" style="left:844.0px;top:168.0px;width:34px;text-align:right;">0.000</span><span class="sl" style="left:844.0px;top:187.7px;width:34px;text-align:right;">-0.015</span><span class="sl" style="left:844.0px;top:207.4px;width:34px;text-align:right;">-0.030</span><span class="sl" style="left:844.0px;top:227.1px;width:34px;text-align:right;">-0.045</span><span class="sl" style="left:844.0px;top:246.7px;width:34px;text-align:right;">-0.060</span><span class="sl" style="left:844.0px;top:266.4px;width:34px;text-align:right;">-0.075</span>
<span class="sl" style="left:847.0px;top:302.7px;font-size:10.7px;">900</span><span class="sl" style="left:847.0px;top:322.4px;font-size:10.7px;">840</span><span class="sl" style="left:847.0px;top:342.0px;font-size:10.7px;">780</span><span class="sl" style="left:847.0px;top:361.7px;font-size:10.7px;">720</span><span class="sl" style="left:847.0px;top:381.4px;font-size:10.7px;">660</span><span class="sl" style="left:847.0px;top:401.0px;font-size:10.7px;">600</span><span class="sl" style="left:847.0px;top:420.7px;font-size:10.7px;">540</span><span class="sl" style="left:847.0px;top:440.4px;font-size:10.7px;">480</span><span class="sl" style="left:847.0px;top:460.1px;font-size:10.7px;">420</span><span class="sl" style="left:847.0px;top:479.7px;font-size:10.7px;">360</span><span class="sl" style="left:847.0px;top:499.4px;font-size:10.7px;">300</span>
<span class="tn sh2" style="left:52.6px;top:271.6px;width:40px">T</span>
<span class="tn sh2" style="left:778.4px;top:271.6px;width:40px">N</span>
<div class="cc" style="left:0.0px;top:0;width:881px;height:584px">
<div class="tb" style="left:267.5px;top:1px;width:173px">Anterior Best Fit Sphere</div>
<div class="tb" style="left:441.5px;top:1px;width:172.5px">Posterior Best Fit Sphere</div>
<div class="tb tb2" style="left:267.5px;top:570.2px;width:173px">Keratometric Axial</div>
<div class="tb tb2" style="left:441.5px;top:570.2px;width:172.5px">0.92 Pachymetry</div>
<div class="gb" style="left:331.3px;top:13.6px;width:108.6px"><span class="g8" style="left:1px;top:3px">7.07mm/47.7D</span><span class="g8" style="left:3px;top:27.5px">Diff:</span><span class="g8" style="left:3px;top:39.3px">Meridian:</span><span class="g8" style="left:3px;top:51.1px">Radius:</span></div>
<div class="gb" style="left:441.5px;top:13.6px;width:108.9px"><span class="g8" style="left:1px;top:3px">5.67mm/59.5D</span><span class="g8" style="left:3px;top:27.5px">Diff:</span><span class="g8" style="left:3px;top:39.3px">Meridian:</span><span class="g8" style="left:3px;top:51.1px">Radius:</span></div>
<div class="gb" style="left:331.3px;top:505.2px;width:108.6px"></div>
<div class="gb" style="left:441.5px;top:505.2px;width:108.9px"><span class="g8" style="left:3px;top:27.5px">Thick:</span><span class="g8" style="left:3px;top:39.3px">Meridian:</span><span class="g8" style="left:3px;top:51.1px">Radius:</span></div>
<div class="mx" style="left:300.6px;top:277.0px;line-height:13.6px">Max</div>
<div class="mx" style="left:300.6px;top:290.4px;height:13.4px;line-height:15.6px">Max</div>
<div class="mx" style="left:538.6px;top:277.0px;line-height:13.6px">Max</div>
<div class="mx" style="left:538.6px;top:290.4px;height:13.4px;line-height:15.6px">Max</div>
<div class="info" style="left:344.8px;top:78.0px;width:193px;height:345.6px">
<div class="wb"></div><span class="ltr">A</span>
<span class="hd" style="top:31.4px">08/20/2010 12:56:55 PM</span>
<span class="hd" style="top:45.8px">PRE CATARACT</span>
<span class="hd" style="top:59.3px">DR D HAN</span>
<span class="hd" style="top:71px">SINGAPORE NATIONAL&nbsp; EYE CENTRE</span>
<div class="ln" style="top:85.3px"></div>
<div class="r" style="top:87.5px"><span style="left:5px">Sim K's:</span><span class="m" style="left:42.5px">Astig:</span><span class="m" style="left:73px">-6.5 D</span><span class="m" style="left:108px">@ 85 deg</span></div>
<div class="r rd" style="top:100.3px"><span style="left:5px">Max:</span><span style="left:73px">51.4 D</span><span style="left:108px">@ 175 deg</span></div>
<div class="r bl" style="top:113.0px"><span style="left:5px">Min:</span><span style="left:73px">45.0 D</span><span style="left:108px">@ 85 deg</span></div>
<div class="ln" style="top:126.0px"></div>
<div class="r" style="top:128.5px"><span style="left:5px">3.0 MM Zone:</span><span class="m" style="left:73px">Irreg:</span><span class="m" style="left:108px">± 2.9 D</span></div><div class="r " style="top:141.3px"><span style="left:5px">Mean Pwr</span><span style="left:73px">48.3</span><span style="left:108px">± 2.3 D</span></div><div class="r " style="top:154.0px"><span style="left:5px">Astig Pwr</span><span style="left:73px">5.9</span><span style="left:108px">± 1.8 D</span></div><div class="r rd" style="top:167.0px"><span style="left:5px">Steep Axis</span><span style="left:73px">170</span><span style="left:108px">± 16 deg</span></div><div class="r bl" style="top:179.8px"><span style="left:5px">Flat Axis</span><span style="left:73px">&nbsp;84</span><span style="left:108px">± 16 deg</span></div>
<div class="ln" style="top:193.2px"></div>
<div class="r" style="top:195.5px"><span style="left:5px">5.0 MM Zone:</span><span class="m" style="left:73px">Irreg:</span><span class="m" style="left:108px">± 3.8 D</span></div><div class="r " style="top:208.3px"><span style="left:5px">Mean Pwr</span><span style="left:73px">47.9</span><span style="left:108px">± 2.4 D</span></div><div class="r " style="top:221.0px"><span style="left:5px">Astig Pwr</span><span style="left:73px">4.7</span><span style="left:108px">± 2.9 D</span></div><div class="r rd" style="top:234.0px"><span style="left:5px">Steep Axis</span><span style="left:73px">161</span><span style="left:108px">± 23 deg</span></div><div class="r bl" style="top:246.8px"><span style="left:5px">Flat Axis</span><span style="left:73px">&nbsp;82</span><span style="left:108px">± 22 deg</span></div>
<div class="ln" style="top:260.7px"></div>
<div class="r" style="top:263.4px"><span style="left:5px">White-to-White [mm] : 11.5</span></div>
<div class="r" style="top:276.2px"><span style="left:5px">Pupil Diameter [mm] :&nbsp; 6.2</span></div>
<div class="r" style="top:289.0px"><span style="left:5px">Thinnest : 516 um @ ( 0.4, -0.2 )</span></div>
<div class="r" style="top:301.9px"><span style="left:5px">ACD (Endo): 2.92 mm</span></div>
<div class="r" style="top:314.7px"><span style="left:5px">Kappa : 0.81° @ 177.35°</span></div>
<div class="r" style="top:327.5px"><span style="left:5px">Kappa Intercept : -0.68, 0.59</span></div>
<div class="ln" style="top:340.2px"></div>
</div>
<span class="od sh2" style="left:390px;top:423px;width:100px">OD</span>
<div class="lg" style="left:378.5px;top:464.5px"><i class="c1"></i><i class="c2"></i><i class="c3"></i></div>
<span class="orb" style="left:413.5px;top:467px">ORBSCAN</span>
<span class="ver" style="left:435px;top:495px">v3.14</span>
</div>
<div class="dash"></div><div class="dashv"></div><div class="dashv" style="left:879.8px"></div>
</div>
<div class="panel" style="top:584px">
<svg style="position:absolute;left:0;top:0" width="881" height="584" viewBox="0 0 881 584"><g transform="translate(193.9,145.4)"><clipPath id="c5"><path d="M-99.8,-89.3 -84.8,-93.1 -19.6,-98.1 25.6,-98.1 65.7,-94.3 98.3,-89.3 105.8,-84.3 107.0,-61.7 110.8,-49.2 112.1,-19.1 109.6,26.1 105.8,51.1 100.8,76.2 95.8,88.7 78.2,91.2 75.7,102.5 -49.7,102.5 -84.8,101.3 -87.3,88.7 -97.3,76.2 -104.8,51.1 -109.9,16.0 -108.6,-24.1 -106.1,-61.7 -99.8,-74.2Z"/></clipPath><g clip-path="url(#c5)"><rect x="-130" y="-130" width="260" height="260" fill="#6b3a7c"/><path d="M130.0,130.0 -72.1,130.0 -108.0,108.6 -124.0,96.0 -130.0,89.6 -130.0,-27.7 -111.6,-50.0 -94.0,-82.4 -58.0,-104.3 -26.0,-122.2 -8.0,-128.4 6.0,-129.6 22.0,-127.3 40.0,-119.7 58.0,-108.3 82.0,-90.0 97.2,-80.0 114.1,-58.0 122.1,-52.0 130.0,-48.4 130.0,130.0Z" fill="#83386e"/><path d="M130.0,130.0 -65.5,130.0 -104.0,107.4 -121.6,94.0 -130.0,84.7 -130.0,-24.0 -109.8,-48.0 -91.3,-80.0 -58.0,-101.4 -22.0,-121.1 -4.0,-126.3 14.0,-126.2 24.0,-123.8 33.5,-120.0 56.0,-106.3 82.0,-86.0 94.6,-78.0 108.0,-60.9 116.0,-52.8 130.0,-45.6 130.0,130.0Z" fill="#8c3670"/><path d="M130.0,130.0 -58.9,130.0 -102.0,105.1 -119.2,92.0 -130.0,79.5 -130.0,-20.3 -108.2,-46.0 -90.0,-75.6 -60.0,-97.3 -24.0,-117.4 -14.0,-121.4 -4.0,-123.7 14.0,-123.5 32.0,-117.7 56.0,-103.0 82.0,-82.1 94.0,-74.2 114.0,-51.2 120.0,-47.3 130.0,-43.0 130.0,130.0Z" fill="#a8205a"/><path d="M130.0,130.0 -52.2,130.0 -58.0,126.8 -108.0,97.5 -120.0,87.0 -130.0,74.0 -130.0,-16.5 -106.9,-44.0 -88.0,-72.7 -56.0,-97.1 -24.0,-114.6 -6.0,-120.7 4.0,-121.7 14.0,-120.8 24.5,-118.0 36.0,-112.6 60.0,-97.1 82.0,-78.3 92.0,-71.9 114.0,-48.2 130.0,-40.5 130.0,130.0Z" fill="#a81038"/><path d="M130.0,130.0 -44.6,130.0 -56.0,124.4 -94.0,103.0 -108.0,93.9 -120.5,82.0 -130.0,68.0 -130.0,-12.6 -104.2,-44.0 -88.0,-68.5 -74.0,-81.1 -56.0,-94.7 -22.0,-112.8 -6.0,-118.1 4.0,-119.1 14.0,-118.2 24.0,-115.4 34.0,-110.7 58.0,-95.5 80.5,-76.0 92.0,-68.6 113.3,-46.0 130.0,-38.1 130.0,130.0Z" fill="#c01010"/><path d="M130.0,130.0 42.0,129.3 -35.1,130.0 -54.0,122.0 -104.0,93.4 -116.0,82.8 -125.5,70.0 -130.0,61.3 -130.0,-8.4 -123.4,-18.0 -101.6,-44.0 -88.0,-64.9 -72.0,-79.9 -56.0,-92.3 -22.0,-110.2 -6.0,-115.5 4.0,-116.5 14.0,-115.5 24.0,-112.6 32.0,-108.9 58.0,-92.6 80.0,-73.4 92.0,-65.6 112.0,-44.4 130.0,-35.8 130.0,130.0ZM13.0,46.0 16.9,42.0 17.9,36.0 13.8,30.0 10.0,27.6 6.0,27.0 3.4,32.0 4.0,38.8 8.0,45.1 10.0,46.3 13.0,46.0Z" fill="#dc1800"/><path d="M130.0,130.0 95.8,130.0 40.0,123.2 30.0,124.1 2.3,130.0 -17.3,130.0 -36.0,126.2 -54.0,118.8 -84.0,102.5 -102.0,91.4 -112.9,82.0 -122.0,70.0 -130.0,53.6 -130.0,-3.4 -128.8,-6.0 -122.4,-16.0 -100.0,-43.0 -87.7,-62.0 -72.0,-77.3 -56.0,-90.1 -22.0,-107.6 -6.0,-113.0 2.0,-113.9 12.0,-113.2 22.0,-110.6 30.0,-107.0 60.0,-88.4 78.5,-72.0 94.0,-61.3 110.0,-43.6 130.0,-33.6 130.0,130.0ZM12.9,54.0 16.3,52.0 21.2,46.0 23.6,40.0 23.6,36.0 20.7,30.0 16.0,24.2 10.0,19.4 6.0,18.2 2.2,20.0 -0.3,24.0 -2.3,32.0 -2.1,38.0 0.3,44.0 6.0,51.7 10.0,54.2 12.9,54.0Z" fill="#e83800"/><path d="M-4.0,126.0 -26.0,124.9 -48.0,118.6 -86.7,98.0 -100.0,89.6 -109.1,82.0 -121.0,66.0 -126.0,55.8 -130.0,44.1 -130.0,3.0 -122.8,-12.0 -98.4,-42.0 -88.4,-58.0 -70.0,-76.7 -54.0,-89.3 -22.0,-105.0 -8.0,-109.9 6.0,-111.2 16.0,-109.7 26.0,-106.2 54.0,-90.0 78.0,-69.9 94.0,-58.8 109.2,-42.0 130.0,-31.3 130.0,125.7 90.0,124.3 38.0,117.0 30.0,117.7 8.0,124.1 -4.0,126.0ZM12.7,62.0 18.0,58.2 24.9,48.0 27.0,42.0 27.0,36.0 24.0,28.6 18.0,20.0 12.0,15.3 6.0,13.8 2.0,15.1 -2.5,20.0 -5.9,30.0 -6.4,38.0 -4.6,44.0 2.0,53.6 8.0,60.2 10.0,61.7 12.7,62.0Z" fill="#e85000"/><path d="M-12.0,122.0 -30.0,120.7 -48.0,115.7 -78.7,100.0 -104.0,83.2 -115.3,70.0 -124.4,52.0 -129.3,34.0 -130.0,16.0 -126.6,0.0 -120.4,-12.0 -96.3,-42.0 -86.1,-58.0 -70.5,-74.0 -54.0,-87.3 -38.0,-94.1 -22.0,-102.5 -6.0,-107.8 6.0,-108.6 16.0,-107.0 24.0,-104.3 54.0,-87.5 78.0,-67.6 92.2,-58.0 108.0,-41.0 130.0,-29.1 130.0,119.8 106.0,120.0 84.0,118.9 34.0,110.5 26.0,111.8 4.0,119.9 -12.0,122.0ZM15.6,68.0 22.0,62.0 28.0,51.6 30.1,44.0 29.8,36.0 24.9,24.0 19.2,16.0 12.0,11.2 4.0,10.3 -2.0,13.8 -6.0,20.0 -9.6,32.0 -10.0,40.5 -6.8,48.0 6.3,66.0 10.0,68.7 15.6,68.0Z" fill="#f07000"/><path d="M-2.0,116.3 -12.0,117.7 -24.0,117.8 -36.0,116.3 -46.0,113.6 -76.0,99.0 -100.0,83.2 -110.6,72.0 -120.5,54.0 -126.2,36.0 -127.6,18.0 -124.9,2.0 -119.4,-10.0 -94.2,-42.0 -85.6,-56.0 -70.0,-72.2 -56.0,-84.0 -50.0,-87.6 -38.0,-91.9 -16.0,-102.4 -6.0,-105.1 4.0,-106.0 14.0,-104.7 24.0,-101.6 54.0,-85.2 77.2,-66.0 92.0,-56.0 108.0,-39.2 130.0,-26.8 130.0,114.1 100.0,115.0 82.0,114.3 56.0,109.9 36.0,104.1 30.0,103.6 24.0,104.9 8.0,113.1 -2.0,116.3ZM12.0,74.0 16.0,73.5 20.0,71.1 28.0,61.3 32.5,50.0 32.7,38.0 28.0,24.1 22.0,14.1 14.0,8.4 4.0,6.7 -2.0,9.5 -8.0,17.6 -12.6,32.0 -13.7,42.0 -10.4,50.0 2.3,68.0 8.0,72.8 12.0,74.0Z" fill="#f08000"/><path d="M-24.0,114.0 -40.0,112.5 -54.0,107.7 -77.0,96.0 -96.0,83.1 -104.0,76.0 -114.6,60.0 -121.9,42.0 -125.0,24.0 -124.1,8.0 -121.3,-2.0 -117.1,-10.0 -92.3,-42.0 -85.1,-54.0 -70.0,-70.1 -56.0,-82.1 -48.0,-86.8 -37.8,-90.0 -24.0,-96.9 -14.0,-100.5 0.0,-103.2 12.0,-102.2 24.0,-98.9 54.0,-82.8 76.0,-64.7 92.0,-53.9 108.0,-37.5 130.0,-24.5 130.0,108.6 94.0,110.6 78.0,109.9 52.0,105.0 34.0,97.2 24.0,95.6 20.0,96.8 8.7,106.0 1.3,110.0 -10.0,112.9 -24.0,114.0ZM17.6,80.0 27.4,70.0 32.1,62.0 35.6,50.0 35.3,38.0 29.2,20.0 24.0,11.7 14.0,5.1 8.0,3.6 2.0,3.9 -4.9,8.0 -10.3,16.0 -16.7,36.0 -17.2,44.0 -15.1,50.0 -2.0,70.4 10.0,79.9 14.0,81.0 17.6,80.0Z" fill="#f09000"/><path d="M-24.0,110.2 -40.0,109.8 -52.0,106.2 -74.0,95.5 -100.4,76.0 -110.3,62.0 -119.0,42.0 -122.4,24.0 -121.3,6.0 -119.0,-2.0 -114.9,-10.0 -91.9,-40.0 -84.0,-52.9 -68.0,-70.0 -54.0,-81.7 -48.0,-85.0 -14.0,-98.0 0.0,-100.2 16.0,-98.6 24.0,-96.2 54.0,-80.6 76.0,-62.5 90.0,-53.4 108.0,-35.8 130.0,-22.2 130.0,103.2 92.0,106.5 76.0,105.9 50.0,100.7 32.1,90.0 28.5,86.0 27.4,82.0 28.2,78.0 34.0,67.1 37.6,56.0 38.5,44.0 37.0,34.0 30.6,16.0 26.0,9.5 16.0,2.7 10.0,0.9 4.0,0.5 -4.0,3.4 -11.4,12.0 -20.0,36.0 -21.1,44.0 -19.4,50.0 -11.8,62.0 -7.1,74.0 5.4,88.0 7.0,92.0 6.8,96.0 4.0,100.9 -2.0,105.0 -11.4,108.0 -24.0,110.2Z" fill="#f0a000"/><path d="M-24.0,106.3 -40.0,107.1 -54.0,103.1 -72.8,94.0 -98.8,74.0 -110.0,56.6 -117.3,38.0 -120.0,20.0 -118.6,4.0 -112.7,-10.0 -90.1,-40.0 -84.0,-50.5 -68.0,-67.9 -54.0,-79.9 -48.0,-83.4 -14.0,-95.6 0.0,-96.7 18.0,-95.4 26.0,-92.5 54.0,-78.3 76.0,-60.5 90.0,-51.3 108.0,-34.0 130.0,-19.8 130.0,98.1 90.0,102.7 80.0,102.9 54.0,98.7 48.0,96.4 41.1,92.0 35.2,86.0 33.6,82.0 34.3,76.0 40.3,58.0 41.2,48.0 40.4,36.0 33.8,16.0 28.7,8.0 22.0,2.5 14.0,-1.1 4.0,-2.4 -4.3,0.0 -12.4,8.0 -16.8,16.0 -24.1,38.0 -24.0,48.2 -14.6,64.0 -12.0,76.3 -5.9,88.0 -4.5,94.0 -6.3,98.0 -8.7,100.0 -16.4,104.0 -24.0,106.3Z" fill="#f0b800"/><path d="M-32.0,104.2 -40.0,104.5 -48.0,103.2 -68.0,94.8 -93.1,76.0 -98.0,70.9 -109.2,52.0 -115.1,36.0 -117.5,18.0 -115.9,2.0 -110.6,-10.0 -98.0,-28.3 -89.9,-38.0 -82.0,-50.7 -68.0,-65.9 -52.0,-79.5 -24.0,-90.5 -14.0,-93.2 -6.0,-93.6 2.0,-91.9 12.0,-93.0 20.0,-92.2 54.0,-75.9 74.0,-60.0 88.0,-50.8 108.0,-32.3 130.0,-17.2 130.0,93.0 88.0,99.3 80.0,99.6 56.0,96.2 50.0,94.2 44.0,90.5 39.7,86.0 37.6,80.0 43.7,56.0 44.1,42.0 43.1,34.0 36.5,14.0 31.1,6.0 23.6,0.0 14.0,-4.2 4.0,-5.4 -6.0,-2.6 -13.4,4.0 -19.7,14.0 -22.7,26.0 -27.5,36.0 -28.3,42.0 -27.3,48.0 -16.9,66.0 -12.9,90.0 -14.0,94.0 -18.0,98.8 -24.0,102.2 -32.0,104.2Z" fill="#f0c800"/><path d="M-40.0,102.0 -50.0,100.4 -66.0,93.9 -74.0,88.5 -93.6,72.0 -99.5,64.0 -109.0,46.0 -112.9,34.0 -114.8,22.0 -114.1,4.0 -109.6,-8.0 -82.0,-48.3 -68.0,-63.9 -52.0,-77.7 -26.0,-87.8 -14.0,-90.8 -8.0,-91.1 2.0,-89.0 14.0,-90.0 22.0,-88.8 54.0,-73.5 74.0,-57.9 86.3,-50.0 108.0,-30.4 130.0,-14.6 130.0,88.1 82.0,96.4 58.0,93.9 48.0,90.0 43.5,86.0 40.9,80.0 41.6,74.0 47.3,54.0 47.6,40.0 46.5,32.0 39.6,12.0 33.7,4.0 24.0,-3.3 12.0,-7.7 2.0,-8.3 -6.0,-6.3 -13.0,-2.0 -21.6,8.0 -24.9,14.0 -26.8,24.0 -31.4,34.0 -31.8,42.0 -28.6,52.0 -18.9,68.0 -17.4,76.0 -17.4,88.0 -20.1,94.0 -24.5,98.0 -32.0,101.0 -40.0,102.0Z" fill="#f0d800"/><path d="M-34.0,98.6 -46.0,99.3 -64.0,93.1 -71.7,88.0 -90.0,72.0 -95.0,66.0 -105.2,48.0 -109.7,36.0 -112.0,24.0 -112.1,6.0 -110.3,-2.0 -107.4,-8.0 -96.3,-26.0 -88.0,-35.8 -82.0,-45.9 -68.0,-61.8 -51.6,-76.0 -28.0,-85.2 -14.0,-88.4 -8.0,-88.6 4.0,-86.2 16.0,-86.9 22.0,-86.0 46.0,-75.6 56.0,-69.6 74.0,-55.8 86.0,-48.1 108.0,-28.3 130.0,-11.7 130.0,83.3 120.0,85.8 100.0,88.5 88.0,92.5 82.0,93.4 60.0,91.6 49.9,88.0 45.6,84.0 43.7,78.0 51.2,52.0 51.3,34.0 44.1,12.0 36.5,2.0 26.0,-5.9 14.0,-10.5 2.0,-11.4 -8.0,-9.3 -17.4,-4.0 -26.4,4.0 -32.2,14.0 -36.0,31.0 -35.4,40.0 -32.4,50.0 -21.5,68.0 -19.7,78.0 -20.6,86.0 -23.5,92.0 -28.0,96.0 -34.0,98.6Z" fill="#f0f000"/><path d="M-36.0,96.3 -46.0,97.1 -62.6,92.0 -71.1,86.0 -88.5,70.0 -93.2,64.0 -103.4,46.0 -107.6,34.0 -109.6,22.0 -109.8,8.0 -108.0,-2.0 -95.8,-24.0 -87.3,-34.0 -82.0,-43.4 -68.0,-59.5 -50.0,-75.1 -28.0,-83.2 -14.0,-85.8 -6.0,-85.9 4.0,-83.2 22.0,-83.0 47.9,-72.0 64.0,-61.6 74.0,-53.5 85.6,-46.0 108.0,-26.1 130.0,-8.7 130.0,78.4 118.0,82.0 98.0,85.0 88.0,89.2 80.0,90.5 64.0,89.5 56.0,87.9 50.0,84.5 46.9,80.0 47.2,74.0 55.0,52.0 55.2,32.0 48.0,10.3 39.8,0.0 26.0,-9.8 16.0,-13.6 8.0,-15.0 -10.0,-12.8 -26.0,-5.0 -32.1,0.0 -38.0,11.7 -40.3,32.0 -36.0,48.1 -23.2,70.0 -22.1,78.0 -23.2,84.0 -26.2,90.0 -30.8,94.0 -36.0,96.3Z" fill="#28c800"/><path d="M-38.0,94.2 -48.0,94.6 -62.0,90.3 -70.0,84.4 -87.2,68.0 -101.5,44.0 -105.5,32.0 -107.2,20.0 -107.3,8.0 -105.6,-2.0 -94.0,-23.6 -86.0,-32.9 -80.0,-43.2 -67.0,-58.0 -48.1,-74.0 -28.0,-81.1 -14.0,-83.0 -6.0,-82.8 6.0,-79.1 18.0,-80.0 24.0,-78.6 46.0,-70.0 64.0,-59.0 72.0,-52.4 84.0,-44.7 130.0,-5.3 130.0,73.4 118.0,77.9 96.0,82.0 86.0,86.5 74.0,87.6 58.0,85.4 52.2,82.0 50.0,78.2 51.1,72.0 58.3,52.0 58.5,32.0 52.2,10.0 48.8,4.0 43.6,-2.0 36.0,-8.4 28.0,-13.2 18.0,-17.2 10.0,-19.0 -10.0,-17.6 -29.3,-10.0 -36.0,-3.9 -41.7,10.0 -43.6,30.0 -38.7,48.0 -26.0,69.6 -24.7,78.0 -26.2,84.0 -28.6,88.0 -33.1,92.0 -38.0,94.2Z" fill="#30d8f0"/><path d="M-40.0,92.0 -50.0,92.0 -62.0,88.0 -69.6,82.0 -86.0,66.0 -94.8,52.0 -99.6,42.0 -103.3,30.0 -104.7,18.0 -103.5,0.0 -92.5,-22.0 -84.2,-32.0 -78.3,-42.0 -66.0,-56.0 -47.1,-72.0 -28.0,-78.5 -14.0,-79.5 -6.0,-78.2 4.0,-72.8 20.0,-74.8 42.3,-68.0 60.8,-58.0 82.0,-43.2 121.3,-10.0 130.0,-1.4 130.0,68.0 118.0,73.8 96.0,78.8 84.0,83.7 70.0,84.6 60.0,82.5 54.8,78.0 54.8,72.0 61.2,52.0 61.1,30.0 54.5,6.0 46.0,-6.1 38.0,-12.8 30.0,-17.6 18.0,-22.5 8.0,-24.8 0.0,-25.0 -10.0,-23.4 -30.0,-16.8 -36.0,-12.5 -39.2,-8.0 -45.8,14.0 -46.1,30.0 -44.0,40.0 -40.3,50.0 -29.6,68.0 -27.4,74.0 -27.9,80.0 -30.8,86.0 -35.3,90.0 -40.0,92.0Z" fill="#30c8f0"/><path d="M-38.0,88.2 -42.0,89.6 -48.0,89.9 -60.0,86.6 -66.5,82.0 -83.1,66.0 -88.8,58.0 -97.0,42.0 -100.6,30.0 -102.0,18.0 -102.0,8.0 -100.6,0.0 -90.6,-20.0 -82.4,-30.0 -76.4,-40.0 -64.0,-54.3 -45.2,-70.0 -30.0,-74.9 -20.0,-75.8 -14.0,-74.8 -10.0,-72.9 -2.0,-62.4 2.0,-60.1 6.0,-60.3 16.0,-66.1 22.0,-67.7 34.0,-66.0 44.0,-62.8 58.0,-55.6 82.0,-39.6 117.7,-10.0 130.0,3.2 130.0,62.1 122.0,67.6 114.0,71.0 96.0,75.6 82.0,80.8 70.0,81.7 62.0,78.9 59.0,74.0 64.0,52.0 63.6,28.0 57.2,2.0 54.0,-4.2 48.0,-11.9 42.0,-17.3 34.0,-22.4 14.0,-31.6 4.0,-34.3 -4.0,-33.4 -34.0,-23.0 -40.0,-18.7 -43.0,-14.0 -48.8,16.0 -48.2,32.0 -46.0,41.6 -42.0,51.7 -32.5,68.0 -30.5,74.0 -31.8,82.0 -38.0,88.2Z" fill="#28b8f0"/><path d="M-42.0,86.5 -50.0,87.0 -60.0,83.9 -68.0,77.6 -84.0,61.6 -91.7,48.0 -97.0,34.0 -99.0,22.0 -98.9,8.0 -96.5,-2.0 -88.0,-17.8 -59.5,-54.0 -44.0,-66.9 -34.0,-70.3 -24.0,-71.3 -18.0,-69.6 -12.7,-64.0 -9.2,-54.0 -10.0,-46.0 -15.0,-40.0 -21.9,-36.0 -46.0,-29.3 -50.0,-26.0 -51.7,-22.0 -49.7,-2.0 -51.6,14.0 -49.9,36.0 -45.3,50.0 -35.6,68.0 -33.7,74.0 -33.8,78.0 -35.6,82.0 -42.0,86.5ZM78.0,78.1 72.0,78.5 68.0,77.4 65.8,76.0 63.8,72.0 67.0,52.0 66.5,28.0 60.1,-4.0 55.0,-14.0 46.0,-25.5 42.0,-28.9 26.2,-38.0 20.7,-44.0 19.7,-48.0 20.5,-52.0 23.7,-56.0 27.7,-58.0 36.0,-58.3 44.5,-56.0 57.0,-50.0 80.0,-36.7 96.0,-25.2 116.1,-8.0 123.7,0.0 130.0,9.2 130.0,54.8 122.4,62.0 114.0,66.8 78.0,78.1Z" fill="#28a8f0"/><path d="M-36.0,-41.9 -54.0,-43.7 -55.5,-46.0 -55.2,-48.0 -50.2,-56.0 -42.0,-62.5 -32.0,-65.3 -25.0,-64.0 -22.6,-62.0 -20.7,-58.0 -20.5,-54.0 -21.9,-50.0 -28.0,-44.3 -36.0,-41.9ZM84.0,72.3 74.0,73.8 70.5,72.0 69.5,70.0 70.2,52.0 69.4,24.0 65.8,-8.0 60.4,-28.0 61.1,-32.0 64.0,-34.7 72.0,-34.1 82.0,-29.6 94.0,-22.3 110.0,-9.7 116.2,-4.0 122.7,4.0 130.0,18.9 130.0,43.8 123.8,54.0 117.1,60.0 110.0,64.1 84.0,72.3ZM-48.0,84.2 -54.0,83.4 -60.0,80.8 -79.2,64.0 -87.2,52.0 -94.2,34.0 -96.2,18.0 -94.0,1.9 -86.0,-12.1 -80.0,-17.6 -74.0,-20.3 -70.0,-19.2 -62.0,-12.7 -58.0,-8.0 -55.3,-2.0 -54.7,16.0 -51.9,38.0 -47.9,50.0 -38.8,68.0 -37.2,74.0 -37.7,78.0 -40.0,81.3 -44.0,83.5 -48.0,84.2Z" fill="#2898f0"/><path d="M90.0,66.1 80.0,66.9 76.0,64.0 72.6,40.0 73.2,26.0 72.3,10.0 73.3,-2.0 77.6,-18.0 82.0,-20.4 88.0,-19.4 94.0,-16.7 106.0,-8.7 113.8,-2.0 122.7,12.0 126.5,26.0 126.5,34.0 125.2,40.0 122.6,46.0 118.2,52.0 112.0,57.5 106.0,61.0 90.0,66.1ZM-48.0,80.4 -54.0,80.1 -58.0,78.5 -74.0,66.0 -82.0,56.8 -88.1,44.0 -92.5,28.0 -92.2,12.0 -88.0,0.2 -84.0,-4.4 -80.0,-6.5 -74.0,-6.6 -68.0,-4.9 -63.9,-2.0 -60.4,4.0 -53.4,42.0 -41.4,72.0 -43.2,78.0 -48.0,80.4Z" fill="#2088f0"/><path d="M90.0,60.1 84.0,59.0 81.2,56.0 78.0,46.0 77.0,36.0 78.2,12.0 80.0,1.8 82.5,-4.0 85.5,-8.0 88.0,-9.5 92.0,-10.0 104.0,-5.1 112.2,2.0 118.3,14.0 120.7,28.0 118.2,40.0 112.0,49.5 103.4,56.0 90.0,60.1ZM-52.0,76.0 -60.0,73.2 -74.0,62.8 -79.8,56.0 -83.7,48.0 -88.0,34.0 -89.2,22.0 -86.0,9.0 -84.0,6.0 -80.0,2.9 -76.0,2.1 -70.0,3.9 -66.0,7.9 -63.9,12.0 -60.0,24.1 -55.6,44.0 -46.6,68.0 -47.3,74.0 -52.0,76.0Z" fill="#1878f0"/><path d="M96.0,50.0 92.0,50.3 87.5,48.0 84.4,42.0 83.5,34.0 85.5,18.0 88.0,8.0 92.0,1.8 98.0,0.1 104.0,2.1 108.0,6.2 111.9,16.0 113.0,26.0 111.6,34.0 108.0,41.0 102.0,47.1 96.0,50.0ZM-56.0,68.4 -62.0,66.9 -72.0,60.9 -76.8,56.0 -79.9,50.0 -83.7,36.0 -84.8,26.0 -82.8,18.0 -78.0,13.0 -74.0,12.8 -70.0,15.2 -64.0,26.0 -53.7,62.0 -53.5,66.0 -56.0,68.4Z" fill="#1870f0"/><path d="M-62.0,59.0 -66.0,59.5 -70.0,58.0 -75.5,52.0 -77.7,44.0 -78.4,36.0 -78.0,31.2 -76.0,27.3 -72.0,27.4 -66.0,36.3 -60.7,52.0 -60.6,56.0 -62.0,59.0Z" fill="#1860f0"/></g><circle r="38.2" fill="none" stroke="#000" stroke-width="1.05" stroke-opacity="0.75"/><circle r="64.0" fill="none" stroke="#000" stroke-width="1.05" stroke-opacity="0.75"/><circle r="89.5" fill="none" stroke="#000" stroke-width="1.05" stroke-opacity="0.75"/><circle r="115.0" fill="none" stroke="#000" stroke-width="1.05" stroke-opacity="0.75"/><path d="M25.6,-1.5v3M-25.6,-1.5v3M-2,25.6h4M-2,-25.6h4M51.2,-1.5v3M-51.2,-1.5v3M-2,51.2h4M-2,-51.2h4M76.8,-1.5v3M-76.8,-1.5v3M-2,76.8h4M-2,-76.8h4M102.4,-1.5v3M-102.4,-1.5v3M-2,102.4h4M-2,-102.4h4" stroke="#111" stroke-width="1" fill="none"/><path d="M-82.3,-11.6C-81.6,-19.9 -80.6,-32.5 -77.3,-41.7C-73.9,-50.8 -68.5,-59.2 -62.2,-66.7C-55.9,-74.2 -48.0,-81.8 -39.6,-86.8C-31.3,-91.8 -21.3,-95.4 -12.1,-96.8C-2.9,-98.3 6.7,-97.7 15.5,-95.6C24.3,-93.5 33.5,-89.5 40.6,-84.3C47.7,-79.1 53.6,-71.7 58.1,-64.2C62.7,-56.7 66.3,-47.9 68.2,-39.1C70.1,-30.4 70.3,-20.3 69.4,-11.6C68.6,-2.8 65.5,5.2 63.2,13.5C60.9,21.9 59.8,30.6 55.6,38.6C51.5,46.5 44.8,55.5 38.1,61.2C31.4,66.8 23.5,70.4 15.5,72.4C7.6,74.5 -1.6,74.7 -9.6,73.7C-17.5,72.6 -24.6,69.9 -32.1,66.2C-39.6,62.4 -48.0,57.0 -54.7,51.1C-61.4,45.3 -67.9,38.2 -72.2,31.1C-76.6,24.0 -79.3,15.6 -81.0,8.5C-82.7,1.4 -82.9,-3.2 -82.3,-11.6Z" fill="none" stroke="#f0f0f0" stroke-width="0.7" stroke-opacity="0.75"/><rect x="-3.6" y="-18.9" width="4.6" height="4.6" fill="#e03030"/><path d="M-2.8,-18.1l3,3m0,-3l-3,3" stroke="#fff" stroke-width="0.8"/><path d="M-1.5,-1.1h4l-2,2.6z" fill="#8090b0" stroke="#444" stroke-width="0.4"/><circle cx="7.2" cy="17.8" r="2.2" fill="#ffb000" stroke="#d02000" stroke-width="1.3"/><g transform="translate(1.5,0)"><circle r="144.8" fill="none" stroke="#000" stroke-width="1.9"/><path d="M143.8,-0.0L141.2,-0.0M143.3,-12.5L140.7,-12.3M141.6,-25.0L139.1,-24.5M138.9,-37.2L136.4,-36.5M135.1,-49.2L132.7,-48.3M130.3,-60.8L128.0,-59.7M124.5,-71.9L122.3,-70.6M117.8,-82.5L115.7,-81.0M110.2,-92.4L108.2,-90.8M101.7,-101.7L99.8,-99.8M92.4,-110.2L90.8,-108.2M82.5,-117.8L81.0,-115.7M71.9,-124.5L70.6,-122.3M60.8,-130.3L59.7,-128.0M49.2,-135.1L48.3,-132.7M37.2,-138.9L36.5,-136.4M25.0,-141.6L24.5,-139.1M12.5,-143.3L12.3,-140.7M0.0,-143.8L0.0,-141.2M-12.5,-143.3L-12.3,-140.7M-25.0,-141.6L-24.5,-139.1M-37.2,-138.9L-36.5,-136.4M-49.2,-135.1L-48.3,-132.7M-60.8,-130.3L-59.7,-128.0M-71.9,-124.5L-70.6,-122.3M-82.5,-117.8L-81.0,-115.7M-92.4,-110.2L-90.8,-108.2M-101.7,-101.7L-99.8,-99.8M-110.2,-92.4L-108.2,-90.8M-117.8,-82.5L-115.7,-81.0M-124.5,-71.9L-122.3,-70.6M-130.3,-60.8L-128.0,-59.7M-135.1,-49.2L-132.7,-48.3M-138.9,-37.2L-136.4,-36.5M-141.6,-25.0L-139.1,-24.5M-143.3,-12.5L-140.7,-12.3M-143.8,-0.0L-141.2,-0.0M-143.3,12.5L-140.7,12.3M-141.6,25.0L-139.1,24.5M-138.9,37.2L-136.4,36.5M-135.1,49.2L-132.7,48.3M-130.3,60.8L-128.0,59.7M-124.5,71.9L-122.3,70.6M-117.8,82.5L-115.7,81.0M-110.2,92.4L-108.2,90.8M-101.7,101.7L-99.8,99.8M-92.4,110.2L-90.8,108.2M-82.5,117.8L-81.0,115.7M-71.9,124.5L-70.6,122.3M-60.8,130.3L-59.7,128.0M-49.2,135.1L-48.3,132.7M-37.2,138.9L-36.5,136.4M-25.0,141.6L-24.5,139.1M-12.5,143.3L-12.3,140.7M-0.0,143.8L-0.0,141.2M12.5,143.3L12.3,140.7M25.0,141.6L24.5,139.1M37.2,138.9L36.5,136.4M49.2,135.1L48.3,132.7M60.8,130.3L59.7,128.0M71.9,124.5L70.6,122.3M82.5,117.8L81.0,115.7M92.4,110.2L90.8,108.2M101.7,101.7L99.8,99.8M110.2,92.4L108.2,90.8M117.8,82.5L115.7,81.0M124.5,71.9L122.3,70.6M130.3,60.8L128.0,59.7M135.1,49.2L132.7,48.3M138.9,37.2L136.4,36.5M141.6,25.0L139.1,24.5M143.3,12.5L140.7,12.3" stroke="#d0d0d0" stroke-width="1.1" fill="none"/><g font-size="6.5" font-weight="bold" fill="#e4e4e4" text-anchor="middle" font-family="Liberation Sans, sans-serif"><text x="137.2" y="2.3">0</text><text x="132.5" y="-33.2">15</text><text x="118.8" y="-66.3">30</text><text x="97.0" y="-94.7">45</text><text x="68.6" y="-116.5">60</text><text x="35.5" y="-130.2">75</text><text x="0.0" y="-134.9">90</text><text x="-35.5" y="-130.2">105</text><text x="-68.6" y="-116.5">120</text><text x="-97.0" y="-94.7">135</text><text x="-118.8" y="-66.3">150</text><text x="-132.5" y="-33.2">165</text><text x="-137.2" y="2.3">180</text><text x="-132.5" y="37.8">195</text><text x="-118.8" y="70.9">210</text><text x="-97.0" y="99.3">225</text><text x="-68.6" y="121.1">240</text><text x="-35.5" y="134.8">255</text><text x="-0.0" y="139.5">270</text><text x="35.5" y="134.8">285</text><text x="68.6" y="121.1">300</text><text x="97.0" y="99.3">315</text><text x="118.8" y="70.9">330</text><text x="132.5" y="37.8">345</text></g></g></g><g transform="translate(687.9,145.4)"><clipPath id="c6"><path d="M-64.7,-90.5 -52.2,-94.3 48.1,-93.1 61.9,-90.5 65.7,-78.0 60.7,-74.2 61.9,-61.7 93.3,-52.9 97.0,-41.7 97.0,26.1 93.3,38.6 89.5,61.2 83.2,76.2 50.6,77.5 48.1,83.7 -24.6,85.0 -52.2,82.5 -54.7,74.9 -77.3,74.9 -87.3,68.7 -87.3,51.1 -91.0,26.1 -98.6,-4.0 -96.1,-51.7 -77.3,-54.2 -76.0,-60.5 -63.5,-61.7 -62.2,-78.0 -64.7,-79.3Z"/></clipPath><g clip-path="url(#c6)"><rect x="-130" y="-130" width="260" height="260" fill="#6b3a7c"/><path d="M130.0,130.0 -130.0,130.0 -130.0,44.4 -105.4,6.0 -100.7,-10.0 -95.6,-20.0 -94.5,-36.0 -92.6,-46.0 -89.3,-52.0 -84.6,-68.0 -81.5,-72.0 -76.0,-76.8 -66.0,-81.6 -50.0,-92.6 -42.0,-96.7 -12.0,-104.7 2.0,-105.4 12.0,-104.8 22.0,-102.6 38.0,-96.5 62.0,-82.9 78.0,-70.6 86.4,-60.0 90.7,-52.0 96.0,-31.4 100.0,-24.5 105.2,-20.0 130.0,-5.6 130.0,130.0ZM13.2,46.0 18.0,43.6 21.0,40.0 21.7,34.0 20.0,28.1 16.8,24.0 12.0,21.4 8.0,20.8 2.5,22.0 -0.7,24.0 -4.0,28.0 -5.7,34.0 -4.9,40.0 -1.5,44.0 6.0,47.2 13.2,46.0Z" fill="#83386e"/><path d="M130.0,130.0 -130.0,130.0 -130.0,48.6 -104.0,6.8 -100.7,-6.0 -94.1,-20.0 -91.3,-44.0 -87.3,-52.0 -83.9,-66.0 -80.0,-71.8 -50.0,-90.8 -40.0,-95.6 -16.0,-102.1 2.0,-103.9 18.0,-101.8 36.0,-95.6 57.3,-84.0 76.4,-70.0 83.2,-62.0 87.8,-54.0 95.2,-30.0 100.0,-22.3 130.0,-3.5 130.0,130.0ZM12.0,50.0 20.9,46.0 23.0,44.0 25.2,38.0 25.1,32.0 23.2,26.0 20.0,21.6 13.7,18.0 6.0,16.9 -1.9,20.0 -6.0,23.9 -8.8,30.0 -9.0,38.0 -8.0,42.0 -4.9,46.0 6.0,50.9 8.0,51.3 12.0,50.0Z" fill="#8c3670"/><path d="M130.0,130.0 -130.0,130.0 -130.0,52.9 -114.8,26.0 -102.7,8.0 -99.4,-6.0 -92.8,-20.0 -90.0,-42.0 -85.9,-50.0 -83.4,-64.0 -80.0,-70.1 -76.0,-73.7 -66.0,-78.2 -50.0,-89.2 -40.0,-94.1 -16.0,-100.5 2.0,-102.3 18.0,-100.3 36.0,-94.1 56.0,-83.2 76.0,-68.4 81.5,-62.0 86.2,-54.0 94.0,-30.0 98.6,-22.0 102.0,-18.9 117.6,-10.0 130.0,-1.3 130.0,130.0ZM8.1,54.0 24.0,46.8 26.7,42.0 28.0,34.0 26.1,26.0 22.2,20.0 15.6,16.0 8.0,14.0 0.1,16.0 -6.2,20.0 -10.3,26.0 -12.0,34.0 -10.5,42.0 -8.0,46.7 8.1,54.0Z" fill="#a8205a"/><path d="M130.0,130.0 -130.0,130.0 -130.0,57.5 -112.9,26.0 -101.0,8.0 -98.2,-6.0 -91.5,-20.0 -89.3,-38.0 -83.8,-50.0 -82.1,-64.0 -78.6,-70.0 -74.0,-73.5 -64.0,-77.8 -48.0,-88.8 -40.0,-92.6 -14.0,-99.3 2.0,-100.8 18.0,-98.7 36.0,-92.6 55.4,-82.0 74.4,-68.0 79.7,-62.0 84.5,-54.0 93.8,-28.0 98.0,-20.7 118.1,-8.0 130.0,0.9 130.0,130.0ZM8.9,56.0 25.9,48.0 28.8,42.0 30.2,34.0 28.5,26.0 24.0,18.7 16.2,14.0 8.0,11.9 0.0,13.7 -8.0,18.7 -12.7,26.0 -14.2,34.0 -12.5,42.0 -9.7,48.0 6.0,55.7 8.9,56.0Z" fill="#a81038"/><path d="M130.0,130.0 -130.0,130.0 -130.0,62.4 -111.1,26.0 -100.0,9.8 -97.0,-6.0 -90.3,-20.0 -87.1,-40.0 -82.0,-50.0 -80.9,-64.0 -77.1,-70.0 -72.0,-73.3 -64.0,-76.0 -56.0,-82.5 -40.0,-91.1 -14.0,-97.7 2.0,-99.2 18.0,-97.1 36.0,-91.2 53.0,-82.0 74.0,-66.4 82.9,-54.0 92.9,-28.0 98.0,-18.8 115.5,-8.0 130.0,3.3 130.0,130.0ZM8.4,58.0 18.0,52.9 26.4,50.0 30.0,43.9 32.2,34.0 30.0,24.6 26.0,17.9 18.0,12.8 8.0,9.9 -2.0,12.6 -10.0,17.9 -14.1,24.0 -16.2,32.0 -14.3,42.0 -10.4,50.0 8.4,58.0Z" fill="#c01010"/><path d="M130.0,130.0 -130.0,130.0 -130.0,67.7 -109.3,26.0 -98.4,10.0 -96.6,-4.0 -89.8,-18.0 -86.2,-38.0 -80.5,-50.0 -80.2,-62.0 -76.0,-69.5 -72.0,-72.1 -64.0,-74.3 -56.0,-81.2 -38.7,-90.0 -14.0,-96.1 2.0,-97.6 18.0,-95.6 36.0,-89.7 52.0,-81.2 72.4,-66.0 81.4,-54.0 97.0,-18.0 115.9,-6.0 130.0,5.8 130.0,130.0ZM12.9,58.0 19.0,54.0 26.0,52.3 28.4,50.0 32.9,40.0 33.8,32.0 30.8,22.0 26.0,15.5 15.4,10.0 6.0,8.3 -4.6,12.0 -12.0,17.6 -16.9,26.0 -17.9,34.0 -14.4,46.0 -10.5,52.0 -3.0,54.0 6.0,59.1 10.0,59.2 12.9,58.0Z" fill="#dc1800"/><path d="M130.0,130.0 -130.0,130.0 -130.0,73.4 -107.7,26.0 -96.8,10.0 -95.5,-4.0 -88.7,-18.0 -85.4,-36.0 -79.2,-50.0 -79.1,-62.0 -76.0,-68.1 -72.0,-71.0 -64.0,-72.7 -56.0,-79.9 -38.0,-88.7 -14.0,-94.5 2.0,-96.0 18.0,-94.0 36.0,-88.3 51.5,-80.0 72.0,-64.5 79.8,-54.0 96.0,-17.4 113.6,-6.0 130.0,8.5 130.0,130.0ZM12.5,60.0 20.0,55.0 26.0,53.7 28.4,52.0 33.9,42.0 35.4,32.0 32.0,20.8 26.6,14.0 14.0,7.9 6.0,6.7 -4.2,10.0 -12.8,16.0 -18.7,26.0 -19.5,34.0 -15.9,46.0 -12.0,52.5 -4.0,55.0 6.0,60.6 12.5,60.0Z" fill="#e83800"/><path d="M130.0,130.0 -130.0,130.0 -130.0,79.6 -106.0,26.0 -95.4,10.0 -94.4,-4.0 -87.6,-18.0 -84.0,-36.0 -78.1,-50.0 -78.0,-62.0 -74.6,-68.0 -70.0,-70.7 -62.1,-72.0 -56.0,-78.7 -36.0,-87.9 -14.0,-92.9 2.0,-94.3 18.0,-92.4 36.0,-86.9 50.0,-79.6 72.0,-62.6 79.3,-52.0 95.7,-16.0 111.4,-6.0 130.0,11.4 130.0,130.0ZM11.9,62.0 20.0,56.8 26.0,55.2 30.1,52.0 35.4,42.0 37.0,32.0 34.0,21.3 28.0,13.1 14.0,6.4 6.0,5.2 -4.0,8.2 -13.0,14.0 -18.9,22.0 -21.3,32.0 -17.3,46.0 -12.4,54.0 -4.0,56.7 4.0,61.6 11.9,62.0Z" fill="#e85000"/><path d="M130.0,130.0 -130.0,130.0 -130.0,86.4 -104.4,26.0 -94.1,10.0 -93.4,-4.0 -86.5,-18.0 -82.7,-36.0 -77.6,-48.0 -76.9,-62.0 -74.0,-67.2 -70.0,-69.7 -62.0,-70.4 -55.2,-78.0 -36.0,-86.3 -14.0,-91.3 2.0,-92.6 20.0,-90.4 38.0,-84.6 50.0,-78.2 70.6,-62.0 78.0,-51.7 86.0,-35.7 94.1,-16.0 111.7,-4.0 130.0,14.5 130.0,130.0ZM12.3,64.0 16.0,62.9 22.0,58.3 28.0,55.6 31.6,52.0 37.6,40.0 38.4,30.0 34.1,18.0 29.1,12.0 14.0,4.9 6.0,3.6 -7.0,8.0 -15.2,14.0 -21.6,24.0 -23.0,32.0 -18.7,46.0 -14.0,54.3 2.0,62.9 12.3,64.0Z" fill="#f07000"/><path d="M130.0,130.0 -130.0,130.0 -130.0,94.1 -102.9,26.0 -99.8,20.0 -93.7,12.0 -92.9,-2.0 -85.4,-18.0 -81.4,-36.0 -76.6,-48.0 -76.2,-60.0 -73.8,-66.0 -70.0,-68.7 -62.0,-69.3 -54.0,-77.6 -34.0,-85.5 -12.0,-90.0 4.0,-90.8 22.0,-88.4 40.0,-82.4 48.2,-78.0 70.0,-60.7 75.2,-54.0 83.8,-38.0 93.1,-16.0 111.8,-2.0 130.0,17.9 130.0,130.0ZM17.0,66.0 30.0,55.6 34.4,50.0 39.7,38.0 40.0,30.0 35.8,18.0 30.0,10.5 12.0,2.7 6.0,2.0 -8.0,6.8 -16.0,12.5 -22.4,22.0 -24.6,28.0 -24.7,32.0 -18.2,50.0 -12.0,58.0 2.0,65.3 12.0,66.7 17.0,66.0Z" fill="#f08000"/><path d="M130.0,130.0 -130.0,130.0 -130.0,102.7 -108.6,48.0 -100.5,24.0 -92.6,12.0 -91.9,-2.0 -84.3,-18.0 -80.7,-34.0 -75.5,-48.0 -75.1,-60.0 -72.5,-66.0 -68.0,-68.3 -62.0,-68.3 -54.0,-76.6 -46.0,-78.7 -32.0,-84.6 -12.0,-88.4 6.0,-88.9 28.0,-85.5 42.0,-80.1 48.0,-76.7 56.0,-69.1 68.7,-60.0 74.0,-53.3 82.7,-38.0 89.4,-24.0 92.0,-16.0 109.7,-2.0 130.0,21.8 130.0,130.0ZM20.2,70.0 37.0,48.0 41.3,38.0 41.7,30.0 37.5,18.0 32.0,9.7 12.0,1.1 6.0,0.4 -9.8,6.0 -17.9,12.0 -24.2,22.0 -26.3,28.0 -26.5,32.0 -18.6,52.0 -12.0,60.4 0.0,67.6 16.0,70.8 20.2,70.0Z" fill="#f09000"/><path d="M130.0,130.0 -130.0,130.0 -130.0,112.3 -105.6,46.0 -99.1,24.0 -91.4,12.0 -90.9,-2.0 -83.2,-18.0 -78.9,-36.0 -74.5,-48.0 -74.1,-60.0 -72.0,-65.1 -68.0,-67.5 -60.6,-68.0 -54.0,-75.6 -46.0,-77.2 -30.0,-83.7 -10.0,-87.0 8.0,-87.1 28.0,-84.0 42.0,-78.8 48.0,-75.3 54.0,-68.9 68.0,-58.7 80.5,-40.0 88.5,-24.0 92.0,-14.5 103.4,-6.0 109.5,0.0 130.0,26.1 130.0,130.0ZM23.1,78.0 27.2,64.0 37.3,50.0 41.5,42.0 43.5,36.0 43.4,30.0 38.1,16.0 32.4,8.0 10.0,-1.3 6.0,-1.3 -10.0,4.3 -18.0,9.5 -25.0,20.0 -28.1,28.0 -28.3,32.0 -18.9,54.0 -10.0,66.2 -2.0,71.1 10.0,73.9 20.0,78.5 23.1,78.0Z" fill="#f0a000"/><path d="M130.0,130.0 -130.0,130.0 -130.0,122.8 -103.2,46.0 -97.7,24.0 -90.3,12.0 -89.9,-2.0 -82.0,-18.0 -73.5,-48.0 -73.0,-60.0 -71.6,-64.0 -68.0,-66.6 -60.0,-67.3 -54.0,-74.6 -45.1,-76.0 -28.0,-82.9 -10.0,-85.3 8.0,-85.3 28.0,-82.6 42.0,-77.4 48.0,-73.9 54.0,-67.0 66.6,-58.0 79.3,-40.0 88.0,-23.2 91.2,-14.0 107.5,0.0 130.0,31.1 130.0,130.0ZM26.2,86.0 29.2,80.0 27.2,72.0 28.3,66.0 43.2,42.0 45.2,36.0 45.1,30.0 39.8,16.0 34.0,7.6 8.0,-3.3 -10.0,2.5 -19.2,8.0 -26.0,18.3 -29.2,26.0 -30.0,32.0 -20.0,54.8 -8.0,73.9 -4.0,76.0 8.0,78.2 20.0,86.9 24.0,87.2 26.2,86.0Z" fill="#f0b800"/><path d="M130.0,130.0 -128.3,130.0 -121.6,112.0 -100.3,44.0 -96.2,24.0 -89.1,12.0 -88.7,-2.0 -81.4,-16.0 -72.3,-48.0 -71.9,-60.0 -70.4,-64.0 -68.0,-65.8 -60.0,-66.3 -52.0,-74.6 -44.0,-74.9 -26.0,-82.0 -8.0,-83.6 8.0,-83.5 26.0,-81.5 42.0,-76.0 48.0,-72.4 54.0,-65.0 66.0,-56.6 78.1,-40.0 87.6,-22.0 90.1,-14.0 105.4,0.0 130.0,36.9 130.0,130.0ZM24.1,96.0 28.0,94.3 31.1,90.0 32.1,80.0 29.0,72.0 29.3,68.0 31.9,62.0 44.9,42.0 46.9,36.0 46.8,30.0 41.5,16.0 34.0,6.3 28.0,2.8 8.0,-4.9 -12.0,1.5 -20.0,6.0 -26.8,16.0 -31.0,26.0 -31.5,32.0 -14.7,68.0 -12.0,77.2 -10.0,79.8 -6.0,82.4 6.0,85.5 14.0,92.9 18.0,95.3 24.1,96.0Z" fill="#f0c800"/><path d="M130.0,130.0 -123.3,130.0 -116.7,110.0 -105.7,68.0 -97.8,44.0 -94.2,22.0 -87.8,12.0 -88.0,-0.5 -80.7,-14.0 -71.1,-48.0 -70.7,-60.0 -69.0,-64.0 -58.8,-66.0 -52.0,-73.7 -42.0,-74.0 -26.0,-80.5 4.0,-81.9 26.0,-79.9 42.0,-74.5 48.0,-70.7 54.0,-63.0 64.3,-56.0 77.9,-38.0 86.6,-22.0 88.8,-14.0 103.3,0.0 130.0,44.0 130.0,130.0ZM25.1,106.0 32.0,103.5 36.4,98.0 37.2,94.0 36.5,88.0 30.5,70.0 33.6,62.0 46.9,42.0 48.6,36.0 48.6,30.0 42.3,14.0 34.0,4.9 28.0,1.1 8.0,-6.3 -12.0,-0.5 -22.0,4.8 -27.0,12.0 -32.1,24.0 -33.1,32.0 -16.9,68.0 -15.2,80.0 -12.0,86.0 -8.0,89.7 12.0,103.1 18.0,105.5 25.1,106.0Z" fill="#f0d800"/><path d="M130.0,130.0 -118.0,130.0 -112.8,112.0 -103.6,70.0 -94.7,42.0 -92.7,22.0 -86.4,12.0 -86.8,0.0 -79.1,-14.0 -69.7,-48.0 -69.4,-60.0 -68.0,-63.3 -58.0,-65.2 -52.0,-72.6 -42.0,-72.4 -24.0,-79.3 2.0,-80.3 26.0,-78.1 44.0,-72.0 46.9,-70.0 52.0,-62.5 63.8,-54.0 76.0,-38.7 86.0,-20.9 88.7,-12.0 94.1,-8.0 102.4,2.0 130.0,53.0 130.0,130.0ZM28.3,116.0 34.0,114.6 40.0,111.4 44.0,107.5 46.8,102.0 46.5,94.0 38.0,82.4 32.0,70.0 36.0,61.3 49.0,42.0 50.5,36.0 50.4,30.0 44.3,14.0 41.4,10.0 32.0,1.6 12.0,-7.1 6.0,-7.6 -18.0,-0.6 -24.0,3.3 -28.0,9.1 -34.2,24.0 -34.8,32.0 -31.2,38.0 -28.1,48.0 -18.3,70.0 -18.3,84.0 -14.0,93.6 -4.0,104.0 7.8,112.0 18.0,115.6 28.3,116.0Z" fill="#f0f000"/><path d="M130.0,130.0 -112.5,130.0 -108.5,114.0 -100.8,70.0 -91.5,40.0 -90.6,22.0 -85.6,14.0 -84.3,8.0 -84.9,0.0 -78.0,-12.0 -72.6,-30.0 -68.1,-48.0 -67.8,-60.0 -66.9,-62.0 -58.0,-63.8 -52.0,-70.9 -40.0,-71.1 -22.0,-77.4 0.0,-78.3 26.0,-75.8 40.0,-71.7 46.0,-68.5 50.0,-62.0 62.0,-52.5 74.0,-38.3 84.5,-20.0 86.9,-12.0 94.0,-5.6 100.0,2.6 116.2,34.0 130.0,65.5 130.0,130.0ZM38.4,124.0 47.0,120.0 54.0,114.1 58.0,108.0 60.0,100.0 58.9,92.0 55.9,86.0 52.0,82.7 44.0,82.3 40.0,80.2 34.0,70.2 36.0,65.0 48.3,48.0 52.2,40.0 52.5,30.0 48.8,18.0 43.8,10.0 32.0,-0.6 12.0,-8.8 6.0,-9.4 -20.0,-2.8 -24.6,0.0 -28.1,4.0 -35.8,22.0 -37.0,28.0 -35.9,34.0 -32.4,40.0 -29.4,50.0 -20.8,70.0 -22.4,86.0 -19.9,96.0 -16.0,103.1 -10.0,110.4 -2.0,117.1 6.0,121.6 14.0,124.5 22.0,125.8 30.0,125.7 38.4,124.0Z" fill="#28c800"/><path d="M130.0,130.0 50.2,130.0 60.0,124.0 66.1,118.0 70.7,110.0 72.2,102.0 71.5,96.0 69.3,90.0 61.7,80.0 56.0,76.2 52.0,75.2 42.0,76.9 37.3,72.0 36.9,70.0 38.0,66.6 50.6,50.0 55.3,40.0 55.6,34.0 52.0,18.1 45.0,8.0 32.0,-3.0 22.0,-7.6 6.0,-11.3 -20.0,-6.0 -26.9,-2.0 -30.5,2.0 -37.2,18.0 -39.0,28.0 -38.0,34.5 -23.7,70.0 -27.0,88.0 -26.1,96.0 -23.6,104.0 -19.4,112.0 -14.0,118.7 -6.0,125.4 2.2,130.0 -106.4,130.0 -103.4,114.0 -98.0,70.0 -94.5,56.0 -88.5,40.0 -88.4,24.0 -83.2,12.0 -82.0,0.0 -74.9,-14.0 -70.8,-28.0 -67.0,-42.0 -65.8,-58.0 -64.8,-60.0 -56.0,-63.4 -50.0,-69.2 -40.0,-69.1 -20.0,-74.9 0.0,-75.3 22.0,-73.3 38.0,-70.1 44.0,-66.7 50.0,-58.9 64.0,-46.4 74.0,-33.2 80.7,-22.0 84.7,-12.0 93.4,-2.0 98.5,6.0 110.0,30.0 130.0,84.3 130.0,130.0Z" fill="#30d8f0"/><path d="M130.0,130.0 70.4,130.0 77.3,124.0 83.5,116.0 86.8,108.0 87.2,102.0 85.6,96.0 82.2,90.0 75.2,82.0 68.0,76.0 58.0,71.0 42.6,70.0 43.8,66.0 55.0,50.0 58.5,42.0 59.0,36.0 54.3,16.0 42.9,2.0 34.0,-4.6 22.0,-10.0 4.0,-13.3 0.0,-13.1 -10.0,-9.6 -20.0,-8.7 -29.3,-4.0 -32.6,0.0 -35.5,10.0 -39.7,18.0 -40.6,22.0 -41.0,30.0 -39.9,36.0 -27.5,70.0 -30.7,80.0 -31.8,88.0 -30.4,106.0 -24.4,120.0 -15.4,130.0 -99.7,130.0 -97.7,114.0 -96.4,80.0 -94.1,64.0 -86.1,40.0 -86.2,26.0 -81.4,12.0 -78.8,0.0 -70.9,-16.0 -64.3,-40.0 -63.5,-54.0 -61.9,-58.0 -50.0,-66.1 -38.0,-67.2 -18.0,-72.0 12.0,-71.2 30.0,-69.3 38.0,-67.1 42.0,-64.2 62.1,-44.0 74.0,-28.2 83.0,-10.0 92.0,2.0 98.0,13.0 111.9,50.0 119.4,90.0 123.3,98.0 130.0,106.2 130.0,130.0Z" fill="#30c8f0"/><path d="M-30.0,130.0 -91.7,130.0 -91.1,116.0 -93.0,82.0 -91.5,64.0 -84.3,40.0 -84.4,30.0 -83.3,24.0 -76.0,1.6 -67.8,-14.0 -65.0,-22.0 -60.9,-40.0 -60.0,-54.0 -56.4,-58.0 -48.0,-63.3 -36.0,-64.6 -18.0,-68.6 16.0,-67.5 34.0,-65.0 40.0,-61.4 62.0,-38.6 72.0,-25.0 79.4,-10.0 90.6,8.0 100.0,32.0 104.1,46.0 105.5,58.0 104.0,68.9 100.0,75.5 96.0,77.5 92.0,77.7 82.0,74.4 59.3,62.0 58.4,58.0 62.6,46.0 63.3,40.0 59.1,26.0 57.6,16.0 51.1,6.0 40.0,-4.6 26.0,-10.8 4.0,-15.5 -2.0,-14.8 -12.0,-11.4 -22.0,-10.6 -28.0,-8.4 -32.0,-5.7 -34.7,-2.0 -37.6,10.0 -42.2,20.0 -43.2,28.0 -42.0,37.0 -36.9,50.0 -32.3,68.0 -36.8,90.0 -37.7,106.0 -35.8,118.0 -30.0,130.0ZM130.0,130.0 91.1,130.0 104.0,122.0 114.0,119.8 122.0,121.0 130.0,123.8 130.0,130.0Z" fill="#28b8f0"/><path d="M-46.0,130.0 -80.6,130.0 -81.5,120.0 -87.6,94.0 -89.4,80.0 -88.6,62.0 -82.6,40.0 -81.8,26.0 -74.0,5.0 -63.5,-12.0 -59.1,-22.0 -55.8,-52.0 -52.7,-56.0 -48.0,-58.9 -18.0,-64.5 18.0,-63.7 28.0,-62.6 34.0,-60.8 42.0,-54.5 56.9,-38.0 68.6,-22.0 82.5,4.0 85.8,12.0 94.3,42.0 95.1,50.0 93.7,56.0 90.0,60.3 84.0,61.6 78.0,59.8 73.4,56.0 71.6,52.0 69.2,36.0 63.5,26.0 60.1,12.0 50.0,-1.4 42.0,-7.8 30.3,-12.0 20.0,-13.5 4.0,-17.6 -2.0,-17.1 -14.0,-13.2 -24.0,-12.6 -31.8,-10.0 -34.6,-8.0 -37.4,-4.0 -39.5,10.0 -43.4,18.0 -45.2,26.0 -44.5,36.0 -39.0,52.0 -36.3,68.0 -46.5,110.0 -46.9,122.0 -44.5,130.0 -46.0,130.0Z" fill="#28a8f0"/><path d="M-64.0,110.6 -68.0,110.4 -72.0,108.1 -76.0,103.9 -80.7,96.0 -85.6,80.0 -86.1,62.0 -81.0,40.0 -80.2,28.0 -77.9,20.0 -72.0,8.0 -63.3,-2.0 -52.3,-18.0 -51.1,-24.0 -51.2,-38.0 -49.7,-48.0 -48.0,-50.6 -44.0,-52.8 -18.0,-59.8 20.0,-59.3 28.0,-58.2 34.0,-55.6 47.8,-42.0 56.9,-26.0 70.0,-7.5 75.0,4.0 75.4,10.0 74.0,13.5 72.0,14.5 70.0,14.0 52.0,-8.1 48.0,-11.1 42.0,-13.2 20.0,-15.4 10.0,-19.0 2.0,-20.0 -14.0,-15.5 -30.0,-14.4 -38.0,-11.4 -41.4,-6.0 -41.5,10.0 -46.2,20.0 -47.5,28.0 -46.3,38.0 -40.8,56.0 -40.1,70.0 -46.0,86.9 -52.0,98.9 -58.0,106.9 -64.0,110.6Z" fill="#2898f0"/><path d="M28.0,-17.9 20.0,-18.1 10.0,-21.7 4.0,-22.7 -4.0,-21.8 -16.0,-18.2 -36.0,-18.9 -40.0,-20.5 -42.6,-24.0 -43.9,-30.0 -43.6,-36.0 -42.0,-40.2 -38.2,-44.0 -28.0,-50.9 -22.0,-53.2 -14.0,-54.3 2.0,-53.0 16.0,-54.5 26.0,-53.5 33.1,-50.0 39.6,-44.0 44.7,-36.0 46.1,-30.0 44.9,-24.0 42.0,-20.8 36.0,-18.8 28.0,-17.9ZM-66.0,96.1 -70.0,95.2 -74.0,92.4 -80.0,83.4 -83.4,70.0 -83.1,56.0 -79.4,40.0 -77.9,26.0 -74.0,16.9 -66.0,6.6 -54.0,-3.0 -50.0,-3.8 -46.0,-0.6 -43.4,8.0 -44.1,12.0 -48.5,20.0 -49.8,28.0 -48.6,38.0 -43.7,54.0 -43.3,68.0 -47.8,80.0 -54.0,89.4 -60.0,94.5 -66.0,96.1Z" fill="#2088f0"/><path d="M28.0,-21.9 20.0,-21.7 10.0,-25.4 4.0,-26.3 -4.0,-25.6 -16.0,-21.9 -26.0,-21.9 -31.3,-24.0 -33.5,-26.0 -35.3,-32.0 -34.1,-36.0 -31.1,-40.0 -26.0,-44.0 -20.0,-46.6 -12.0,-47.3 0.0,-45.7 14.0,-48.2 22.0,-48.1 28.0,-46.0 32.0,-43.1 36.0,-38.2 37.6,-34.0 37.7,-30.0 35.7,-26.0 28.0,-21.9ZM-62.0,86.3 -66.0,86.7 -70.0,85.6 -76.0,79.8 -80.4,68.0 -80.7,54.0 -76.0,26.7 -74.0,21.9 -66.0,12.0 -56.0,5.1 -52.0,3.7 -48.0,5.4 -46.4,10.0 -51.5,20.0 -52.4,28.0 -50.9,38.0 -46.3,54.0 -46.1,64.0 -48.0,71.4 -52.0,78.4 -56.0,82.8 -62.0,86.3Z" fill="#1878f0"/><path d="M26.0,-29.8 22.0,-28.2 18.0,-29.1 12.5,-32.0 10.3,-34.0 10.2,-36.0 16.0,-39.0 22.0,-38.6 25.8,-36.0 26.8,-34.0 26.0,-29.8ZM-14.0,-29.6 -20.0,-28.2 -23.6,-30.0 -23.9,-32.0 -22.0,-34.9 -18.0,-37.0 -14.0,-37.3 -9.7,-36.0 -8.5,-34.0 -14.0,-29.6ZM-60.0,78.3 -64.0,79.3 -68.0,78.7 -73.9,74.0 -77.5,66.0 -78.7,56.0 -73.1,26.0 -66.0,17.8 -58.0,14.7 -56.0,17.8 -55.1,30.0 -49.5,50.0 -48.7,58.0 -49.4,64.0 -52.0,70.5 -56.0,75.5 -60.0,78.3Z" fill="#1870f0"/><path d="M-62.0,72.6 -68.0,72.0 -72.0,68.8 -74.7,64.0 -76.4,56.0 -75.9,48.0 -70.8,30.0 -68.0,25.7 -64.0,24.1 -62.0,24.7 -59.7,28.0 -53.0,46.0 -51.5,54.0 -51.9,60.0 -54.0,65.8 -58.0,70.5 -62.0,72.6Z" fill="#1860f0"/><path d="M-62.0,66.6 -66.0,66.7 -70.0,64.3 -72.7,60.0 -74.2,54.0 -73.9,48.0 -72.0,41.5 -68.0,34.1 -66.0,32.7 -64.0,32.6 -60.0,36.4 -56.2,44.0 -54.6,50.0 -54.5,56.0 -56.0,61.0 -58.1,64.0 -62.0,66.6Z" fill="#1050f0"/><path d="M-62.0,60.6 -66.0,61.0 -68.0,59.9 -71.5,54.0 -71.1,46.0 -68.0,40.6 -66.0,39.3 -62.0,40.3 -57.8,48.0 -58.1,56.0 -62.0,60.6Z" fill="#1818e8"/><path d="M-64.0,54.9 -67.0,54.0 -68.9,50.0 -68.0,46.3 -66.0,44.7 -64.0,44.8 -61.5,48.0 -61.5,52.0 -64.0,54.9Z" fill="#3010c0"/></g><circle r="38.2" fill="none" stroke="#000" stroke-width="1.05" stroke-opacity="0.75"/><circle r="64.0" fill="none" stroke="#000" stroke-width="1.05" stroke-opacity="0.75"/><circle r="89.5" fill="none" stroke="#000" stroke-width="1.05" stroke-opacity="0.75"/><circle r="115.0" fill="none" stroke="#000" stroke-width="1.05" stroke-opacity="0.75"/><path d="M25.6,-1.5v3M-25.6,-1.5v3M-2,25.6h4M-2,-25.6h4M51.2,-1.5v3M-51.2,-1.5v3M-2,51.2h4M-2,-51.2h4M76.8,-1.5v3M-76.8,-1.5v3M-2,76.8h4M-2,-76.8h4M102.4,-1.5v3M-102.4,-1.5v3M-2,102.4h4M-2,-102.4h4" stroke="#111" stroke-width="1" fill="none"/><path d="M-79.8,-11.6C-79.3,-20.3 -78.1,-32.9 -74.7,-41.7C-71.4,-50.4 -66.0,-57.5 -59.7,-64.2C-53.4,-70.9 -45.5,-77.4 -37.1,-81.8C-28.8,-86.2 -18.7,-89.3 -9.6,-90.5C-0.4,-91.8 9.3,-91.6 18.0,-89.3C26.8,-87.0 36.0,-82.6 43.1,-76.8C50.2,-70.9 56.7,-62.1 60.7,-54.2C64.6,-46.2 66.1,-37.5 66.9,-29.1C67.8,-20.8 67.1,-13.2 65.7,-4.0C64.2,5.2 61.9,16.9 58.1,26.1C54.4,35.2 49.4,44.0 43.1,51.1C36.8,58.2 28.5,64.9 20.5,68.7C12.6,72.4 3.8,73.7 -4.5,73.7C-12.9,73.7 -22.1,72.0 -29.6,68.7C-37.1,65.3 -43.4,59.5 -49.7,53.6C-55.9,47.8 -62.6,40.7 -67.2,33.6C-71.8,26.5 -75.2,18.5 -77.3,11.0C-79.3,3.5 -80.2,-2.8 -79.8,-11.6Z" fill="none" stroke="#f0f0f0" stroke-width="0.6" stroke-opacity="0.50"/><rect x="-4.3" y="-18.9" width="4.6" height="4.6" fill="#e03030"/><path d="M-3.5,-18.1l3,3m0,-3l-3,3" stroke="#fff" stroke-width="0.8"/><circle cx="-7.0" cy="-11.1" r="1.2" fill="#f0a0a0"/><path d="M-2.3,-1.1h4l-2,2.6z" fill="#8090b0" stroke="#444" stroke-width="0.4"/><circle cx="5.5" cy="17.8" r="2.2" fill="#ffb000" stroke="#d02000" stroke-width="1.3"/><g transform="translate(-0.9,0)"><circle r="144.8" fill="none" stroke="#000" stroke-width="1.9"/><path d="M143.8,-0.0L141.2,-0.0M143.3,-12.5L140.7,-12.3M141.6,-25.0L139.1,-24.5M138.9,-37.2L136.4,-36.5M135.1,-49.2L132.7,-48.3M130.3,-60.8L128.0,-59.7M124.5,-71.9L122.3,-70.6M117.8,-82.5L115.7,-81.0M110.2,-92.4L108.2,-90.8M101.7,-101.7L99.8,-99.8M92.4,-110.2L90.8,-108.2M82.5,-117.8L81.0,-115.7M71.9,-124.5L70.6,-122.3M60.8,-130.3L59.7,-128.0M49.2,-135.1L48.3,-132.7M37.2,-138.9L36.5,-136.4M25.0,-141.6L24.5,-139.1M12.5,-143.3L12.3,-140.7M0.0,-143.8L0.0,-141.2M-12.5,-143.3L-12.3,-140.7M-25.0,-141.6L-24.5,-139.1M-37.2,-138.9L-36.5,-136.4M-49.2,-135.1L-48.3,-132.7M-60.8,-130.3L-59.7,-128.0M-71.9,-124.5L-70.6,-122.3M-82.5,-117.8L-81.0,-115.7M-92.4,-110.2L-90.8,-108.2M-101.7,-101.7L-99.8,-99.8M-110.2,-92.4L-108.2,-90.8M-117.8,-82.5L-115.7,-81.0M-124.5,-71.9L-122.3,-70.6M-130.3,-60.8L-128.0,-59.7M-135.1,-49.2L-132.7,-48.3M-138.9,-37.2L-136.4,-36.5M-141.6,-25.0L-139.1,-24.5M-143.3,-12.5L-140.7,-12.3M-143.8,-0.0L-141.2,-0.0M-143.3,12.5L-140.7,12.3M-141.6,25.0L-139.1,24.5M-138.9,37.2L-136.4,36.5M-135.1,49.2L-132.7,48.3M-130.3,60.8L-128.0,59.7M-124.5,71.9L-122.3,70.6M-117.8,82.5L-115.7,81.0M-110.2,92.4L-108.2,90.8M-101.7,101.7L-99.8,99.8M-92.4,110.2L-90.8,108.2M-82.5,117.8L-81.0,115.7M-71.9,124.5L-70.6,122.3M-60.8,130.3L-59.7,128.0M-49.2,135.1L-48.3,132.7M-37.2,138.9L-36.5,136.4M-25.0,141.6L-24.5,139.1M-12.5,143.3L-12.3,140.7M-0.0,143.8L-0.0,141.2M12.5,143.3L12.3,140.7M25.0,141.6L24.5,139.1M37.2,138.9L36.5,136.4M49.2,135.1L48.3,132.7M60.8,130.3L59.7,128.0M71.9,124.5L70.6,122.3M82.5,117.8L81.0,115.7M92.4,110.2L90.8,108.2M101.7,101.7L99.8,99.8M110.2,92.4L108.2,90.8M117.8,82.5L115.7,81.0M124.5,71.9L122.3,70.6M130.3,60.8L128.0,59.7M135.1,49.2L132.7,48.3M138.9,37.2L136.4,36.5M141.6,25.0L139.1,24.5M143.3,12.5L140.7,12.3" stroke="#d0d0d0" stroke-width="1.1" fill="none"/><g font-size="6.5" font-weight="bold" fill="#e4e4e4" text-anchor="middle" font-family="Liberation Sans, sans-serif"><text x="137.2" y="2.3">0</text><text x="132.5" y="-33.2">15</text><text x="118.8" y="-66.3">30</text><text x="97.0" y="-94.7">45</text><text x="68.6" y="-116.5">60</text><text x="35.5" y="-130.2">75</text><text x="0.0" y="-134.9">90</text><text x="-35.5" y="-130.2">105</text><text x="-68.6" y="-116.5">120</text><text x="-97.0" y="-94.7">135</text><text x="-118.8" y="-66.3">150</text><text x="-132.5" y="-33.2">165</text><text x="-137.2" y="2.3">180</text><text x="-132.5" y="37.8">195</text><text x="-118.8" y="70.9">210</text><text x="-97.0" y="99.3">225</text><text x="-68.6" y="121.1">240</text><text x="-35.5" y="134.8">255</text><text x="-0.0" y="139.5">270</text><text x="35.5" y="134.8">285</text><text x="68.6" y="121.1">300</text><text x="97.0" y="99.3">315</text><text x="118.8" y="70.9">330</text><text x="132.5" y="37.8">345</text></g></g></g><g transform="translate(193.9,437.7)"><clipPath id="c7"><path d="M-81.0,-74.5 -62.2,-82.1 -49.7,-79.6 -39.6,-80.8 -24.6,-82.1 -19.6,-77.1 18.0,-78.3 23.0,-80.8 35.6,-80.8 45.6,-77.1 60.7,-83.3 70.7,-74.5 73.2,-67.0 83.2,-54.5 93.3,-39.4 100.8,-19.4 102.0,0.7 98.3,20.7 93.3,38.3 88.2,55.8 80.7,63.4 65.7,62.1 55.6,67.1 48.1,64.6 38.1,60.9 25.6,62.1 15.5,57.1 -9.6,57.1 -14.6,62.1 -24.6,60.9 -29.6,64.6 -42.2,62.1 -49.7,67.1 -58.5,60.9 -57.2,50.8 -64.7,47.1 -74.7,38.3 -84.8,39.5 -93.6,25.8 -97.3,0.7 -96.1,-24.4 -92.3,-36.9 -98.6,-42.0 -94.8,-54.5Z"/></clipPath><g clip-path="url(#c7)"><rect x="-130" y="-130" width="260" height="260" fill="#d07070"/><path d="M130.0,130.0 -130.0,130.0 -130.0,-130.0 130.0,-130.0 130.0,130.0ZM36.6,28.0 38.0,26.0 38.0,23.5 36.0,21.8 34.0,22.1 32.7,24.0 33.2,28.0 34.0,28.8 36.6,28.0ZM-13.9,46.0 -10.6,44.0 -10.2,40.0 -16.0,32.4 -20.0,29.7 -22.0,29.7 -26.0,34.0 -25.9,42.0 -22.0,46.1 -18.0,46.8 -13.9,46.0Z" fill="#c06060"/><path d="M130.0,130.0 -130.0,130.0 -130.0,-130.0 130.0,-130.0 130.0,130.0ZM3.5,52.0 8.0,48.0 8.4,44.0 6.8,42.0 -4.0,36.4 -9.2,32.0 -13.9,24.0 -15.7,12.0 -18.0,11.3 -20.1,12.0 -28.6,20.0 -33.4,28.0 -34.0,36.0 -31.8,46.0 -28.0,50.6 -22.0,53.1 -2.0,53.0 3.5,52.0ZM34.5,40.0 40.0,34.9 42.1,30.0 42.4,26.0 41.4,22.0 38.0,17.4 32.0,15.7 30.0,16.9 28.0,20.5 25.6,36.0 26.0,38.5 28.0,40.6 32.0,41.0 34.5,40.0Z" fill="#b05050"/><path d="M130.0,130.0 -130.0,130.0 -130.0,-130.0 130.0,-130.0 130.0,130.0ZM11.9,62.0 32.0,55.1 40.1,48.0 44.0,40.0 46.5,30.0 45.4,24.0 41.5,16.0 34.0,10.0 28.0,9.9 26.0,12.7 23.2,26.0 20.0,32.2 16.0,35.2 8.0,35.5 -2.0,33.1 -7.9,28.0 -10.4,22.0 -10.5,10.0 -14.0,2.8 -16.0,1.3 -28.0,7.0 -39.9,20.0 -41.6,24.0 -41.8,32.0 -40.2,42.0 -36.0,52.8 -30.5,58.0 -24.0,60.5 -12.0,60.5 2.0,63.1 11.9,62.0Z" fill="#883030"/><path d="M130.0,130.0 -130.0,130.0 -130.0,-130.0 130.0,-130.0 130.0,130.0ZM26.5,78.0 36.0,74.5 42.3,70.0 48.0,62.7 51.2,54.0 51.3,28.0 45.7,16.0 42.0,10.7 21.3,-4.0 16.0,-6.2 12.6,-6.0 12.0,-4.0 13.2,-2.0 19.4,4.0 21.3,8.0 21.4,22.0 18.9,28.0 16.0,30.8 12.0,32.1 4.0,31.8 -2.0,29.9 -7.1,24.0 -8.1,18.0 -8.0,8.0 -11.9,-4.0 -13.5,-6.0 -18.0,-6.1 -26.0,-1.3 -39.7,2.0 -42.0,3.9 -48.7,14.0 -49.6,26.0 -45.8,50.0 -42.4,58.0 -38.0,63.7 -32.0,68.2 -26.0,70.9 0.0,77.4 14.0,79.2 26.5,78.0Z" fill="#a00000"/><path d="M130.0,130.0 -130.0,130.0 -130.0,-130.0 130.0,-130.0 130.0,130.0ZM35.1,104.0 46.0,99.5 54.0,93.1 61.9,82.0 66.3,70.0 67.5,62.0 67.1,54.0 59.6,38.0 58.0,25.6 55.2,20.0 44.9,8.0 38.3,2.0 26.1,-6.0 18.0,-9.0 12.0,-8.9 9.2,-6.0 10.0,-0.5 18.4,10.0 19.6,18.0 17.2,26.0 14.0,28.8 10.0,29.8 0.0,28.5 -4.6,24.0 -6.1,18.0 -5.9,6.0 -10.0,-5.1 -12.2,-8.0 -18.0,-9.0 -28.0,-4.6 -39.9,-2.0 -43.4,0.0 -53.5,12.0 -55.3,26.0 -54.9,42.0 -53.2,54.0 -50.0,63.7 -45.1,72.0 -38.0,79.6 -30.0,85.5 -2.0,99.3 18.0,104.8 26.0,105.2 35.1,104.0Z" fill="#b01000"/><path d="M130.0,130.0 62.7,130.0 72.0,115.9 78.4,96.0 79.9,76.0 76.6,56.0 67.0,36.0 64.5,22.0 62.0,17.3 39.7,-2.0 24.2,-10.0 16.0,-11.4 10.0,-9.9 7.0,-4.0 8.2,2.0 15.6,10.0 17.6,16.0 17.0,22.0 14.2,26.0 12.0,27.3 4.0,27.8 0.0,26.2 -2.3,24.0 -4.3,18.0 -4.0,4.0 -9.9,-8.0 -16.0,-11.2 -20.0,-11.0 -28.0,-7.5 -38.0,-5.4 -44.0,-2.5 -55.7,10.0 -59.4,22.0 -61.5,40.0 -61.6,56.0 -59.5,68.0 -55.2,80.0 -48.0,92.3 -38.0,104.6 -24.0,118.3 -9.3,130.0 -130.0,130.0 -130.0,-130.0 130.0,-130.0 130.0,130.0Z" fill="#c83000"/><path d="M130.0,130.0 99.5,130.0 98.8,104.0 94.6,80.0 87.6,60.0 73.2,34.0 69.5,18.0 64.0,11.1 44.6,-4.0 26.0,-12.2 18.0,-13.6 10.0,-11.7 6.6,-8.0 5.2,-4.0 4.5,0.0 5.5,4.0 14.0,11.4 15.8,16.0 15.0,22.0 10.0,26.0 3.8,26.0 -1.4,22.0 -2.7,16.0 -0.9,4.0 -8.2,-8.0 -12.0,-11.5 -16.0,-13.1 -20.0,-13.2 -42.5,-6.0 -54.0,4.4 -60.4,14.0 -65.1,28.0 -69.2,46.0 -70.7,60.0 -70.3,72.0 -68.6,84.0 -64.7,98.0 -50.7,130.0 -130.0,130.0 -130.0,-130.0 130.0,-130.0 130.0,130.0Z" fill="#e05800"/><path d="M130.0,130.0 121.1,104.0 112.7,84.0 100.9,62.0 82.0,34.4 80.2,30.0 78.6,20.0 75.8,14.0 69.6,8.0 50.0,-6.6 28.0,-14.6 20.0,-16.0 10.0,-13.7 6.2,-10.0 2.0,-2.3 0.0,-1.2 -2.0,-2.3 -10.0,-11.8 -18.0,-15.4 -42.0,-8.9 -53.0,0.0 -61.0,10.0 -67.6,22.0 -76.6,44.0 -80.9,60.0 -83.0,76.0 -83.2,92.0 -78.6,130.0 -130.0,130.0 -130.0,-130.0 130.0,-130.0 130.0,130.0ZM10.0,24.2 4.0,24.4 0.0,21.0 -1.0,16.0 2.0,9.3 4.0,8.6 10.0,10.5 13.4,14.0 13.9,20.0 10.0,24.2Z" fill="#e07000"/><path d="M-104.0,130.0 -130.0,130.0 -130.0,-130.0 130.0,-130.0 130.0,77.3 96.9,36.0 93.0,28.0 88.9,12.0 84.0,7.2 70.0,0.2 52.0,-11.6 30.0,-17.8 22.0,-18.8 12.0,-16.8 7.6,-14.0 0.0,-4.9 -2.0,-5.5 -12.0,-15.2 -16.0,-17.1 -20.0,-17.3 -30.0,-13.6 -42.0,-11.5 -54.0,-2.4 -67.4,14.0 -82.9,38.0 -91.4,56.0 -97.5,76.0 -101.6,100.0 -104.0,130.0ZM10.0,22.3 6.0,23.1 2.0,21.0 0.7,18.0 2.0,13.0 6.0,11.5 11.3,14.0 12.6,18.0 10.0,22.3Z" fill="#d88c00"/><path d="M-130.0,129.0 -130.0,-130.0 130.0,-130.0 130.0,47.5 113.7,30.0 96.1,2.0 92.6,-2.0 88.0,-4.4 74.0,-7.8 56.0,-16.3 32.0,-21.9 20.0,-21.8 14.0,-20.2 8.0,-16.9 0.0,-8.0 -2.0,-8.4 -12.0,-17.4 -18.0,-19.6 -22.0,-19.1 -30.0,-15.6 -42.0,-14.3 -48.0,-11.2 -58.0,-2.8 -64.0,5.0 -88.8,30.0 -100.5,46.0 -109.0,62.0 -116.4,80.0 -123.3,102.0 -130.0,129.0ZM8.0,21.2 3.5,20.0 2.6,16.0 4.0,14.0 8.0,13.7 10.5,16.0 10.0,19.9 8.0,21.2Z" fill="#d8a000"/><path d="M-130.0,63.3 -130.0,-130.0 130.0,-130.0 130.0,11.6 112.0,-12.2 106.0,-17.3 99.7,-20.0 94.0,-20.7 76.0,-19.4 44.0,-25.6 28.0,-26.7 20.0,-25.5 12.0,-22.6 0.0,-11.8 -2.0,-11.9 -14.0,-21.2 -22.0,-21.8 -30.0,-18.3 -42.0,-17.6 -48.0,-15.4 -58.8,-8.0 -70.0,1.8 -92.0,15.0 -101.9,24.0 -110.6,34.0 -120.7,48.0 -130.0,63.3ZM8.0,18.7 6.0,19.1 4.9,18.0 5.3,16.0 8.1,16.0 8.0,18.7Z" fill="#d0c000"/><path d="M-130.0,26.4 -130.0,-130.0 130.0,-130.0 130.0,-33.7 120.0,-38.4 110.0,-41.1 78.0,-42.3 58.0,-34.4 32.0,-32.5 18.0,-29.6 10.0,-25.7 0.0,-16.7 -2.0,-16.6 -12.0,-23.7 -18.0,-25.5 -24.0,-24.8 -32.0,-21.8 -46.0,-21.4 -64.0,-14.0 -80.0,-12.3 -98.0,-5.9 -110.4,4.0 -130.0,26.4Z" fill="#f0d800"/><path d="M-130.0,-5.9 -130.0,-130.0 130.0,-130.0 130.0,-75.4 112.0,-75.8 96.0,-72.0 88.0,-68.1 75.7,-60.0 64.0,-54.9 50.0,-46.8 10.0,-32.7 -1.2,-24.0 -4.0,-24.5 -12.0,-29.0 -18.0,-30.3 -34.0,-27.9 -52.0,-29.3 -104.0,-20.4 -118.0,-14.2 -130.0,-5.9Z" fill="#e8f000"/><path d="M-128.0,-33.8 -130.0,-32.9 -130.0,-130.0 64.0,-130.0 55.9,-122.0 51.5,-112.0 50.5,-102.0 51.0,-76.0 49.4,-68.0 44.0,-61.2 22.7,-48.0 5.7,-42.0 -12.0,-38.7 -28.0,-40.0 -46.0,-47.1 -58.0,-47.5 -108.0,-40.0 -128.0,-33.8Z" fill="#98e000"/><path d="M-130.0,-67.7 -130.0,-130.0 -68.6,-130.0 -83.2,-102.0 -92.0,-90.0 -104.9,-80.0 -130.0,-67.7ZM-2.0,-59.7 -6.0,-59.1 -10.0,-60.1 -11.9,-62.0 -11.5,-66.0 -9.6,-68.0 -6.0,-69.3 -0.7,-68.0 1.6,-64.0 0.9,-62.0 -2.0,-59.7Z" fill="#58d800"/></g><circle r="38.2" fill="none" stroke="#000" stroke-width="1.05" stroke-opacity="0.75"/><circle r="64.0" fill="none" stroke="#000" stroke-width="1.05" stroke-opacity="0.75"/><circle r="89.5" fill="none" stroke="#000" stroke-width="1.05" stroke-opacity="0.75"/><circle r="115.0" fill="none" stroke="#000" stroke-width="1.05" stroke-opacity="0.75"/><path d="M25.6,-1.5v3M-25.6,-1.5v3M-2,25.6h4M-2,-25.6h4M51.2,-1.5v3M-51.2,-1.5v3M-2,51.2h4M-2,-51.2h4M76.8,-1.5v3M-76.8,-1.5v3M-2,76.8h4M-2,-76.8h4M102.4,-1.5v3M-102.4,-1.5v3M-2,102.4h4M-2,-102.4h4" stroke="#111" stroke-width="1" fill="none"/><path d="M-83.5,-11.9C-83.9,-20.6 -82.5,-29.0 -79.8,-36.9C-77.0,-44.9 -72.7,-52.4 -67.2,-59.5C-61.8,-66.6 -52.2,-74.5 -47.2,-79.6C-42.2,-84.6 -40.9,-86.9 -37.1,-89.6C-33.4,-92.3 -29.6,-94.4 -24.6,-95.9C-19.6,-97.3 -12.9,-98.1 -7.0,-98.4C-1.2,-98.7 5.1,-98.7 10.5,-97.6C15.9,-96.6 20.5,-94.5 25.6,-92.1C30.6,-89.7 35.6,-87.5 40.6,-83.3C45.6,-79.1 51.5,-73.1 55.6,-67.0C59.8,-61.0 63.4,-54.1 65.7,-47.0C68.0,-39.9 69.0,-31.5 69.4,-24.4C69.9,-17.3 69.6,-11.9 68.2,-4.3C66.7,3.2 63.6,12.4 60.7,20.7C57.7,29.1 54.0,38.7 50.6,45.8C47.3,52.9 44.8,59.0 40.6,63.4C36.4,67.8 31.4,70.3 25.6,72.1C19.7,74.0 12.2,74.9 5.5,74.6C-1.2,74.4 -8.3,72.8 -14.6,70.9C-20.8,69.0 -26.3,66.7 -32.1,63.4C-38.0,60.0 -44.2,55.4 -49.7,50.8C-55.1,46.2 -60.1,41.6 -64.7,35.8C-69.3,29.9 -74.1,23.7 -77.3,15.7C-80.4,7.8 -83.1,-3.1 -83.5,-11.9Z" fill="none" stroke="#f0f0f0" stroke-width="1.1" stroke-opacity="0.90"/><rect x="-3.8" y="-19.2" width="4.6" height="4.6" fill="#e03030"/><path d="M-3.0,-18.4l3,3m0,-3l-3,3" stroke="#fff" stroke-width="0.8"/><path d="M-1.5,-1.4h4l-2,2.6z" fill="#8090b0" stroke="#444" stroke-width="0.4"/><circle cx="7.2" cy="17.5" r="2.2" fill="#ffb000" stroke="#d02000" stroke-width="1.3"/><g transform="translate(1.5,0)"><circle r="144.8" fill="none" stroke="#000" stroke-width="1.9"/><path d="M143.8,-0.0L141.2,-0.0M143.3,-12.5L140.7,-12.3M141.6,-25.0L139.1,-24.5M138.9,-37.2L136.4,-36.5M135.1,-49.2L132.7,-48.3M130.3,-60.8L128.0,-59.7M124.5,-71.9L122.3,-70.6M117.8,-82.5L115.7,-81.0M110.2,-92.4L108.2,-90.8M101.7,-101.7L99.8,-99.8M92.4,-110.2L90.8,-108.2M82.5,-117.8L81.0,-115.7M71.9,-124.5L70.6,-122.3M60.8,-130.3L59.7,-128.0M49.2,-135.1L48.3,-132.7M37.2,-138.9L36.5,-136.4M25.0,-141.6L24.5,-139.1M12.5,-143.3L12.3,-140.7M0.0,-143.8L0.0,-141.2M-12.5,-143.3L-12.3,-140.7M-25.0,-141.6L-24.5,-139.1M-37.2,-138.9L-36.5,-136.4M-49.2,-135.1L-48.3,-132.7M-60.8,-130.3L-59.7,-128.0M-71.9,-124.5L-70.6,-122.3M-82.5,-117.8L-81.0,-115.7M-92.4,-110.2L-90.8,-108.2M-101.7,-101.7L-99.8,-99.8M-110.2,-92.4L-108.2,-90.8M-117.8,-82.5L-115.7,-81.0M-124.5,-71.9L-122.3,-70.6M-130.3,-60.8L-128.0,-59.7M-135.1,-49.2L-132.7,-48.3M-138.9,-37.2L-136.4,-36.5M-141.6,-25.0L-139.1,-24.5M-143.3,-12.5L-140.7,-12.3M-143.8,-0.0L-141.2,-0.0M-143.3,12.5L-140.7,12.3M-141.6,25.0L-139.1,24.5M-138.9,37.2L-136.4,36.5M-135.1,49.2L-132.7,48.3M-130.3,60.8L-128.0,59.7M-124.5,71.9L-122.3,70.6M-117.8,82.5L-115.7,81.0M-110.2,92.4L-108.2,90.8M-101.7,101.7L-99.8,99.8M-92.4,110.2L-90.8,108.2M-82.5,117.8L-81.0,115.7M-71.9,124.5L-70.6,122.3M-60.8,130.3L-59.7,128.0M-49.2,135.1L-48.3,132.7M-37.2,138.9L-36.5,136.4M-25.0,141.6L-24.5,139.1M-12.5,143.3L-12.3,140.7M-0.0,143.8L-0.0,141.2M12.5,143.3L12.3,140.7M25.0,141.6L24.5,139.1M37.2,138.9L36.5,136.4M49.2,135.1L48.3,132.7M60.8,130.3L59.7,128.0M71.9,124.5L70.6,122.3M82.5,117.8L81.0,115.7M92.4,110.2L90.8,108.2M101.7,101.7L99.8,99.8M110.2,92.4L108.2,90.8M117.8,82.5L115.7,81.0M124.5,71.9L122.3,70.6M130.3,60.8L128.0,59.7M135.1,49.2L132.7,48.3M138.9,37.2L136.4,36.5M141.6,25.0L139.1,24.5M143.3,12.5L140.7,12.3" stroke="#d0d0d0" stroke-width="1.1" fill="none"/><g font-size="6.5" font-weight="bold" fill="#e4e4e4" text-anchor="middle" font-family="Liberation Sans, sans-serif"><text x="137.2" y="2.3">0</text><text x="132.5" y="-33.2">15</text><text x="118.8" y="-66.3">30</text><text x="97.0" y="-94.7">45</text><text x="68.6" y="-116.5">60</text><text x="35.5" y="-130.2">75</text><text x="0.0" y="-134.9">90</text><text x="-35.5" y="-130.2">105</text><text x="-68.6" y="-116.5">120</text><text x="-97.0" y="-94.7">135</text><text x="-118.8" y="-66.3">150</text><text x="-132.5" y="-33.2">165</text><text x="-137.2" y="2.3">180</text><text x="-132.5" y="37.8">195</text><text x="-118.8" y="70.9">210</text><text x="-97.0" y="99.3">225</text><text x="-68.6" y="121.1">240</text><text x="-35.5" y="134.8">255</text><text x="-0.0" y="139.5">270</text><text x="35.5" y="134.8">285</text><text x="68.6" y="121.1">300</text><text x="97.0" y="99.3">315</text><text x="118.8" y="70.9">330</text><text x="132.5" y="37.8">345</text></g></g></g><g transform="translate(687.9,437.7)"><clipPath id="c8"><path d="M-63.5,-90.8 -49.7,-93.4 50.6,-92.1 63.2,-89.6 64.4,-77.1 60.7,-74.5 61.9,-62.0 93.3,-53.2 97.0,-39.4 97.0,25.8 92.0,40.8 88.2,60.9 83.2,75.9 50.6,77.9 48.1,83.4 -24.6,84.7 -52.2,82.2 -54.7,75.9 -77.3,74.6 -87.3,65.9 -89.8,50.8 -93.6,25.8 -98.6,-4.3 -96.1,-53.2 -79.8,-54.5 -74.7,-60.8 -63.5,-62.0 -61.0,-77.1 -64.7,-79.6Z"/></clipPath><g clip-path="url(#c8)"><rect x="-130" y="-130" width="260" height="260" fill="#b860f0"/><path d="M130.0,130.0 -99.8,130.0 -116.0,111.6 -130.0,97.9 -130.0,-130.0 130.0,-130.0 130.0,130.0Z" fill="#b860f0"/><path d="M130.0,130.0 -90.3,130.0 -112.0,105.1 -130.0,88.1 -130.0,-130.0 130.0,-130.0 130.0,130.0Z" fill="#a830d0"/><path d="M130.0,130.0 -81.2,130.0 -108.0,99.2 -130.0,79.1 -130.0,-130.0 130.0,-130.0 130.0,130.0Z" fill="#a830d0"/><path d="M130.0,130.0 -72.2,130.0 -74.0,128.1 -103.8,94.0 -130.0,70.6 -130.0,-125.0 -125.1,-130.0 130.0,-130.0 130.0,130.0Z" fill="#9020b0"/><path d="M130.0,130.0 -62.9,130.0 -69.4,124.0 -100.0,89.1 -130.0,62.4 -130.0,-108.4 -122.0,-117.0 -108.2,-130.0 130.0,-130.0 130.0,130.0Z" fill="#7820b0"/><path d="M130.0,130.0 -53.0,130.0 -65.0,120.0 -95.1,86.0 -130.0,54.2 -130.0,-92.1 -119.7,-104.0 -106.0,-117.4 -90.5,-130.0 130.0,-130.0 130.0,130.0Z" fill="#7020a8"/><path d="M130.0,130.0 -41.6,130.0 -62.0,115.0 -72.0,105.0 -91.6,82.0 -130.0,45.9 -130.0,-75.8 -115.2,-94.0 -94.1,-114.0 -71.6,-130.0 130.0,-130.0 130.0,130.0Z" fill="#502098"/><path d="M130.0,130.0 -26.6,130.0 -44.0,121.3 -60.0,109.6 -70.0,99.7 -86.9,80.0 -104.3,64.0 -130.0,37.2 -130.0,-59.4 -109.5,-86.0 -96.0,-99.6 -82.0,-111.1 -66.0,-121.7 -50.2,-130.0 127.8,-130.0 130.0,-129.1 130.0,130.0Z" fill="#101090"/><path d="M108.0,130.0 0.1,130.0 -28.0,122.2 -46.0,113.3 -60.0,102.7 -120.3,40.0 -130.0,27.2 -130.0,-42.5 -122.0,-55.3 -110.0,-71.3 -99.0,-84.0 -88.0,-94.6 -72.0,-106.9 -56.0,-116.6 -38.0,-124.8 -20.6,-130.0 79.1,-130.0 104.0,-120.7 130.0,-106.5 130.0,124.1 108.0,130.0Z" fill="#1818c8"/><path d="M62.0,124.1 32.0,124.8 2.0,122.2 -22.0,117.2 -42.0,109.1 -58.0,97.9 -82.0,73.4 -92.9,64.0 -119.8,32.0 -128.2,18.0 -130.0,13.4 -130.0,-22.7 -126.0,-32.5 -120.0,-43.0 -99.8,-70.0 -84.9,-86.0 -66.0,-100.6 -44.0,-112.9 -24.0,-119.7 2.0,-124.0 30.0,-125.6 52.0,-123.5 72.0,-118.3 91.4,-110.0 111.0,-98.0 130.0,-82.9 130.0,106.0 114.0,112.9 98.0,118.0 80.0,121.8 62.0,124.1Z" fill="#1840d8"/><path d="M56.0,114.0 28.0,115.6 -2.0,113.8 -24.0,109.9 -42.0,102.9 -56.0,93.4 -88.3,64.0 -99.4,48.0 -116.0,28.0 -121.8,18.0 -125.5,6.0 -125.8,-8.0 -122.3,-22.0 -115.0,-36.0 -92.5,-66.0 -79.7,-80.0 -62.0,-93.6 -40.0,-105.8 -18.0,-112.4 12.0,-115.6 36.0,-115.3 56.0,-111.4 76.0,-103.4 94.0,-92.3 110.6,-78.0 130.0,-56.9 130.0,86.0 114.6,96.0 97.2,104.0 77.9,110.0 56.0,114.0Z" fill="#2060d0"/><path d="M40.0,106.0 16.0,106.9 -12.0,105.3 -30.0,101.7 -44.0,95.8 -54.0,88.9 -86.1,62.0 -94.0,47.2 -110.6,26.0 -117.0,14.0 -119.4,2.0 -118.4,-10.0 -114.2,-22.0 -106.0,-35.3 -84.4,-64.0 -73.1,-76.0 -52.0,-91.0 -32.0,-100.9 -12.0,-105.4 24.0,-107.1 44.0,-104.4 62.0,-98.0 79.2,-88.0 95.2,-74.0 113.1,-52.0 130.0,-27.4 130.0,61.1 122.7,70.0 114.1,78.0 94.0,91.0 68.0,100.9 40.0,106.0Z" fill="#2080e0"/><path d="M32.0,98.1 12.0,99.0 -16.0,98.1 -32.0,94.9 -44.0,89.8 -82.4,62.0 -85.2,58.0 -90.0,44.8 -106.5,22.0 -111.3,12.0 -112.6,-2.0 -111.0,-10.0 -108.0,-17.9 -102.1,-28.0 -78.6,-60.0 -69.5,-70.0 -60.0,-77.7 -42.0,-88.8 -28.0,-94.8 -10.0,-98.3 26.0,-98.9 46.0,-94.4 63.4,-86.0 78.0,-75.0 91.2,-60.0 113.1,-26.0 123.2,-4.0 126.4,14.0 124.9,30.0 118.3,48.0 107.2,64.0 93.7,76.0 76.0,86.1 54.0,94.1 32.0,98.1Z" fill="#28a0e0"/><path d="M30.0,90.2 14.0,91.5 -16.0,91.4 -32.0,88.7 -43.4,84.0 -80.5,60.0 -82.6,56.0 -84.6,46.0 -87.2,40.0 -101.8,18.0 -104.6,12.0 -105.6,0.0 -101.6,-14.0 -94.8,-26.0 -74.9,-54.0 -66.0,-64.2 -56.0,-72.8 -40.0,-82.7 -28.0,-87.8 -8.0,-91.9 20.0,-92.0 38.8,-88.0 55.6,-80.0 69.1,-70.0 81.1,-56.0 98.7,-26.0 107.4,-6.0 110.9,10.0 110.0,24.0 104.1,42.0 94.1,58.0 83.7,68.0 66.0,79.1 49.0,86.0 30.0,90.2Z" fill="#28b0e0"/><path d="M20.0,84.2 -14.0,85.0 -32.0,82.1 -40.0,79.1 -64.0,64.5 -77.6,58.0 -82.3,38.0 -97.5,10.0 -97.0,-2.0 -91.0,-18.0 -78.0,-39.5 -64.0,-56.6 -52.4,-68.0 -42.0,-75.0 -28.0,-80.8 -10.0,-85.3 6.0,-86.6 26.0,-83.6 44.0,-77.1 58.0,-68.1 69.6,-56.0 80.0,-40.0 90.6,-18.0 95.5,0.0 97.0,12.0 93.8,30.0 88.0,43.8 80.0,55.3 66.0,67.5 54.0,74.7 34.0,81.5 20.0,84.2Z" fill="#30c8e8"/><path d="M16.0,78.1 -8.0,78.8 -26.0,76.7 -42.0,70.7 -63.3,58.0 -72.3,48.0 -83.7,18.0 -87.0,4.0 -87.0,-2.0 -85.2,-10.0 -75.7,-32.0 -70.0,-39.5 -46.9,-64.0 -42.0,-68.1 -32.2,-72.0 2.0,-80.5 16.0,-78.2 32.0,-73.4 46.0,-66.8 54.0,-60.4 64.9,-48.0 74.8,-32.0 81.4,-16.0 84.0,-4.0 83.7,20.0 82.0,30.0 77.6,40.0 66.0,54.9 58.0,62.7 48.0,68.7 30.0,75.4 16.0,78.1Z" fill="#30d8e8"/><path d="M12.0,72.3 0.0,73.2 -28.0,69.4 -40.3,64.0 -53.3,56.0 -61.3,50.0 -64.3,46.0 -77.3,10.0 -76.5,-4.0 -72.0,-18.9 -66.5,-30.0 -54.8,-44.0 -44.0,-54.7 -33.5,-62.0 -20.0,-67.2 -4.0,-70.5 10.0,-70.4 24.0,-67.2 36.1,-62.0 48.0,-53.8 57.6,-44.0 64.2,-34.0 72.8,-16.0 75.7,-4.0 75.5,18.0 73.8,28.0 69.3,38.0 60.5,50.0 52.0,58.1 38.0,66.1 26.0,69.8 12.0,72.3Z" fill="#30c830"/><path d="M20.0,64.2 8.0,65.8 -8.0,65.5 -20.0,63.3 -34.0,58.6 -42.2,54.0 -49.2,48.0 -58.6,36.0 -62.9,26.0 -64.6,18.0 -66.0,0.0 -64.7,-8.0 -61.5,-16.0 -50.8,-34.0 -43.9,-42.0 -26.0,-54.5 -16.0,-58.8 -4.0,-60.8 12.0,-60.5 22.0,-58.4 32.0,-54.0 44.0,-45.9 53.7,-36.0 62.2,-22.0 67.1,-10.0 69.2,2.0 69.1,16.0 66.2,28.0 61.2,38.0 54.0,47.3 44.0,55.2 34.0,60.2 20.0,64.2Z" fill="#58d800"/><path d="M12.0,58.1 -4.0,58.2 -14.0,56.9 -24.1,54.0 -36.0,47.9 -44.0,41.7 -48.0,36.7 -53.1,26.0 -57.0,12.0 -56.3,2.0 -53.5,-10.0 -49.5,-20.0 -44.0,-27.6 -36.6,-36.0 -28.0,-43.0 -18.0,-48.0 -8.0,-51.0 4.0,-52.0 16.0,-50.5 26.0,-47.2 36.0,-41.7 46.0,-32.6 54.3,-22.0 58.8,-12.0 62.0,0.3 63.1,10.0 61.9,18.0 57.7,30.0 51.7,40.0 44.0,46.8 34.0,52.4 24.0,56.1 12.0,58.1Z" fill="#98e000"/><path d="M12.0,50.2 2.0,50.8 -8.0,49.6 -18.0,47.1 -26.0,43.1 -32.7,38.0 -39.3,30.0 -42.3,24.0 -44.3,16.0 -44.8,4.0 -43.4,-4.0 -40.0,-12.5 -34.0,-22.5 -27.3,-30.0 -20.0,-35.4 -10.0,-39.4 0.0,-41.7 8.0,-41.5 20.0,-38.6 28.0,-35.3 34.0,-30.9 42.8,-22.0 48.0,-14.7 52.0,-4.0 54.2,6.0 54.0,14.0 52.0,21.6 48.4,30.0 44.1,36.0 36.3,42.0 28.0,46.5 12.0,50.2Z" fill="#e8f000"/><path d="M12.0,40.0 -4.0,40.4 -17.9,36.0 -27.2,28.0 -32.4,18.0 -33.0,4.0 -31.4,-2.0 -27.4,-10.0 -20.0,-18.6 -12.0,-23.8 -6.0,-26.1 10.0,-26.6 16.0,-25.0 24.0,-20.6 33.1,-12.0 37.7,-4.0 39.8,2.0 40.1,16.0 35.9,26.0 26.0,35.1 20.0,38.0 12.0,40.0Z" fill="#f0d800"/><path d="M10.0,30.0 0.0,30.7 -8.0,29.0 -16.0,24.2 -20.4,18.0 -22.1,10.0 -19.7,0.0 -14.0,-7.6 -6.0,-12.7 4.0,-14.3 12.5,-12.0 19.9,-6.0 24.3,2.0 25.5,12.0 23.1,20.0 18.0,26.0 10.0,30.0Z" fill="#d0c000"/><path d="M10.0,22.2 4.0,23.1 0.2,20.0 0.3,10.0 2.0,6.4 4.0,5.0 10.0,5.7 14.0,11.1 13.7,18.0 10.0,22.2Z" fill="#d8a000"/></g><circle r="38.2" fill="none" stroke="#000" stroke-width="1.05" stroke-opacity="0.75"/><circle r="64.0" fill="none" stroke="#000" stroke-width="1.05" stroke-opacity="0.75"/><circle r="89.5" fill="none" stroke="#000" stroke-width="1.05" stroke-opacity="0.75"/><circle r="115.0" fill="none" stroke="#000" stroke-width="1.05" stroke-opacity="0.75"/><path d="M25.6,-1.5v3M-25.6,-1.5v3M-2,25.6h4M-2,-25.6h4M51.2,-1.5v3M-51.2,-1.5v3M-2,51.2h4M-2,-51.2h4M76.8,-1.5v3M-76.8,-1.5v3M-2,76.8h4M-2,-76.8h4M102.4,-1.5v3M-102.4,-1.5v3M-2,102.4h4M-2,-102.4h4" stroke="#111" stroke-width="1" fill="none"/><circle cx="-0.8" cy="-77.1" r="25.5" fill="none" stroke="#e8e8e8" stroke-width="0.7" stroke-opacity="0.8"/><circle cx="-77.3" cy="-0.6" r="25.5" fill="none" stroke="#e8e8e8" stroke-width="0.7" stroke-opacity="0.8"/><circle cx="-0.8" cy="-0.6" r="25.5" fill="none" stroke="#e8e8e8" stroke-width="0.7" stroke-opacity="0.8"/><circle cx="75.2" cy="-0.6" r="25.5" fill="none" stroke="#e8e8e8" stroke-width="0.7" stroke-opacity="0.8"/><circle cx="-0.8" cy="75.9" r="25.5" fill="none" stroke="#e8e8e8" stroke-width="0.7" stroke-opacity="0.8"/><rect x="-12.3" y="-85.8" width="23" height="17.5" fill="#f4f4f4" stroke="#333" stroke-width="1"/><text x="-0.8" y="-72.9" font-size="11.5" text-anchor="middle" fill="#222" font-family="Liberation Sans, sans-serif">609</text><rect x="-88.8" y="-9.3" width="23" height="17.5" fill="#f4f4f4" stroke="#333" stroke-width="1"/><text x="-77.3" y="3.6" font-size="11.5" text-anchor="middle" fill="#222" font-family="Liberation Sans, sans-serif">612</text><rect x="-12.3" y="-9.3" width="23" height="17.5" fill="#f4f4f4" stroke="#333" stroke-width="1"/><text x="-0.8" y="3.6" font-size="11.5" text-anchor="middle" fill="#222" font-family="Liberation Sans, sans-serif">497</text><rect x="63.7" y="-9.3" width="23" height="17.5" fill="#f4f4f4" stroke="#333" stroke-width="1"/><text x="75.2" y="3.6" font-size="11.5" text-anchor="middle" fill="#222" font-family="Liberation Sans, sans-serif">605</text><rect x="-12.3" y="67.2" width="23" height="17.5" fill="#f4f4f4" stroke="#333" stroke-width="1"/><text x="-0.8" y="80.1" font-size="11.5" text-anchor="middle" fill="#222" font-family="Liberation Sans, sans-serif">598</text><path d="M-79.8,-11.9C-79.3,-20.6 -78.1,-33.2 -74.7,-42.0C-71.4,-50.7 -66.0,-57.8 -59.7,-64.5C-53.4,-71.2 -45.5,-77.7 -37.1,-82.1C-28.8,-86.5 -18.7,-89.6 -9.6,-90.8C-0.4,-92.1 9.3,-91.9 18.0,-89.6C26.8,-87.3 36.0,-82.9 43.1,-77.1C50.2,-71.2 56.7,-62.4 60.7,-54.5C64.6,-46.5 66.1,-37.8 66.9,-29.4C67.8,-21.1 67.1,-13.5 65.7,-4.3C64.2,4.9 61.9,16.6 58.1,25.8C54.4,34.9 49.4,43.7 43.1,50.8C36.8,57.9 28.5,64.6 20.5,68.4C12.6,72.1 3.8,73.4 -4.5,73.4C-12.9,73.4 -22.1,71.7 -29.6,68.4C-37.1,65.0 -43.4,59.2 -49.7,53.3C-55.9,47.5 -62.6,40.4 -67.2,33.3C-71.8,26.2 -75.2,18.2 -77.3,10.7C-79.3,3.2 -80.2,-3.1 -79.8,-11.9Z" fill="none" stroke="#f0f0f0" stroke-width="0.6" stroke-opacity="0.45"/><rect x="-4.3" y="-18.7" width="4.6" height="4.6" fill="#e03030"/><path d="M-3.5,-17.9l3,3m0,-3l-3,3" stroke="#fff" stroke-width="0.8"/><circle cx="5.5" cy="17.7" r="2.2" fill="#ffb000" stroke="#d02000" stroke-width="1.3"/><g transform="translate(-0.9,0)"><circle r="144.8" fill="none" stroke="#000" stroke-width="1.9"/><path d="M143.8,-0.0L141.2,-0.0M143.3,-12.5L140.7,-12.3M141.6,-25.0L139.1,-24.5M138.9,-37.2L136.4,-36.5M135.1,-49.2L132.7,-48.3M130.3,-60.8L128.0,-59.7M124.5,-71.9L122.3,-70.6M117.8,-82.5L115.7,-81.0M110.2,-92.4L108.2,-90.8M101.7,-101.7L99.8,-99.8M92.4,-110.2L90.8,-108.2M82.5,-117.8L81.0,-115.7M71.9,-124.5L70.6,-122.3M60.8,-130.3L59.7,-128.0M49.2,-135.1L48.3,-132.7M37.2,-138.9L36.5,-136.4M25.0,-141.6L24.5,-139.1M12.5,-143.3L12.3,-140.7M0.0,-143.8L0.0,-141.2M-12.5,-143.3L-12.3,-140.7M-25.0,-141.6L-24.5,-139.1M-37.2,-138.9L-36.5,-136.4M-49.2,-135.1L-48.3,-132.7M-60.8,-130.3L-59.7,-128.0M-71.9,-124.5L-70.6,-122.3M-82.5,-117.8L-81.0,-115.7M-92.4,-110.2L-90.8,-108.2M-101.7,-101.7L-99.8,-99.8M-110.2,-92.4L-108.2,-90.8M-117.8,-82.5L-115.7,-81.0M-124.5,-71.9L-122.3,-70.6M-130.3,-60.8L-128.0,-59.7M-135.1,-49.2L-132.7,-48.3M-138.9,-37.2L-136.4,-36.5M-141.6,-25.0L-139.1,-24.5M-143.3,-12.5L-140.7,-12.3M-143.8,-0.0L-141.2,-0.0M-143.3,12.5L-140.7,12.3M-141.6,25.0L-139.1,24.5M-138.9,37.2L-136.4,36.5M-135.1,49.2L-132.7,48.3M-130.3,60.8L-128.0,59.7M-124.5,71.9L-122.3,70.6M-117.8,82.5L-115.7,81.0M-110.2,92.4L-108.2,90.8M-101.7,101.7L-99.8,99.8M-92.4,110.2L-90.8,108.2M-82.5,117.8L-81.0,115.7M-71.9,124.5L-70.6,122.3M-60.8,130.3L-59.7,128.0M-49.2,135.1L-48.3,132.7M-37.2,138.9L-36.5,136.4M-25.0,141.6L-24.5,139.1M-12.5,143.3L-12.3,140.7M-0.0,143.8L-0.0,141.2M12.5,143.3L12.3,140.7M25.0,141.6L24.5,139.1M37.2,138.9L36.5,136.4M49.2,135.1L48.3,132.7M60.8,130.3L59.7,128.0M71.9,124.5L70.6,122.3M82.5,117.8L81.0,115.7M92.4,110.2L90.8,108.2M101.7,101.7L99.8,99.8M110.2,92.4L108.2,90.8M117.8,82.5L115.7,81.0M124.5,71.9L122.3,70.6M130.3,60.8L128.0,59.7M135.1,49.2L132.7,48.3M138.9,37.2L136.4,36.5M141.6,25.0L139.1,24.5M143.3,12.5L140.7,12.3" stroke="#d0d0d0" stroke-width="1.1" fill="none"/><g font-size="6.5" font-weight="bold" fill="#e4e4e4" text-anchor="middle" font-family="Liberation Sans, sans-serif"><text x="137.2" y="2.3">0</text><text x="132.5" y="-33.2">15</text><text x="118.8" y="-66.3">30</text><text x="97.0" y="-94.7">45</text><text x="68.6" y="-116.5">60</text><text x="35.5" y="-130.2">75</text><text x="0.0" y="-134.9">90</text><text x="-35.5" y="-130.2">105</text><text x="-68.6" y="-116.5">120</text><text x="-97.0" y="-94.7">135</text><text x="-118.8" y="-66.3">150</text><text x="-132.5" y="-33.2">165</text><text x="-137.2" y="2.3">180</text><text x="-132.5" y="37.8">195</text><text x="-118.8" y="70.9">210</text><text x="-97.0" y="99.3">225</text><text x="-68.6" y="121.1">240</text><text x="-35.5" y="134.8">255</text><text x="-0.0" y="139.5">270</text><text x="35.5" y="134.8">285</text><text x="68.6" y="121.1">300</text><text x="97.0" y="99.3">315</text><text x="118.8" y="70.9">330</text><text x="132.5" y="37.8">345</text></g></g></g></svg>
<span class="t9 sh" style="left:-0.5px;top:0px">0.005 mm Color Steps</span>
<span class="big sh" style="left:1.5px;top:12.6px">Anterior</span>
<span class="flt sh" style="left:1.5px;top:34.5px">Float</span>
<span class="t9 sh" style="right:2px;top:0px">0.005 mm Color Steps</span>
<span class="big sh" style="right:1.5px;top:12.6px">Posterior</span>
<span class="flt sh" style="right:1.5px;top:34.5px">Float</span>
<span class="big2 sh" style="left:1px;top:549px">Keratometric</span>
<span class="t9 sh" style="left:0px;top:571px">1.0 D Color Steps</span>
<span class="big2 sh" style="right:1.5px;top:549px">Thickness</span>
<span class="t9 sh" style="right:2px;top:571px">20 mic Color Steps</span>
<div class="blk" style="left:2px;top:59px;width:47px;height:465px"></div>
<div class="gl" style="left:48.4px;top:59px;width:1px;height:466px"></div>
<div class="gl" style="left:2px;top:290px;width:48px;height:1.5px"></div>
<div class="gl" style="left:2px;top:523.6px;width:48px;height:1.5px"></div>
<i style="left:2.6px;top:59.40px;width:11.6px;height:6.86px;background:#6b3a7c"></i><i style="left:2.6px;top:65.96px;width:11.6px;height:6.86px;background:#83386e"></i><i style="left:2.6px;top:72.51px;width:11.6px;height:6.86px;background:#8c3670"></i><i style="left:2.6px;top:79.07px;width:11.6px;height:6.86px;background:#a8205a"></i><i style="left:2.6px;top:85.63px;width:11.6px;height:6.86px;background:#a81038"></i><i style="left:2.6px;top:92.19px;width:11.6px;height:6.86px;background:#c01010"></i><i style="left:2.6px;top:98.74px;width:11.6px;height:6.86px;background:#dc1800"></i><i style="left:2.6px;top:105.30px;width:11.6px;height:6.86px;background:#e83800"></i><i style="left:2.6px;top:111.86px;width:11.6px;height:6.86px;background:#e85000"></i><i style="left:2.6px;top:118.41px;width:11.6px;height:6.86px;background:#f07000"></i><i style="left:2.6px;top:124.97px;width:11.6px;height:6.86px;background:#f08000"></i><i style="left:2.6px;top:131.53px;width:11.6px;height:6.86px;background:#f09000"></i><i style="left:2.6px;top:138.08px;width:11.6px;height:6.86px;background:#f0a000"></i><i style="left:2.6px;top:144.64px;width:11.6px;height:6.86px;background:#f0b800"></i><i style="left:2.6px;top:151.20px;width:11.6px;height:6.86px;background:#f0c800"></i><i style="left:2.6px;top:157.75px;width:11.6px;height:6.86px;background:#f0d800"></i><i style="left:2.6px;top:164.31px;width:11.6px;height:6.86px;background:#f0f000"></i><i style="left:2.6px;top:170.87px;width:11.6px;height:6.86px;background:#28c800"></i><i style="left:2.6px;top:177.43px;width:11.6px;height:6.86px;background:#30d8f0"></i><i style="left:2.6px;top:183.98px;width:11.6px;height:6.86px;background:#30c8f0"></i><i style="left:2.6px;top:190.54px;width:11.6px;height:6.86px;background:#28b8f0"></i><i style="left:2.6px;top:197.10px;width:11.6px;height:6.86px;background:#28a8f0"></i><i style="left:2.6px;top:203.65px;width:11.6px;height:6.86px;background:#2898f0"></i><i style="left:2.6px;top:210.21px;width:11.6px;height:6.86px;background:#2088f0"></i><i style="left:2.6px;top:216.77px;width:11.6px;height:6.86px;background:#1878f0"></i><i style="left:2.6px;top:223.33px;width:11.6px;height:6.86px;background:#1870f0"></i><i style="left:2.6px;top:229.88px;width:11.6px;height:6.86px;background:#1860f0"></i><i style="left:2.6px;top:236.44px;width:11.6px;height:6.86px;background:#1050f0"></i><i style="left:2.6px;top:243.00px;width:11.6px;height:6.86px;background:#1818e8"></i><i style="left:2.6px;top:249.55px;width:11.6px;height:6.86px;background:#3010c0"></i><i style="left:2.6px;top:256.11px;width:11.6px;height:6.86px;background:#6808b0"></i><i style="left:2.6px;top:262.67px;width:11.6px;height:6.86px;background:#7008b8"></i><i style="left:2.6px;top:269.22px;width:11.6px;height:6.86px;background:#8808b0"></i><i style="left:2.6px;top:275.78px;width:11.6px;height:6.86px;background:#a010b0"></i><i style="left:2.6px;top:282.34px;width:11.6px;height:6.86px;background:#a810b8"></i>
<i style="left:2.6px;top:293.30px;width:11.6px;height:6.86px;background:#d89090"></i><i style="left:2.6px;top:299.86px;width:11.6px;height:6.86px;background:#d07070"></i><i style="left:2.6px;top:306.41px;width:11.6px;height:6.86px;background:#c06060"></i><i style="left:2.6px;top:312.97px;width:11.6px;height:6.86px;background:#b05050"></i><i style="left:2.6px;top:319.53px;width:11.6px;height:6.86px;background:#883030"></i><i style="left:2.6px;top:326.09px;width:11.6px;height:6.86px;background:#a00000"></i><i style="left:2.6px;top:332.64px;width:11.6px;height:6.86px;background:#b01000"></i><i style="left:2.6px;top:339.20px;width:11.6px;height:6.86px;background:#c83000"></i><i style="left:2.6px;top:345.76px;width:11.6px;height:6.86px;background:#e05800"></i><i style="left:2.6px;top:352.31px;width:11.6px;height:6.86px;background:#e07000"></i><i style="left:2.6px;top:358.87px;width:11.6px;height:6.86px;background:#d88c00"></i><i style="left:2.6px;top:365.43px;width:11.6px;height:6.86px;background:#d8a000"></i><i style="left:2.6px;top:371.98px;width:11.6px;height:6.86px;background:#d0c000"></i><i style="left:2.6px;top:378.54px;width:11.6px;height:6.86px;background:#f0d800"></i><i style="left:2.6px;top:385.10px;width:11.6px;height:6.86px;background:#e8f000"></i><i style="left:2.6px;top:391.66px;width:11.6px;height:6.86px;background:#98e000"></i><i style="left:2.6px;top:398.21px;width:11.6px;height:6.86px;background:#58d800"></i><i style="left:2.6px;top:404.77px;width:11.6px;height:6.86px;background:#30c830"></i><i style="left:2.6px;top:411.33px;width:11.6px;height:6.86px;background:#30d8e8"></i><i style="left:2.6px;top:417.88px;width:11.6px;height:6.86px;background:#30c8e8"></i><i style="left:2.6px;top:424.44px;width:11.6px;height:6.86px;background:#28b0e0"></i><i style="left:2.6px;top:431.00px;width:11.6px;height:6.86px;background:#28a0e0"></i><i style="left:2.6px;top:437.55px;width:11.6px;height:6.86px;background:#2080e0"></i><i style="left:2.6px;top:444.11px;width:11.6px;height:6.86px;background:#2060d0"></i><i style="left:2.6px;top:450.67px;width:11.6px;height:6.86px;background:#1840d8"></i><i style="left:2.6px;top:457.23px;width:11.6px;height:6.86px;background:#1818c8"></i><i style="left:2.6px;top:463.78px;width:11.6px;height:6.86px;background:#101090"></i><i style="left:2.6px;top:470.34px;width:11.6px;height:6.86px;background:#502098"></i><i style="left:2.6px;top:476.90px;width:11.6px;height:6.86px;background:#7020a8"></i><i style="left:2.6px;top:483.45px;width:11.6px;height:6.86px;background:#7820b0"></i><i style="left:2.6px;top:490.01px;width:11.6px;height:6.86px;background:#9020b0"></i><i style="left:2.6px;top:496.57px;width:11.6px;height:6.86px;background:#a830d0"></i><i style="left:2.6px;top:503.12px;width:11.6px;height:6.86px;background:#a830d0"></i><i style="left:2.6px;top:509.68px;width:11.6px;height:6.86px;background:#b860f0"></i><i style="left:2.6px;top:516.24px;width:11.6px;height:6.86px;background:#b860f0"></i>
<span class="sl" style="left:11.2px;top:69.7px;width:34px;text-align:right;">0.075</span><span class="sl" style="left:11.2px;top:89.4px;width:34px;text-align:right;">0.060</span><span class="sl" style="left:11.2px;top:109.0px;width:34px;text-align:right;">0.045</span><span class="sl" style="left:11.2px;top:128.7px;width:34px;text-align:right;">0.030</span><span class="sl" style="left:11.2px;top:148.4px;width:34px;text-align:right;">0.015</span><span class="sl" style="left:11.2px;top:168.0px;width:34px;text-align:right;">0.000</span><span class="sl" style="left:11.2px;top:187.7px;width:34px;text-align:right;">-0.015</span><span class="sl" style="left:11.2px;top:207.4px;width:34px;text-align:right;">-0.030</span><span class="sl" style="left:11.2px;top:227.1px;width:34px;text-align:right;">-0.045</span><span class="sl" style="left:11.2px;top:246.7px;width:34px;text-align:right;">-0.060</span><span class="sl" style="left:11.2px;top:266.4px;width:34px;text-align:right;">-0.075</span>
<span class="sl" style="left:11.2px;top:303.6px;width:34px;text-align:right;">57.00</span><span class="sl" style="left:11.2px;top:323.3px;width:34px;text-align:right;">54.00</span><span class="sl" style="left:11.2px;top:342.9px;width:34px;text-align:right;">51.00</span><span class="sl" style="left:11.2px;top:362.6px;width:34px;text-align:right;">48.00</span><span class="sl" style="left:11.2px;top:382.3px;width:34px;text-align:right;">45.00</span><span class="sl" style="left:11.2px;top:401.9px;width:34px;text-align:right;">42.00</span><span class="sl" style="left:11.2px;top:421.6px;width:34px;text-align:right;">39.00</span><span class="sl" style="left:11.2px;top:441.3px;width:34px;text-align:right;">36.00</span><span class="sl" style="left:11.2px;top:461.0px;width:34px;text-align:right;">33.00</span><span class="sl" style="left:11.2px;top:480.6px;width:34px;text-align:right;">30.00</span><span class="sl" style="left:11.2px;top:500.3px;width:34px;text-align:right;">27.00</span>
<div class="blk" style="left:834px;top:59px;width:45.8px;height:465px"></div>
<div class="gl" style="left:834px;top:290px;width:46px;height:1.5px"></div>
<div class="gl" style="left:834px;top:523.6px;width:46px;height:1.5px"></div>
<i style="left:834.1px;top:59.40px;width:12.0px;height:6.86px;background:#6b3a7c"></i><i style="left:834.1px;top:65.96px;width:12.0px;height:6.86px;background:#83386e"></i><i style="left:834.1px;top:72.51px;width:12.0px;height:6.86px;background:#8c3670"></i><i style="left:834.1px;top:79.07px;width:12.0px;height:6.86px;background:#a8205a"></i><i style="left:834.1px;top:85.63px;width:12.0px;height:6.86px;background:#a81038"></i><i style="left:834.1px;top:92.19px;width:12.0px;height:6.86px;background:#c01010"></i><i style="left:834.1px;top:98.74px;width:12.0px;height:6.86px;background:#dc1800"></i><i style="left:834.1px;top:105.30px;width:12.0px;height:6.86px;background:#e83800"></i><i style="left:834.1px;top:111.86px;width:12.0px;height:6.86px;background:#e85000"></i><i style="left:834.1px;top:118.41px;width:12.0px;height:6.86px;background:#f07000"></i><i style="left:834.1px;top:124.97px;width:12.0px;height:6.86px;background:#f08000"></i><i style="left:834.1px;top:131.53px;width:12.0px;height:6.86px;background:#f09000"></i><i style="left:834.1px;top:138.08px;width:12.0px;height:6.86px;background:#f0a000"></i><i style="left:834.1px;top:144.64px;width:12.0px;height:6.86px;background:#f0b800"></i><i style="left:834.1px;top:151.20px;width:12.0px;height:6.86px;background:#f0c800"></i><i style="left:834.1px;top:157.75px;width:12.0px;height:6.86px;background:#f0d800"></i><i style="left:834.1px;top:164.31px;width:12.0px;height:6.86px;background:#f0f000"></i><i style="left:834.1px;top:170.87px;width:12.0px;height:6.86px;background:#28c800"></i><i style="left:834.1px;top:177.43px;width:12.0px;height:6.86px;background:#30d8f0"></i><i style="left:834.1px;top:183.98px;width:12.0px;height:6.86px;background:#30c8f0"></i><i style="left:834.1px;top:190.54px;width:12.0px;height:6.86px;background:#28b8f0"></i><i style="left:834.1px;top:197.10px;width:12.0px;height:6.86px;background:#28a8f0"></i><i style="left:834.1px;top:203.65px;width:12.0px;height:6.86px;background:#2898f0"></i><i style="left:834.1px;top:210.21px;width:12.0px;height:6.86px;background:#2088f0"></i><i style="left:834.1px;top:216.77px;width:12.0px;height:6.86px;background:#1878f0"></i><i style="left:834.1px;top:223.33px;width:12.0px;height:6.86px;background:#1870f0"></i><i style="left:834.1px;top:229.88px;width:12.0px;height:6.86px;background:#1860f0"></i><i style="left:834.1px;top:236.44px;width:12.0px;height:6.86px;background:#1050f0"></i><i style="left:834.1px;top:243.00px;width:12.0px;height:6.86px;background:#1818e8"></i><i style="left:834.1px;top:249.55px;width:12.0px;height:6.86px;background:#3010c0"></i><i style="left:834.1px;top:256.11px;width:12.0px;height:6.86px;background:#6808b0"></i><i style="left:834.1px;top:262.67px;width:12.0px;height:6.86px;background:#7008b8"></i><i style="left:834.1px;top:269.22px;width:12.0px;height:6.86px;background:#8808b0"></i><i style="left:834.1px;top:275.78px;width:12.0px;height:6.86px;background:#a010b0"></i><i style="left:834.1px;top:282.34px;width:12.0px;height:6.86px;background:#a810b8"></i>
<i style="left:834.1px;top:293.30px;width:12.0px;height:6.86px;background:#b860f0"></i><i style="left:834.1px;top:299.86px;width:12.0px;height:6.86px;background:#b860f0"></i><i style="left:834.1px;top:306.41px;width:12.0px;height:6.86px;background:#a830d0"></i><i style="left:834.1px;top:312.97px;width:12.0px;height:6.86px;background:#a830d0"></i><i style="left:834.1px;top:319.53px;width:12.0px;height:6.86px;background:#9020b0"></i><i style="left:834.1px;top:326.09px;width:12.0px;height:6.86px;background:#7820b0"></i><i style="left:834.1px;top:332.64px;width:12.0px;height:6.86px;background:#7020a8"></i><i style="left:834.1px;top:339.20px;width:12.0px;height:6.86px;background:#502098"></i><i style="left:834.1px;top:345.76px;width:12.0px;height:6.86px;background:#101090"></i><i style="left:834.1px;top:352.31px;width:12.0px;height:6.86px;background:#1818c8"></i><i style="left:834.1px;top:358.87px;width:12.0px;height:6.86px;background:#1840d8"></i><i style="left:834.1px;top:365.43px;width:12.0px;height:6.86px;background:#2060d0"></i><i style="left:834.1px;top:371.98px;width:12.0px;height:6.86px;background:#2080e0"></i><i style="left:834.1px;top:378.54px;width:12.0px;height:6.86px;background:#28a0e0"></i><i style="left:834.1px;top:385.10px;width:12.0px;height:6.86px;background:#28b0e0"></i><i style="left:834.1px;top:391.66px;width:12.0px;height:6.86px;background:#30c8e8"></i><i style="left:834.1px;top:398.21px;width:12.0px;height:6.86px;background:#30d8e8"></i><i style="left:834.1px;top:404.77px;width:12.0px;height:6.86px;background:#30c830"></i><i style="left:834.1px;top:411.33px;width:12.0px;height:6.86px;background:#58d800"></i><i style="left:834.1px;top:417.88px;width:12.0px;height:6.86px;background:#98e000"></i><i style="left:834.1px;top:424.44px;width:12.0px;height:6.86px;background:#e8f000"></i><i style="left:834.1px;top:431.00px;width:12.0px;height:6.86px;background:#f0d800"></i><i style="left:834.1px;top:437.55px;width:12.0px;height:6.86px;background:#d0c000"></i><i style="left:834.1px;top:444.11px;width:12.0px;height:6.86px;background:#d8a000"></i><i style="left:834.1px;top:450.67px;width:12.0px;height:6.86px;background:#d88c00"></i><i style="left:834.1px;top:457.23px;width:12.0px;height:6.86px;background:#e07000"></i><i style="left:834.1px;top:463.78px;width:12.0px;height:6.86px;background:#e05800"></i><i style="left:834.1px;top:470.34px;width:12.0px;height:6.86px;background:#c83000"></i><i style="left:834.1px;top:476.90px;width:12.0px;height:6.86px;background:#b01000"></i><i style="left:834.1px;top:483.45px;width:12.0px;height:6.86px;background:#a00000"></i><i style="left:834.1px;top:490.01px;width:12.0px;height:6.86px;background:#883030"></i><i style="left:834.1px;top:496.57px;width:12.0px;height:6.86px;background:#b05050"></i><i style="left:834.1px;top:503.12px;width:12.0px;height:6.86px;background:#c06060"></i><i style="left:834.1px;top:509.68px;width:12.0px;height:6.86px;background:#d07070"></i><i style="left:834.1px;top:516.24px;width:12.0px;height:6.86px;background:#d89090"></i>
<span class="sl" style="left:844.0px;top:69.7px;width:34px;text-align:right;">0.075</span><span class="sl" style="left:844.0px;top:89.4px;width:34px;text-align:right;">0.060</span><span class="sl" style="left:844.0px;top:109.0px;width:34px;text-align:right;">0.045</span><span class="sl" style="left:844.0px;top:128.7px;width:34px;text-align:right;">0.030</span><span class="sl" style="left:844.0px;top:148.4px;width:34px;text-align:right;">0.015</span><span class="sl" style="left:844.0px;top:168.0px;width:34px;text-align:right;">0.000</span><span class="sl" style="left:844.0px;top:187.7px;width:34px;text-align:right;">-0.015</span><span class="sl" style="left:844.0px;top:207.4px;width:34px;text-align:right;">-0.030</span><span class="sl" style="left:844.0px;top:227.1px;width:34px;text-align:right;">-0.045</span><span class="sl" style="left:844.0px;top:246.7px;width:34px;text-align:right;">-0.060</span><span class="sl" style="left:844.0px;top:266.4px;width:34px;text-align:right;">-0.075</span>
<span class="sl" style="left:847.0px;top:302.7px;font-size:10.7px;">900</span><span class="sl" style="left:847.0px;top:322.4px;font-size:10.7px;">840</span><span class="sl" style="left:847.0px;top:342.0px;font-size:10.7px;">780</span><span class="sl" style="left:847.0px;top:361.7px;font-size:10.7px;">720</span><span class="sl" style="left:847.0px;top:381.4px;font-size:10.7px;">660</span><span class="sl" style="left:847.0px;top:401.0px;font-size:10.7px;">600</span><span class="sl" style="left:847.0px;top:420.7px;font-size:10.7px;">540</span><span class="sl" style="left:847.0px;top:440.4px;font-size:10.7px;">480</span><span class="sl" style="left:847.0px;top:460.1px;font-size:10.7px;">420</span><span class="sl" style="left:847.0px;top:479.7px;font-size:10.7px;">360</span><span class="sl" style="left:847.0px;top:499.4px;font-size:10.7px;">300</span>
<span class="tn sh2" style="left:52.6px;top:271.6px;width:40px">N</span>
<span class="tn sh2" style="left:778.4px;top:271.6px;width:40px">T</span>
<div class="cc" style="left:-1.3px;top:0;width:881px;height:584px">
<div class="tb" style="left:267.5px;top:1px;width:173px">Anterior Best Fit Sphere</div>
<div class="tb" style="left:441.5px;top:1px;width:172.5px">Posterior Best Fit Sphere</div>
<div class="tb tb2" style="left:267.5px;top:570.2px;width:173px">Keratometric Axial</div>
<div class="tb tb2" style="left:441.5px;top:570.2px;width:172.5px">0.92 Pachymetry</div>
<div class="gb" style="left:331.3px;top:13.6px;width:108.6px"><span class="g8" style="left:1px;top:3px">6.99mm/48.3D</span><span class="g8" style="left:3px;top:27.5px">Diff:</span><span class="g8" style="left:3px;top:39.3px">Meridian:</span><span class="g8" style="left:3px;top:51.1px">Radius:</span></div>
<div class="gb" style="left:441.5px;top:13.6px;width:108.9px"><span class="g8" style="left:1px;top:3px">5.44mm/62.0D</span><span class="g8" style="left:3px;top:27.5px">Diff:</span><span class="g8" style="left:3px;top:39.3px">Meridian:</span><span class="g8" style="left:3px;top:51.1px">Radius:</span></div>
<div class="gb" style="left:331.3px;top:505.2px;width:108.6px"><span class="g8" style="left:3px;top:27.5px">Power:</span><span class="g8" style="left:3px;top:39.3px">Meridian:</span><span class="g8" style="left:3px;top:51.1px">Radius:</span></div>
<div class="gb" style="left:441.5px;top:505.2px;width:108.9px"><span class="g8" style="left:3px;top:27.5px">Thick:</span><span class="g8" style="left:3px;top:39.3px">Meridian:</span><span class="g8" style="left:3px;top:51.1px">Radius:</span></div>
<div class="mx" style="left:300.6px;top:277.0px;line-height:13.6px">Max</div>
<div class="mx" style="left:300.6px;top:290.4px;height:13.4px;line-height:15.6px">Max</div>
<div class="mx" style="left:538.6px;top:277.0px;line-height:13.6px">Max</div>
<div class="mx" style="left:538.6px;top:290.4px;height:13.4px;line-height:15.6px">Max</div>
<div class="info" style="left:344.8px;top:78.0px;width:193px;height:345.6px">
<div class="wb"></div><span class="ltr">B</span>
<span class="hd" style="top:31.4px">08/20/2010 12:58:04 PM</span>
<span class="hd" style="top:45.8px">PRE CATARACT</span>
<span class="hd" style="top:59.3px">DR D HAN</span>
<span class="hd" style="top:71px">SINGAPORE NATIONAL&nbsp; EYE CENTRE</span>
<div class="ln" style="top:85.3px"></div>
<div class="r" style="top:87.5px"><span style="left:5px">Sim K's:</span><span class="m" style="left:42.5px">Astig:</span><span class="m" style="left:73px">-7.6 D</span><span class="m" style="left:108px">@ 102 deg</span></div>
<div class="r rd" style="top:100.3px"><span style="left:5px">Max:</span><span style="left:73px">55.0 D</span><span style="left:108px">@ 12 deg</span></div>
<div class="r bl" style="top:113.0px"><span style="left:5px">Min:</span><span style="left:73px">47.5 D</span><span style="left:108px">@ 102 deg</span></div>
<div class="ln" style="top:126.0px"></div>
<div class="r" style="top:128.5px"><span style="left:5px">3.0 MM Zone:</span><span class="m" style="left:73px">Irreg:</span><span class="m" style="left:108px">± 7.1 D</span></div><div class="r " style="top:141.3px"><span style="left:5px">Mean Pwr</span><span style="left:73px">51.4</span><span style="left:108px">± 6.0 D</span></div><div class="r " style="top:154.0px"><span style="left:5px">Astig Pwr</span><span style="left:73px">3.7</span><span style="left:108px">± 3.7 D</span></div><div class="r rd" style="top:167.0px"><span style="left:5px">Steep Axis</span><span style="left:73px">&nbsp;13</span><span style="left:108px">± 40 deg</span></div><div class="r bl" style="top:179.8px"><span style="left:5px">Flat Axis</span><span style="left:73px">109</span><span style="left:108px">± 39 deg</span></div>
<div class="ln" style="top:193.2px"></div>
<div class="r" style="top:195.5px"><span style="left:5px">5.0 MM Zone:</span><span class="m" style="left:73px">Irreg:</span><span class="m" style="left:108px">± 6.5 D</span></div><div class="r " style="top:208.3px"><span style="left:5px">Mean Pwr</span><span style="left:73px">49.1</span><span style="left:108px">± 5.2 D</span></div><div class="r " style="top:221.0px"><span style="left:5px">Astig Pwr</span><span style="left:73px">1.0</span><span style="left:108px">± 3.9 D</span></div><div class="r rd" style="top:234.0px"><span style="left:5px">Steep Axis</span><span style="left:73px">&nbsp;&nbsp;5</span><span style="left:108px">± 44 deg</span></div><div class="r bl" style="top:246.8px"><span style="left:5px">Flat Axis</span><span style="left:73px">108</span><span style="left:108px">± 42 deg</span></div>
<div class="ln" style="top:260.7px"></div>
<div class="r" style="top:263.4px"><span style="left:5px">White-to-White [mm] : 11.4</span></div>
<div class="r" style="top:276.2px"><span style="left:5px">Pupil Diameter [mm] :&nbsp; 6.5</span></div>
<div class="r" style="top:289.0px"><span style="left:5px">Thinnest : 477 um @ ( 0.2, -0.7 )</span></div>
<div class="r" style="top:301.9px"><span style="left:5px">ACD (Endo): 2.91 mm</span></div>
<div class="r" style="top:314.7px"><span style="left:5px">Kappa : 1.96° @ 355.56°</span></div>
<div class="r" style="top:327.5px"><span style="left:5px">Kappa Intercept : -0.08, 0.72</span></div>
<div class="ln" style="top:340.2px"></div>
</div>
<span class="od sh2" style="left:390px;top:423px;width:100px">OS</span>
<div class="lg" style="left:378.5px;top:464.5px"><i class="c1"></i><i class="c2"></i><i class="c3"></i></div>
<span class="orb" style="left:413.5px;top:467px">ORBSCAN</span>
<span class="ver" style="left:435px;top:495px">v3.14</span>
</div>
<div class="dash"></div><div class="dashv"></div><div class="dashv" style="left:879.8px"></div>
</div>
</div>
<div id="cap"><b>Figure 1:</b> 1A: Pre-operative Orbscan of right eye and 1B: pre-operative Orbscan of left eye.</div>
</body></html>
